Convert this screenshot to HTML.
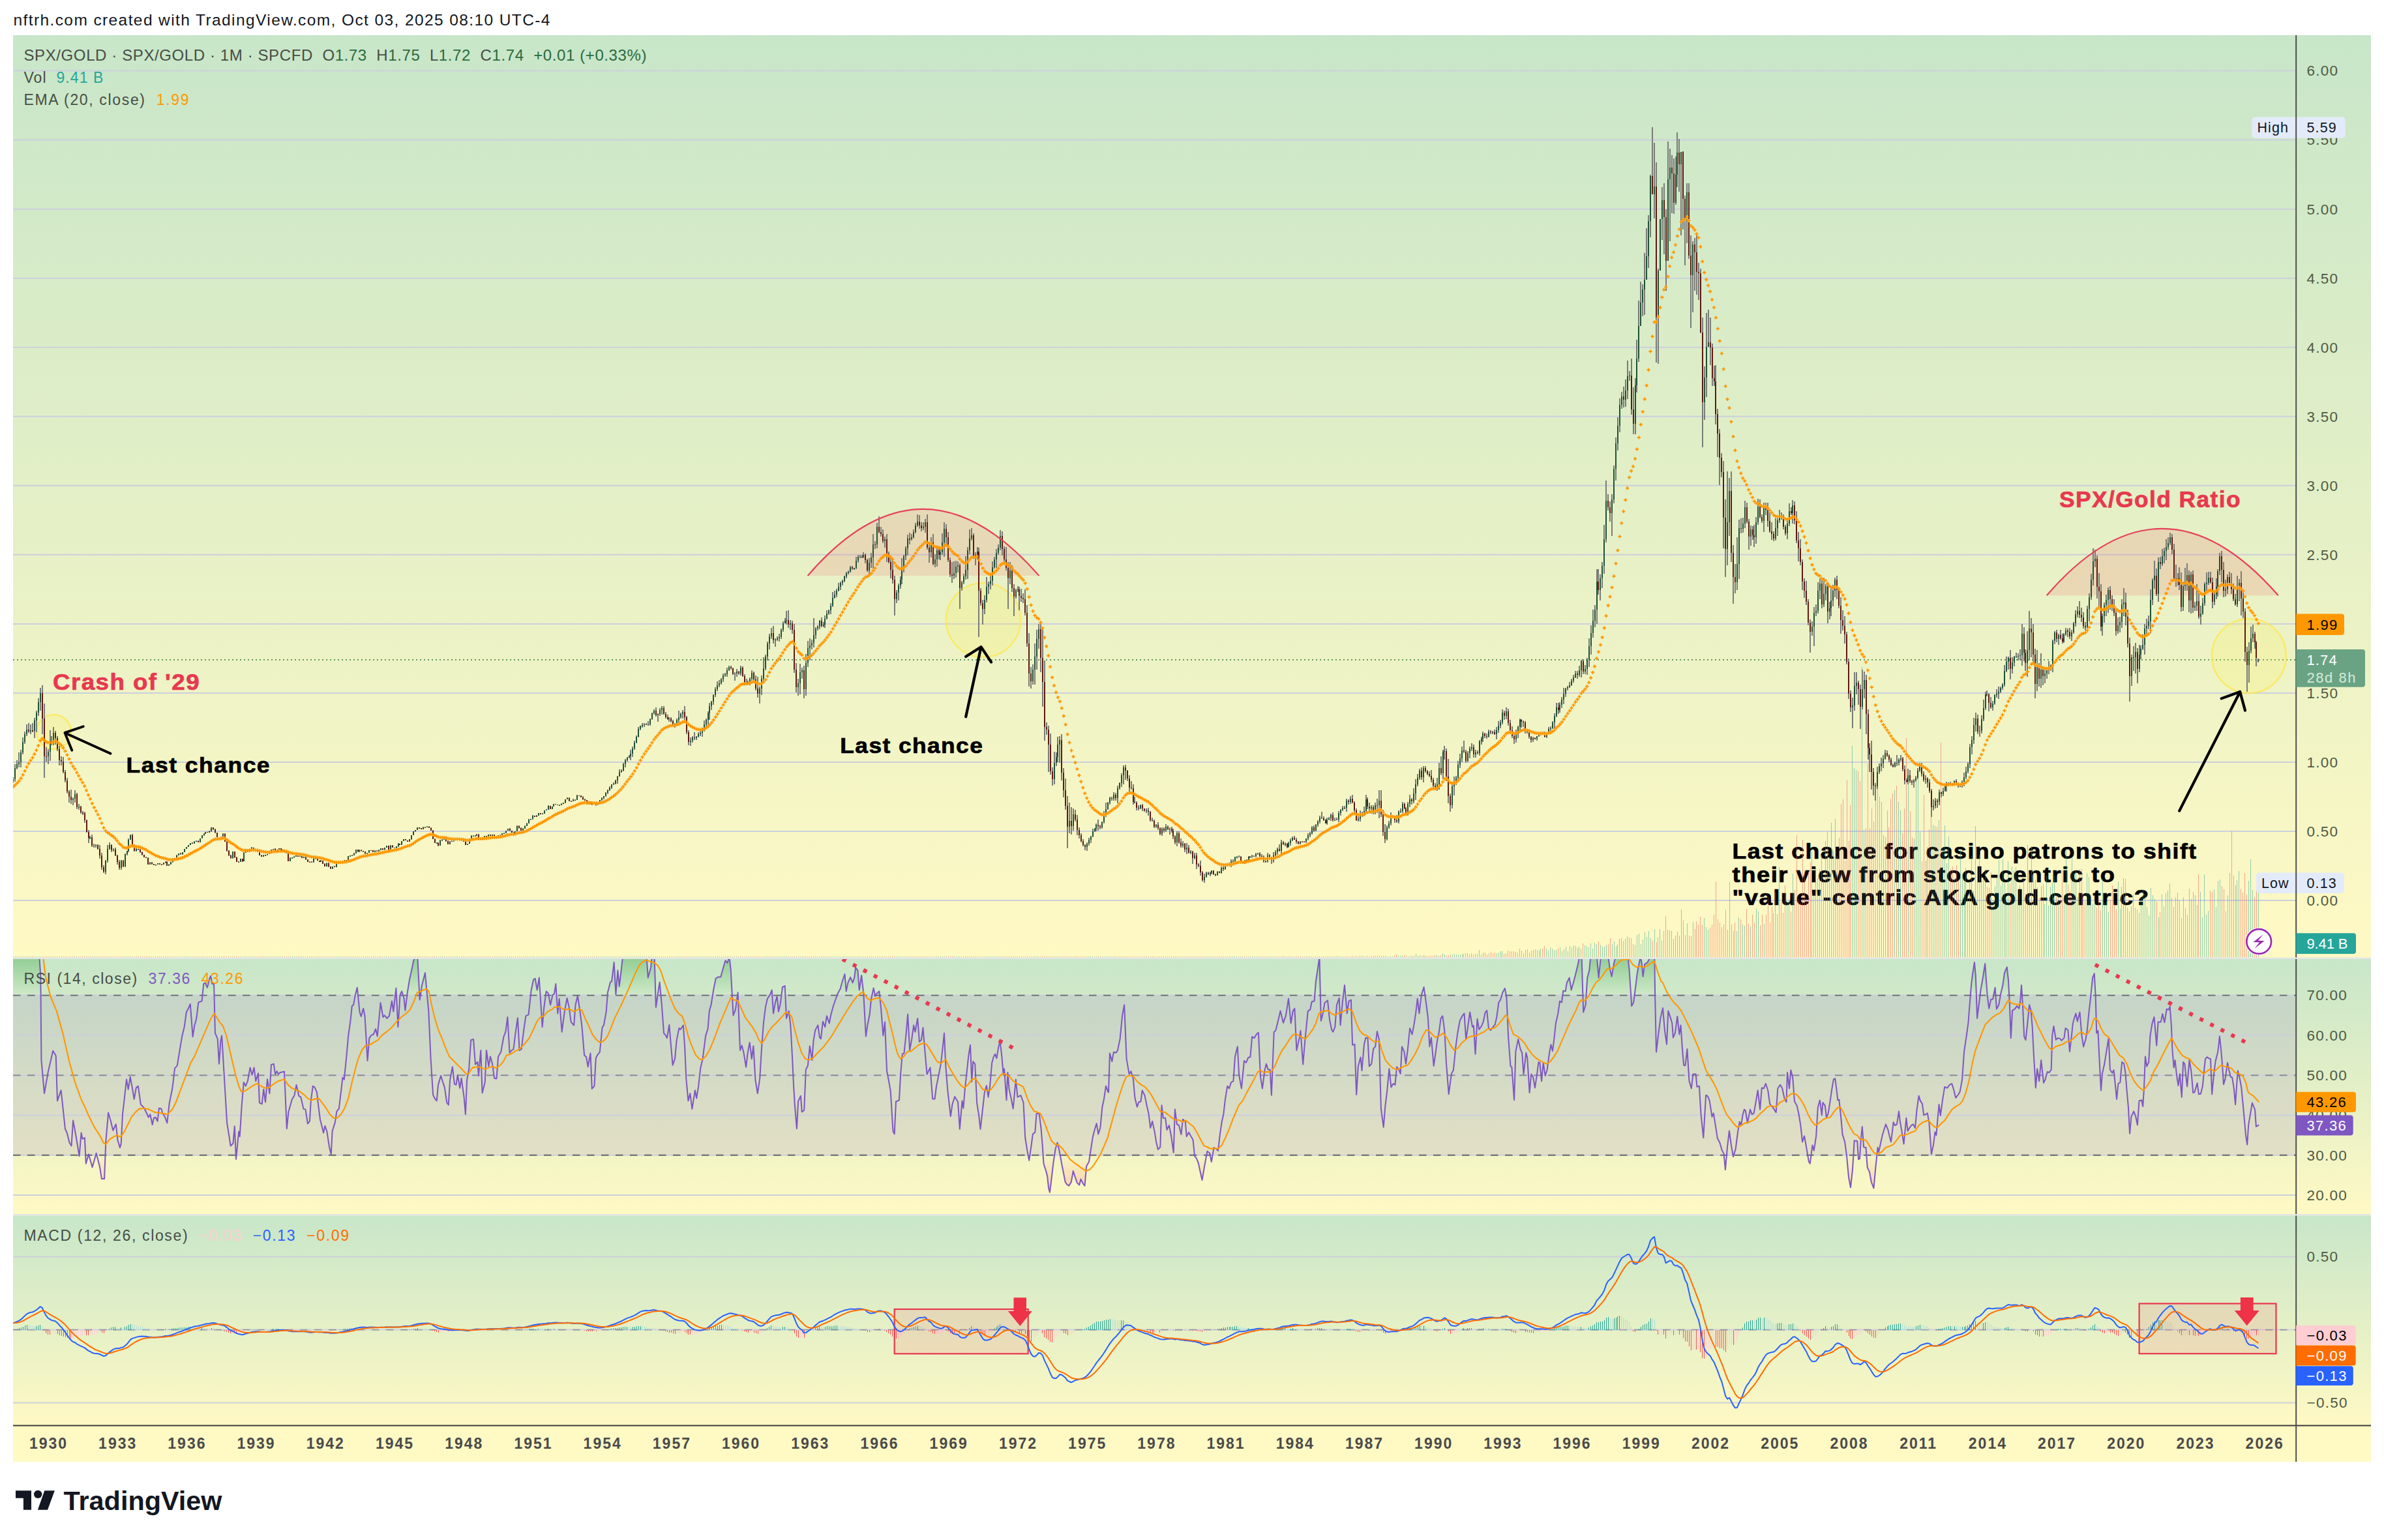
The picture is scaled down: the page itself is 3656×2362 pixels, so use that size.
<!DOCTYPE html>
<html><head><meta charset="utf-8"><title>SPX/GOLD</title>
<style>
html,body{margin:0;padding:0;background:#fff;}
body{width:3656px;height:2362px;overflow:hidden;font-family:'Liberation Sans', sans-serif;}
svg{display:block;position:absolute;left:0;top:0;}
text{font-family:'Liberation Sans', sans-serif;}
.ax{font-size:22.5px;fill:#4e5a46;letter-spacing:1.25px;}
.tm{font-size:23px;font-weight:bold;fill:#4a4a4a;letter-spacing:2px;text-anchor:middle;}
.lg{font-size:23px;fill:#474d45;letter-spacing:1.05px;}
.an{font-weight:bold;letter-spacing:1.4px;stroke-width:0.7px;}
</style></head><body>
<svg width="3656" height="2362" viewBox="0 0 3656 2362">
<defs>
<linearGradient id="g1" x1="0" y1="0" x2="0" y2="1"><stop offset="0" stop-color="#c8e6c9"/><stop offset="1" stop-color="#fff9c4"/></linearGradient>
<linearGradient id="gup" x1="0" y1="1471.0" x2="0" y2="1526.6" gradientUnits="userSpaceOnUse"><stop offset="0" stop-color="#4caf50" stop-opacity="0.42"/><stop offset="1" stop-color="#4caf50" stop-opacity="0"/></linearGradient>
<linearGradient id="gdn" x1="0" y1="1771.8" x2="0" y2="1869.9" gradientUnits="userSpaceOnUse"><stop offset="0" stop-color="#ff5252" stop-opacity="0"/><stop offset="1" stop-color="#ff5252" stop-opacity="0.42"/></linearGradient>
<clipPath id="cm"><rect x="20" y="54" width="3501.2" height="1414.5"/></clipPath>
<clipPath id="cr"><rect x="20" y="1471.0" width="3501.2" height="391.0"/></clipPath>
<clipPath id="cr70"><rect x="20" y="1471.0" width="3501.2" height="55.6"/></clipPath>
<clipPath id="cr30"><rect x="20" y="1771.8" width="3501.2" height="90.2"/></clipPath>
<clipPath id="cd"><rect x="20" y="1864.5" width="3501.2" height="322.0999999999999"/></clipPath>
</defs>

<text x="20.5" y="38.9" font-size="24.5" fill="#131722" textLength="823" lengthAdjust="spacing">nftrh.com created with TradingView.com, Oct 03, 2025 08:10 UTC-4</text>
<rect x="20" y="54" width="3616" height="2188" fill="#fff9c4"/>
<rect x="20" y="54" width="3616" height="1414.5" fill="url(#g1)"/>
<rect x="20" y="1471.0" width="3616" height="391.0" fill="url(#g1)"/>
<rect x="20" y="1864.5" width="3616" height="322.0999999999999" fill="url(#g1)"/>
<path d="M20 1381.0H3521.2M20 1275.0H3521.2M20 1168.9H3521.2M20 1062.9H3521.2M20 956.9H3521.2M20 850.8H3521.2M20 744.8H3521.2M20 638.8H3521.2M20 532.7H3521.2M20 426.7H3521.2M20 320.7H3521.2M20 214.6H3521.2M20 108.6H3521.2" stroke="#ccd0dd" stroke-width="2" fill="none"/>
<text class="an" x="2656.6" y="1316.6" font-size="33.5" fill="#000" stroke="#000" textLength="713" lengthAdjust="spacingAndGlyphs">Last chance for casino patrons to shift</text>
<text class="an" x="2656.6" y="1352.5" font-size="33.5" fill="#000" stroke="#000" textLength="588" lengthAdjust="spacingAndGlyphs">their view from stock-centric to</text>
<text class="an" x="2656.6" y="1388.4" font-size="33.5" fill="#000" stroke="#000" textLength="640" lengthAdjust="spacingAndGlyphs">"value"-centric AKA gold-centric?</text>
<g clip-path="url(#cm)">
<path shape-rendering="crispEdges" d="M44 1468.5v-1.7M49.9 1468.5v-1.7M64.6 1468.5v-1.7M67.6 1468.5v-1.7M70.5 1468.5v-1.7M79.4 1468.5v-1.7M85.3 1468.5v-1.7M88.3 1468.5v-1.7M91.2 1468.5v-1.7M94.2 1468.5v-1.7M97.1 1468.5v-1.7M100.1 1468.5v-1.7M103 1468.5v-1.7M106 1468.5v-1.7M108.9 1468.5v-1.7M117.8 1468.5v-1.7M123.7 1468.5v-1.7M126.6 1468.5v-1.7M129.6 1468.5v-1.7M132.5 1468.5v-1.7M135.5 1468.5v-1.7M141.4 1468.5v-1.7M150.2 1468.5v-1.7M153.2 1468.5v-1.7M156.1 1468.5v-1.7M159.1 1468.5v-1.7M170.9 1468.5v-1.7M176.8 1468.5v-1.7M179.7 1468.5v-1.7M182.7 1468.5v-1.7M188.6 1468.5v-1.7M203.3 1468.5v-1.7M206.3 1468.5v-1.7M212.2 1468.5v-1.7M215.1 1468.5v-1.7M218.1 1468.5v-1.7M221 1468.5v-1.7M224 1468.5v-1.7M226.9 1468.5v-1.7M232.8 1468.5v-1.7M235.8 1468.5v-1.7M244.6 1468.5v-1.7M247.6 1468.5v-1.7M256.4 1468.5v-1.7M277.1 1468.5v-1.7M294.8 1468.5v-1.7M303.6 1468.5v-1.7M318.4 1468.5v-1.7M327.2 1468.5v-1.7M330.2 1468.5v-1.7M333.1 1468.5v-1.7M336.1 1468.5v-1.7M339 1468.5v-1.7M344.9 1468.5v-1.7M347.9 1468.5v-1.7M350.8 1468.5v-1.7M353.8 1468.5v-1.7M359.7 1468.5v-1.7M362.6 1468.5v-1.7M365.6 1468.5v-1.7M371.5 1468.5v-1.7M380.3 1468.5v-1.7M389.2 1468.5v-1.7M392.1 1468.5v-1.7M395.1 1468.5v-1.7M398 1468.5v-1.7M401 1468.5v-1.7M421.6 1468.5v-1.7M430.5 1468.5v-1.7M436.4 1468.5v-1.7M439.3 1468.5v-1.7M442.3 1468.5v-1.7M457 1468.5v-1.7M462.9 1468.5v-1.7M468.8 1468.5v-1.7M471.8 1468.5v-1.7M474.7 1468.5v-1.7M483.6 1468.5v-1.7M486.5 1468.5v-1.7M489.5 1468.5v-1.7M495.4 1468.5v-1.7M498.3 1468.5v-1.7M504.2 1468.5v-1.7M507.2 1468.5v-1.7M513.1 1468.5v-1.7M524.9 1468.5v-1.7M530.8 1468.5v-1.7M548.5 1468.5v-1.7M554.4 1468.5v-1.7M557.3 1468.5v-1.7M560.3 1468.5v-1.7M569.2 1468.5v-1.7M572.1 1468.5v-1.7M578 1468.5v-1.7M586.9 1468.5v-1.7M595.7 1468.5v-1.7M601.6 1468.5v-1.7M613.4 1468.5v-1.7M622.3 1468.5v-1.7M625.2 1468.5v-1.7M642.9 1468.5v-1.7M645.9 1468.5v-1.7M651.8 1468.5v-1.7M657.7 1468.5v-1.7M660.6 1468.5v-1.7M663.6 1468.5v-1.7M666.5 1468.5v-1.7M672.4 1468.5v-1.7M684.2 1468.5v-1.7M687.2 1468.5v-1.7M704.9 1468.5v-1.7M710.8 1468.5v-1.7M713.7 1468.5v-1.7M728.5 1468.5v-1.7M734.4 1468.5v-1.7M740.3 1468.5v-1.7M746.2 1468.5v-1.7M752.1 1468.5v-1.7M758 1468.5v-1.7M781.6 1468.5v-1.7M784.5 1468.5v-1.7M787.5 1468.5v-1.7M796.3 1468.5v-1.7M799.3 1468.5v-1.7M819.9 1468.5v-1.7M828.8 1468.5v-1.7M843.5 1468.5v-1.7M852.4 1468.5v-1.7M855.3 1468.5v-1.7M873 1468.5v-1.7M881.9 1468.5v-1.7M887.8 1468.5v-1.7M890.7 1468.5v-1.7M893.7 1468.5v-1.7M896.6 1468.5v-1.7M899.6 1468.5v-1.7M905.5 1468.5v-1.7M908.4 1468.5v-1.7M914.3 1468.5v-1.7M991 1468.5v-1.7M1005.8 1468.5v-1.7M1017.6 1468.5v-1.7M1020.5 1468.5v-1.7M1023.5 1468.5v-1.7M1029.4 1468.5v-1.7M1032.3 1468.5v-1.7M1050 1468.5v-1.7M1053 1468.5v-1.7M1055.9 1468.5v-1.7M1064.8 1468.5v-1.7M1120.9 1468.5v-1.7M1123.8 1468.5v-1.7M1132.7 1468.5v-1.7M1138.6 1468.5v-1.7M1141.5 1468.5v-1.7M1147.4 1468.5v-1.7M1156.3 1468.5v-1.7M1159.2 1468.5v-1.7M1162.2 1468.5v-1.7M1185.8 1468.5v-1.7M1209.4 1468.5v-1.7M1215.3 1468.5v-1.7M1218.2 1468.5v-1.7M1221.2 1468.5v-1.7M1233 1468.5v-1.7M1259.5 1468.5v-1.7M1306.7 1468.5v-1.7M1321.5 1468.5v-1.7M1327.4 1468.5v-1.7M1330.3 1468.5v-1.7M1342.1 1468.5v-1.7M1348 1468.5v-1.7M1351 1468.5v-1.7M1353.9 1468.5v-1.7M1359.8 1468.5v-1.7M1362.8 1468.5v-1.7M1365.7 1468.5v-1.7M1368.7 1468.5v-1.7M1371.6 1468.5v-1.7M1395.2 1468.5v-1.7M1410 1468.5v-1.7M1412.9 1468.5v-1.7M1421.8 1468.5v-1.7M1424.7 1468.5v-1.7M1430.6 1468.5v-1.7M1439.5 1468.5v-1.7M1451.3 1468.5v-1.7M1454.2 1468.5v-1.7M1457.2 1468.5v-1.7M1460.1 1468.5v-1.7M1471.9 1468.5v-1.7M1492.6 1468.5v-1.7M1501.4 1468.5v-1.7M1504.4 1468.5v-1.7M1507.3 1468.5v-1.7M1536.8 1468.5v-1.7M1539.8 1468.5v-1.7M1542.7 1468.5v-1.7M1545.7 1468.5v-1.7M1551.6 1468.5v-1.7M1554.6 1468.5v-1.7M1563.4 1468.5v-1.7M1566.4 1468.5v-1.7M1569.3 1468.5v-1.7M1572.3 1468.5v-1.7M1575.2 1468.5v-1.7M1578.2 1468.5v-1.7M1581.1 1468.5v-1.7M1595.9 1468.5v-1.7M1598.8 1468.5v-1.7M1601.8 1468.5v-1.7M1604.7 1468.5v-1.7M1607.7 1468.5v-1.7M1610.6 1468.5v-1.7M1613.6 1468.5v-1.7M1628.3 1468.5v-1.7M1631.3 1468.5v-1.7M1634.2 1468.5v-1.7M1637.2 1468.5v-1.7M1643.1 1468.5v-1.7M1649 1468.5v-1.7M1651.9 1468.5v-1.7M1654.9 1468.5v-1.7M1657.8 1468.5v-1.7M1660.8 1468.5v-1.7M1663.7 1468.5v-1.7M1684.4 1468.5v-1.7M1687.3 1468.5v-1.7M1705 1468.5v-1.7M1710.9 1468.5v-1.7M1725.7 1468.5v-1.7M1728.6 1468.5v-1.7M1731.6 1468.5v-1.7M1734.5 1468.5v-1.7M1737.5 1468.5v-1.7M1740.4 1468.5v-1.7M1743.4 1468.5v-1.7M1746.3 1468.5v-1.7M1752.2 1468.5v-1.7M1755.2 1468.5v-1.7M1761.1 1468.5v-1.7M1764 1468.5v-1.7M1767 1468.5v-1.7M1769.9 1468.5v-1.7M1775.8 1468.5v-1.7M1778.8 1468.5v-1.7M1784.7 1468.5v-1.7M1790.6 1468.5v-1.7M1796.5 1468.5v-1.7M1799.4 1468.5v-1.7M1802.4 1468.5v-1.7M1808.3 1468.5v-1.7M1811.2 1468.5v-1.7M1817.1 1468.5v-1.7M1823 1468.5v-1.9M1828.9 1468.5v-1.7M1834.8 1468.5v-1.7M1837.8 1468.5v-1.7M1840.7 1468.5v-1.7M1843.7 1468.5v-1.7M1852.5 1468.5v-1.7M1861.4 1468.5v-1.7M1864.3 1468.5v-1.7M1870.2 1468.5v-1.7M1876.1 1468.5v-1.7M1885 1468.5v-1.7M1902.7 1468.5v-1.7M1905.6 1468.5v-1.7M1911.5 1468.5v-1.7M1917.4 1468.5v-1.7M1932.2 1468.5v-1.7M1935.1 1468.5v-1.7M1938.1 1468.5v-1.7M1941 1468.5v-1.7M1946.9 1468.5v-1.7M1949.9 1468.5v-1.7M1961.7 1468.5v-1.7M1967.6 1468.5v-2.6M1973.5 1468.5v-1.7M1985.3 1468.5v-1.7M1988.2 1468.5v-1.7M1991.2 1468.5v-1.7M1997.1 1468.5v-1.7M2000 1468.5v-1.7M2014.8 1468.5v-1.9M2026.6 1468.5v-1.9M2029.5 1468.5v-1.7M2032.5 1468.5v-1.7M2044.3 1468.5v-1.7M2062 1468.5v-1.7M2067.9 1468.5v-1.7M2073.8 1468.5v-2.4M2076.8 1468.5v-1.7M2079.7 1468.5v-2.4M2097.4 1468.5v-2.4M2100.4 1468.5v-1.7M2106.3 1468.5v-2.6M2118.1 1468.5v-2.4M2121 1468.5v-2.5M2124 1468.5v-2.8M2138.7 1468.5v-2.3M2141.7 1468.5v-4.8M2153.5 1468.5v-3.1M2156.4 1468.5v-2.6M2165.3 1468.5v-2.2M2180 1468.5v-2.6M2185.9 1468.5v-2.5M2188.9 1468.5v-2.7M2191.8 1468.5v-2.3M2194.8 1468.5v-2.5M2197.7 1468.5v-2.3M2200.7 1468.5v-3.6M2209.5 1468.5v-3.3M2218.4 1468.5v-2.5M2221.3 1468.5v-2.5M2224.3 1468.5v-4.9M2244.9 1468.5v-5.6M2247.9 1468.5v-6.4M2259.7 1468.5v-4.6M2265.6 1468.5v-5.5M2277.4 1468.5v-7.9M2280.3 1468.5v-4.4M2286.2 1468.5v-8.7M2289.2 1468.5v-6.4M2292.1 1468.5v-7.6M2306.9 1468.5v-5.3M2312.8 1468.5v-10.6M2315.7 1468.5v-9.4M2318.7 1468.5v-9.7M2321.6 1468.5v-9.4M2333.4 1468.5v-10.3M2336.4 1468.5v-7M2339.3 1468.5v-11.2M2342.3 1468.5v-12.3M2345.2 1468.5v-7.3M2348.2 1468.5v-10.8M2354.1 1468.5v-12.8M2365.9 1468.5v-13.6M2368.8 1468.5v-17.6M2389.5 1468.5v-13.8M2419 1468.5v-14.3M2427.8 1468.5v-21.6M2451.4 1468.5v-24.6M2466.2 1468.5v-20.1M2469.1 1468.5v-29.6M2489.8 1468.5v-25.3M2501.6 1468.5v-29.4M2504.5 1468.5v-21M2534.1 1468.5v-25.3M2540 1468.5v-23.6M2551.8 1468.5v-40.6M2554.7 1468.5v-63.1M2563.6 1468.5v-40.4M2566.5 1468.5v-29M2575.4 1468.5v-33.8M2581.3 1468.5v-57.6M2584.2 1468.5v-34.8M2590.1 1468.5v-33.5M2593.1 1468.5v-32.8M2599 1468.5v-43.9M2601.9 1468.5v-55.4M2604.9 1468.5v-50.4M2607.8 1468.5v-62.5M2610.8 1468.5v-49.6M2622.6 1468.5v-45.3M2625.5 1468.5v-51M2628.5 1468.5v-65.3M2631.4 1468.5v-116.6M2634.4 1468.5v-59M2637.3 1468.5v-53.2M2640.3 1468.5v-46.2M2643.2 1468.5v-50.5M2646.2 1468.5v-73.8M2655 1468.5v-50.4M2658 1468.5v-40.6M2660.9 1468.5v-53.3M2669.8 1468.5v-58.8M2678.6 1468.5v-74.3M2681.6 1468.5v-51.7M2687.5 1468.5v-65.2M2690.4 1468.5v-53.7M2699.3 1468.5v-49.2M2702.2 1468.5v-65.6M2708.1 1468.5v-65.7M2711.1 1468.5v-92.8M2714 1468.5v-53.3M2717 1468.5v-77.9M2719.9 1468.5v-68.9M2731.7 1468.5v-85.4M2734.7 1468.5v-68.5M2737.6 1468.5v-110.8M2746.5 1468.5v-70.5M2752.4 1468.5v-103.6M2755.3 1468.5v-188M2758.3 1468.5v-89.9M2761.2 1468.5v-83.9M2764.2 1468.5v-180.4M2767.1 1468.5v-133.9M2770.1 1468.5v-84.5M2773 1468.5v-131.3M2776 1468.5v-145.1M2793.7 1468.5v-156.4M2802.5 1468.5v-192.4M2817.3 1468.5v-155.3M2820.2 1468.5v-183.7M2823.2 1468.5v-235.1M2826.1 1468.5v-242.9M2829.1 1468.5v-148.5M2832 1468.5v-272.3M2835 1468.5v-178.9M2837.9 1468.5v-233.3M2849.7 1468.5v-286M2852.7 1468.5v-270.3M2861.5 1468.5v-198.7M2864.5 1468.5v-297.8M2867.4 1468.5v-198.9M2870.4 1468.5v-228.6M2873.3 1468.5v-208.2M2876.3 1468.5v-265.8M2894 1468.5v-225.1M2896.9 1468.5v-199.1M2899.9 1468.5v-243.6M2902.8 1468.5v-251.8M2908.7 1468.5v-263.8M2917.6 1468.5v-191M2920.5 1468.5v-228.7M2923.5 1468.5v-336.2M2929.4 1468.5v-224.6M2932.3 1468.5v-184.2M2947.1 1468.5v-147.7M2950 1468.5v-249.9M2955.9 1468.5v-169.1M2958.9 1468.5v-196.8M2961.8 1468.5v-216.7M2970.7 1468.5v-200.7M2976.6 1468.5v-329.3M2991.3 1468.5v-135.1M2994.3 1468.5v-139.2M3000.2 1468.5v-141.2M3003.1 1468.5v-120M3032.7 1468.5v-129.8M3047.4 1468.5v-108.4M3050.4 1468.5v-107M3053.3 1468.5v-130.9M3082.8 1468.5v-113.2M3103.5 1468.5v-118.1M3106.4 1468.5v-98.7M3115.3 1468.5v-170.6M3118.2 1468.5v-132M3121.2 1468.5v-119.8M3127.1 1468.5v-91.9M3133 1468.5v-112.8M3153.6 1468.5v-94.7M3159.5 1468.5v-90.7M3162.5 1468.5v-133.7M3171.3 1468.5v-111.5M3174.3 1468.5v-101.7M3189 1468.5v-136M3192 1468.5v-135.1M3194.9 1468.5v-97.5M3197.9 1468.5v-86.1M3215.6 1468.5v-76.8M3218.5 1468.5v-93.9M3221.5 1468.5v-72.8M3236.2 1468.5v-88.1M3239.2 1468.5v-110.3M3242.1 1468.5v-82.7M3245.1 1468.5v-73.6M3259.8 1468.5v-120.7M3262.8 1468.5v-77M3265.7 1468.5v-70.9M3271.6 1468.5v-96.7M3277.5 1468.5v-74M3307 1468.5v-85.6M3312.9 1468.5v-70M3330.6 1468.5v-91.2M3333.6 1468.5v-77.6M3336.5 1468.5v-92.2M3342.4 1468.5v-87.7M3345.4 1468.5v-60.9M3357.2 1468.5v-106M3363.1 1468.5v-100.9M3371.9 1468.5v-127.9M3389.6 1468.5v-102.8M3392.6 1468.5v-100.5M3407.3 1468.5v-109.6M3410.3 1468.5v-104.8M3419.1 1468.5v-129.7M3422.1 1468.5v-193.5M3425 1468.5v-125.7M3428 1468.5v-110.1M3436.8 1468.5v-105.6M3439.8 1468.5v-99.9M3442.7 1468.5v-129.9M3445.7 1468.5v-96.5M3457.5 1468.5v-92.7M3460.4 1468.5v-108.3" stroke="#ef5350" stroke-opacity="0.5" stroke-width="1" fill="none"/>
<path shape-rendering="crispEdges" d="M20.4 1468.5v-1.7M23.3 1468.5v-1.7M26.3 1468.5v-1.7M29.2 1468.5v-1.7M32.2 1468.5v-1.7M35.1 1468.5v-1.7M38.1 1468.5v-1.7M41 1468.5v-1.7M46.9 1468.5v-1.7M52.8 1468.5v-1.7M55.8 1468.5v-1.7M58.7 1468.5v-1.7M61.7 1468.5v-1.7M73.5 1468.5v-1.7M76.5 1468.5v-1.7M82.4 1468.5v-1.7M111.9 1468.5v-1.7M114.8 1468.5v-1.7M120.7 1468.5v-1.7M138.4 1468.5v-1.7M144.3 1468.5v-1.7M147.3 1468.5v-1.7M162 1468.5v-1.7M165 1468.5v-1.7M167.9 1468.5v-1.7M173.8 1468.5v-1.7M185.6 1468.5v-1.7M191.5 1468.5v-1.7M194.5 1468.5v-1.7M197.4 1468.5v-1.7M200.4 1468.5v-1.7M209.2 1468.5v-1.7M229.9 1468.5v-1.7M238.7 1468.5v-1.7M241.7 1468.5v-1.7M250.5 1468.5v-1.7M253.5 1468.5v-1.7M259.4 1468.5v-1.7M262.3 1468.5v-1.7M265.3 1468.5v-1.7M268.2 1468.5v-1.7M271.2 1468.5v-1.7M274.1 1468.5v-1.7M280 1468.5v-1.7M283 1468.5v-1.7M285.9 1468.5v-1.7M288.9 1468.5v-1.7M291.8 1468.5v-1.7M297.7 1468.5v-1.7M300.7 1468.5v-1.7M306.6 1468.5v-1.7M309.5 1468.5v-1.7M312.5 1468.5v-1.7M315.4 1468.5v-1.7M321.3 1468.5v-1.7M324.3 1468.5v-1.7M342 1468.5v-1.7M356.7 1468.5v-1.7M368.5 1468.5v-1.7M374.4 1468.5v-1.7M377.4 1468.5v-1.7M383.3 1468.5v-1.7M386.2 1468.5v-1.7M403.9 1468.5v-1.7M406.9 1468.5v-1.7M409.8 1468.5v-1.7M412.8 1468.5v-1.7M415.7 1468.5v-1.7M418.7 1468.5v-1.7M424.6 1468.5v-1.7M427.5 1468.5v-1.7M433.4 1468.5v-1.7M445.2 1468.5v-1.7M448.2 1468.5v-1.7M451.1 1468.5v-1.7M454.1 1468.5v-1.7M460 1468.5v-1.7M465.9 1468.5v-1.7M477.7 1468.5v-1.7M480.6 1468.5v-1.7M492.4 1468.5v-1.7M501.3 1468.5v-1.7M510.1 1468.5v-1.7M516 1468.5v-1.7M519 1468.5v-1.7M521.9 1468.5v-1.7M527.8 1468.5v-1.7M533.7 1468.5v-1.7M536.7 1468.5v-1.7M539.6 1468.5v-1.7M542.6 1468.5v-1.7M545.5 1468.5v-1.7M551.4 1468.5v-1.7M563.2 1468.5v-1.7M566.2 1468.5v-1.7M575.1 1468.5v-1.7M581 1468.5v-1.7M583.9 1468.5v-1.7M589.8 1468.5v-1.7M592.8 1468.5v-1.7M598.7 1468.5v-1.7M604.6 1468.5v-1.7M607.5 1468.5v-1.7M610.5 1468.5v-1.7M616.4 1468.5v-1.7M619.3 1468.5v-1.7M628.2 1468.5v-1.7M631.1 1468.5v-1.7M634.1 1468.5v-1.7M637 1468.5v-1.7M640 1468.5v-1.7M648.8 1468.5v-1.7M654.7 1468.5v-1.7M669.5 1468.5v-1.7M675.4 1468.5v-1.7M678.3 1468.5v-1.7M681.3 1468.5v-1.7M690.1 1468.5v-1.7M693.1 1468.5v-1.7M696 1468.5v-1.7M699 1468.5v-1.7M701.9 1468.5v-1.7M707.8 1468.5v-1.7M716.7 1468.5v-1.7M719.6 1468.5v-1.7M722.6 1468.5v-1.7M725.5 1468.5v-1.7M731.4 1468.5v-1.7M737.3 1468.5v-1.7M743.2 1468.5v-1.7M749.1 1468.5v-1.7M755 1468.5v-1.7M760.9 1468.5v-1.7M763.9 1468.5v-1.7M766.8 1468.5v-1.7M769.8 1468.5v-1.7M772.7 1468.5v-1.7M775.7 1468.5v-1.7M778.6 1468.5v-1.7M790.4 1468.5v-1.7M793.4 1468.5v-1.7M802.2 1468.5v-1.7M805.2 1468.5v-1.7M808.1 1468.5v-1.7M811.1 1468.5v-1.7M814 1468.5v-1.7M817 1468.5v-1.7M822.9 1468.5v-1.7M825.8 1468.5v-1.7M831.7 1468.5v-1.7M834.7 1468.5v-1.7M837.6 1468.5v-1.7M840.6 1468.5v-1.7M846.5 1468.5v-1.7M849.4 1468.5v-1.7M858.3 1468.5v-1.7M861.2 1468.5v-1.7M864.2 1468.5v-1.7M867.1 1468.5v-1.7M870.1 1468.5v-1.7M876 1468.5v-1.7M878.9 1468.5v-1.7M884.8 1468.5v-1.7M902.5 1468.5v-1.7M911.4 1468.5v-1.7M917.3 1468.5v-1.7M920.2 1468.5v-1.7M923.2 1468.5v-1.7M926.1 1468.5v-1.7M929.1 1468.5v-1.7M932 1468.5v-1.7M935 1468.5v-1.7M937.9 1468.5v-1.7M940.9 1468.5v-1.7M943.8 1468.5v-1.7M946.8 1468.5v-1.7M949.7 1468.5v-1.7M952.7 1468.5v-1.7M955.6 1468.5v-1.7M958.6 1468.5v-1.7M961.5 1468.5v-1.7M964.5 1468.5v-1.7M967.4 1468.5v-1.7M970.4 1468.5v-1.7M973.3 1468.5v-1.7M976.3 1468.5v-1.7M979.2 1468.5v-1.7M982.2 1468.5v-1.7M985.1 1468.5v-1.7M988.1 1468.5v-1.7M994 1468.5v-1.7M996.9 1468.5v-1.7M999.9 1468.5v-1.7M1002.8 1468.5v-1.7M1008.7 1468.5v-1.7M1011.7 1468.5v-1.7M1014.6 1468.5v-1.7M1026.4 1468.5v-1.7M1035.3 1468.5v-1.7M1038.2 1468.5v-1.7M1041.2 1468.5v-1.7M1044.1 1468.5v-1.7M1047.1 1468.5v-1.7M1058.9 1468.5v-1.7M1061.9 1468.5v-1.7M1067.8 1468.5v-1.7M1070.7 1468.5v-1.7M1073.7 1468.5v-1.7M1076.6 1468.5v-1.7M1079.6 1468.5v-1.7M1082.5 1468.5v-1.7M1085.5 1468.5v-1.7M1088.4 1468.5v-1.7M1091.4 1468.5v-1.7M1094.3 1468.5v-1.7M1097.3 1468.5v-1.7M1100.2 1468.5v-1.7M1103.2 1468.5v-1.7M1106.1 1468.5v-1.7M1109.1 1468.5v-1.7M1112 1468.5v-1.7M1115 1468.5v-1.7M1117.9 1468.5v-1.7M1126.8 1468.5v-1.7M1129.7 1468.5v-1.7M1135.6 1468.5v-1.7M1144.5 1468.5v-1.7M1150.4 1468.5v-1.7M1153.3 1468.5v-1.7M1165.1 1468.5v-1.7M1168.1 1468.5v-1.7M1171 1468.5v-1.7M1174 1468.5v-1.7M1176.9 1468.5v-1.7M1179.9 1468.5v-1.7M1182.8 1468.5v-1.7M1188.7 1468.5v-1.7M1191.7 1468.5v-1.7M1194.6 1468.5v-1.7M1197.6 1468.5v-1.7M1200.5 1468.5v-1.7M1203.5 1468.5v-1.7M1206.4 1468.5v-1.7M1212.3 1468.5v-1.7M1224.1 1468.5v-1.7M1227.1 1468.5v-1.7M1230 1468.5v-1.7M1235.9 1468.5v-1.7M1238.9 1468.5v-1.7M1241.8 1468.5v-1.7M1244.8 1468.5v-1.7M1247.7 1468.5v-1.7M1250.7 1468.5v-1.7M1253.6 1468.5v-1.7M1256.6 1468.5v-1.7M1262.5 1468.5v-1.7M1265.4 1468.5v-1.7M1268.4 1468.5v-1.7M1271.3 1468.5v-1.7M1274.3 1468.5v-1.7M1277.2 1468.5v-1.7M1280.2 1468.5v-1.7M1283.1 1468.5v-1.7M1286.1 1468.5v-1.7M1289 1468.5v-1.7M1292 1468.5v-1.7M1294.9 1468.5v-1.7M1297.9 1468.5v-1.7M1300.8 1468.5v-1.7M1303.8 1468.5v-1.7M1309.7 1468.5v-1.7M1312.6 1468.5v-1.7M1315.6 1468.5v-1.7M1318.5 1468.5v-1.7M1324.4 1468.5v-1.7M1333.3 1468.5v-1.7M1336.2 1468.5v-1.7M1339.2 1468.5v-1.7M1345.1 1468.5v-1.7M1356.9 1468.5v-1.7M1374.6 1468.5v-1.7M1377.5 1468.5v-1.7M1380.5 1468.5v-1.7M1383.4 1468.5v-1.7M1386.4 1468.5v-1.7M1389.3 1468.5v-1.7M1392.3 1468.5v-1.7M1398.2 1468.5v-1.7M1401.1 1468.5v-1.7M1404.1 1468.5v-1.7M1407 1468.5v-1.7M1415.9 1468.5v-1.7M1418.8 1468.5v-1.7M1427.7 1468.5v-1.7M1433.6 1468.5v-1.7M1436.5 1468.5v-1.7M1442.4 1468.5v-1.7M1445.4 1468.5v-1.7M1448.3 1468.5v-1.7M1463.1 1468.5v-1.7M1466 1468.5v-1.7M1469 1468.5v-1.7M1474.9 1468.5v-1.7M1477.8 1468.5v-1.7M1480.8 1468.5v-1.7M1483.7 1468.5v-1.7M1486.7 1468.5v-1.7M1489.6 1468.5v-1.7M1495.5 1468.5v-1.7M1498.5 1468.5v-1.7M1510.3 1468.5v-1.7M1513.2 1468.5v-1.7M1516.2 1468.5v-1.7M1519.1 1468.5v-1.7M1522.1 1468.5v-1.7M1525 1468.5v-1.7M1528 1468.5v-1.7M1530.9 1468.5v-1.7M1533.9 1468.5v-1.7M1548.6 1468.5v-1.7M1557.5 1468.5v-1.7M1560.5 1468.5v-1.7M1584.1 1468.5v-1.7M1587 1468.5v-1.7M1590 1468.5v-1.7M1592.9 1468.5v-1.7M1616.5 1468.5v-1.7M1619.5 1468.5v-1.7M1622.4 1468.5v-1.7M1625.4 1468.5v-1.7M1640.1 1468.5v-1.7M1646 1468.5v-1.7M1666.7 1468.5v-1.7M1669.6 1468.5v-1.7M1672.6 1468.5v-1.7M1675.5 1468.5v-1.7M1678.5 1468.5v-1.7M1681.4 1468.5v-1.7M1690.3 1468.5v-1.7M1693.2 1468.5v-1.7M1696.2 1468.5v-1.7M1699.1 1468.5v-1.7M1702.1 1468.5v-1.7M1708 1468.5v-1.7M1713.9 1468.5v-1.7M1716.8 1468.5v-1.7M1719.8 1468.5v-1.7M1722.7 1468.5v-1.7M1749.3 1468.5v-1.7M1758.1 1468.5v-1.7M1772.9 1468.5v-1.7M1781.7 1468.5v-1.7M1787.6 1468.5v-1.7M1793.5 1468.5v-1.7M1805.3 1468.5v-1.7M1814.2 1468.5v-1.7M1820.1 1468.5v-1.7M1826 1468.5v-1.7M1831.9 1468.5v-1.7M1846.6 1468.5v-1.7M1849.6 1468.5v-1.7M1855.5 1468.5v-1.7M1858.4 1468.5v-1.7M1867.3 1468.5v-1.7M1873.2 1468.5v-1.7M1879.1 1468.5v-1.7M1882 1468.5v-1.7M1887.9 1468.5v-1.7M1890.9 1468.5v-1.7M1893.8 1468.5v-1.7M1896.8 1468.5v-1.7M1899.7 1468.5v-1.7M1908.6 1468.5v-1.7M1914.5 1468.5v-1.7M1920.4 1468.5v-1.7M1923.3 1468.5v-1.7M1926.3 1468.5v-1.7M1929.2 1468.5v-1.7M1944 1468.5v-1.7M1952.8 1468.5v-1.7M1955.8 1468.5v-1.7M1958.7 1468.5v-1.7M1964.6 1468.5v-1.7M1970.5 1468.5v-1.7M1976.4 1468.5v-1.7M1979.4 1468.5v-1.7M1982.3 1468.5v-1.7M1994.1 1468.5v-1.7M2003 1468.5v-1.9M2005.9 1468.5v-1.7M2008.9 1468.5v-1.7M2011.8 1468.5v-1.7M2017.7 1468.5v-1.7M2020.7 1468.5v-1.7M2023.6 1468.5v-1.7M2035.4 1468.5v-1.7M2038.4 1468.5v-2M2041.4 1468.5v-1.7M2047.3 1468.5v-2M2050.2 1468.5v-2.1M2053.2 1468.5v-1.7M2056.1 1468.5v-1.7M2059.1 1468.5v-1.7M2065 1468.5v-1.7M2070.9 1468.5v-2M2082.7 1468.5v-1.7M2085.6 1468.5v-2.7M2088.6 1468.5v-2.5M2091.5 1468.5v-1.7M2094.5 1468.5v-1.7M2103.3 1468.5v-2.5M2109.2 1468.5v-2.5M2112.2 1468.5v-2.7M2115.1 1468.5v-2.6M2126.9 1468.5v-1.9M2129.9 1468.5v-1.7M2132.8 1468.5v-1.7M2135.8 1468.5v-1.8M2144.6 1468.5v-2.3M2147.6 1468.5v-2.6M2150.5 1468.5v-2.2M2159.4 1468.5v-1.7M2162.3 1468.5v-2.8M2168.2 1468.5v-2.5M2171.2 1468.5v-5.1M2174.1 1468.5v-2.8M2177.1 1468.5v-3.2M2183 1468.5v-3.1M2203.6 1468.5v-3.4M2206.6 1468.5v-2.7M2212.5 1468.5v-6.3M2215.4 1468.5v-4.3M2227.2 1468.5v-4.4M2230.2 1468.5v-5.2M2233.1 1468.5v-4.6M2236.1 1468.5v-4.9M2239 1468.5v-5M2242 1468.5v-5.1M2250.8 1468.5v-6.4M2253.8 1468.5v-4.7M2256.7 1468.5v-6.3M2262.6 1468.5v-5.3M2268.5 1468.5v-11.4M2271.5 1468.5v-4.2M2274.4 1468.5v-7.3M2283.3 1468.5v-6.9M2295.1 1468.5v-6.9M2298 1468.5v-8M2301 1468.5v-9.5M2303.9 1468.5v-9.3M2309.8 1468.5v-6.6M2324.6 1468.5v-8.6M2327.5 1468.5v-7.6M2330.5 1468.5v-13.2M2351.1 1468.5v-11.7M2357 1468.5v-11.9M2360 1468.5v-10.5M2362.9 1468.5v-13.3M2371.8 1468.5v-13.4M2374.7 1468.5v-10.8M2377.7 1468.5v-15.9M2380.6 1468.5v-13.2M2383.6 1468.5v-12M2386.5 1468.5v-11.8M2392.4 1468.5v-15.7M2395.4 1468.5v-9.1M2398.3 1468.5v-12.9M2401.3 1468.5v-16.6M2404.2 1468.5v-10M2407.2 1468.5v-17.4M2410.1 1468.5v-15.5M2413.1 1468.5v-18.6M2416 1468.5v-17.4M2421.9 1468.5v-16.8M2424.9 1468.5v-13.4M2430.8 1468.5v-18.5M2433.7 1468.5v-17.3M2436.7 1468.5v-15.2M2439.6 1468.5v-21.7M2442.6 1468.5v-13.8M2445.5 1468.5v-22.3M2448.5 1468.5v-20.4M2454.4 1468.5v-19.8M2457.3 1468.5v-16.4M2460.3 1468.5v-16.6M2463.2 1468.5v-19.3M2472.1 1468.5v-20.4M2475 1468.5v-24.4M2478 1468.5v-17.9M2480.9 1468.5v-20.9M2483.9 1468.5v-28.6M2486.8 1468.5v-29.5M2492.7 1468.5v-29M2495.7 1468.5v-32.1M2498.6 1468.5v-30.5M2507.5 1468.5v-19.3M2510.4 1468.5v-34.1M2513.4 1468.5v-36.2M2516.3 1468.5v-20.8M2519.3 1468.5v-27.4M2522.2 1468.5v-38.7M2525.2 1468.5v-31.8M2528.1 1468.5v-40.2M2531.1 1468.5v-29.5M2537 1468.5v-43.2M2542.9 1468.5v-30.9M2545.9 1468.5v-43.6M2548.8 1468.5v-25.1M2557.7 1468.5v-43M2560.6 1468.5v-41.9M2569.5 1468.5v-33.3M2572.4 1468.5v-39.5M2578.3 1468.5v-73.7M2587.2 1468.5v-53M2596 1468.5v-54.5M2613.7 1468.5v-60.1M2616.7 1468.5v-46.5M2619.6 1468.5v-42.7M2649.1 1468.5v-42.1M2652.1 1468.5v-115.9M2663.9 1468.5v-41M2666.8 1468.5v-61.7M2672.7 1468.5v-50.9M2675.7 1468.5v-48.2M2684.5 1468.5v-47.7M2693.4 1468.5v-75.6M2696.3 1468.5v-71M2705.2 1468.5v-51.3M2722.9 1468.5v-100.3M2725.8 1468.5v-66.5M2728.8 1468.5v-138.6M2740.6 1468.5v-83.4M2743.5 1468.5v-88.7M2749.4 1468.5v-128.6M2778.9 1468.5v-162.7M2781.9 1468.5v-95.8M2784.8 1468.5v-137.6M2787.8 1468.5v-121.5M2790.7 1468.5v-135.9M2796.6 1468.5v-117.1M2799.6 1468.5v-178.5M2805.5 1468.5v-153M2808.4 1468.5v-206.9M2811.4 1468.5v-163.7M2814.3 1468.5v-212.7M2840.9 1468.5v-324.8M2843.8 1468.5v-290.4M2846.8 1468.5v-287.8M2855.6 1468.5v-445.9M2858.6 1468.5v-195.8M2879.2 1468.5v-259.9M2882.2 1468.5v-246.9M2885.1 1468.5v-238.2M2888.1 1468.5v-187.8M2891 1468.5v-184.1M2905.8 1468.5v-256.4M2911.7 1468.5v-238.4M2914.6 1468.5v-225.4M2926.4 1468.5v-271M2935.3 1468.5v-182.7M2938.2 1468.5v-272.7M2941.2 1468.5v-282.5M2944.1 1468.5v-192.4M2953 1468.5v-148.1M2964.8 1468.5v-203.4M2967.7 1468.5v-201.9M2973.6 1468.5v-210.5M2979.5 1468.5v-168.5M2982.5 1468.5v-202.5M2985.4 1468.5v-145M2988.4 1468.5v-185.3M2997.2 1468.5v-121.2M3006.1 1468.5v-164.2M3009 1468.5v-128.5M3012 1468.5v-115.6M3014.9 1468.5v-137.4M3017.9 1468.5v-95.8M3020.8 1468.5v-114.4M3023.8 1468.5v-155.4M3026.8 1468.5v-102.9M3029.7 1468.5v-202M3035.6 1468.5v-156.6M3038.6 1468.5v-125.5M3041.5 1468.5v-122.7M3044.5 1468.5v-134.5M3056.3 1468.5v-87.2M3059.2 1468.5v-109.3M3062.2 1468.5v-121.6M3065.1 1468.5v-149.8M3068.1 1468.5v-110.6M3071 1468.5v-150.7M3074 1468.5v-116.1M3076.9 1468.5v-89.6M3079.9 1468.5v-147.3M3085.8 1468.5v-139.9M3088.7 1468.5v-134M3091.7 1468.5v-138.1M3094.6 1468.5v-86.1M3097.6 1468.5v-110.5M3100.5 1468.5v-87.5M3109.4 1468.5v-172.1M3112.3 1468.5v-128.6M3124.1 1468.5v-108M3130 1468.5v-110M3135.9 1468.5v-81.6M3138.9 1468.5v-125.2M3141.8 1468.5v-79.9M3144.8 1468.5v-108.7M3147.7 1468.5v-114.7M3150.7 1468.5v-126M3156.6 1468.5v-96.7M3165.4 1468.5v-96M3168.4 1468.5v-166.7M3177.2 1468.5v-152.3M3180.2 1468.5v-129.4M3183.1 1468.5v-132.2M3186.1 1468.5v-92.1M3200.8 1468.5v-129.5M3203.8 1468.5v-123.4M3206.7 1468.5v-81.9M3209.7 1468.5v-82.3M3212.6 1468.5v-88.7M3224.4 1468.5v-121M3227.4 1468.5v-83.5M3230.3 1468.5v-85.5M3233.3 1468.5v-69.4M3248 1468.5v-116.5M3251 1468.5v-74.7M3253.9 1468.5v-108.3M3256.9 1468.5v-121.9M3268.7 1468.5v-78.1M3274.6 1468.5v-76.3M3280.5 1468.5v-68.4M3283.4 1468.5v-91.9M3286.4 1468.5v-104.3M3289.3 1468.5v-97.3M3292.3 1468.5v-77.3M3295.2 1468.5v-64.3M3298.2 1468.5v-106.2M3301.1 1468.5v-95.3M3304.1 1468.5v-89.3M3310 1468.5v-61.6M3315.9 1468.5v-96.1M3318.8 1468.5v-78.9M3321.8 1468.5v-98.3M3324.7 1468.5v-102.5M3327.7 1468.5v-113.1M3339.5 1468.5v-99.4M3348.3 1468.5v-92.3M3351.3 1468.5v-75.6M3354.2 1468.5v-65.4M3360.1 1468.5v-89.5M3366 1468.5v-95.1M3369 1468.5v-80.7M3374.9 1468.5v-100.6M3377.8 1468.5v-61.1M3380.8 1468.5v-127.3M3383.7 1468.5v-65.8M3386.7 1468.5v-71.8M3395.5 1468.5v-104.2M3398.5 1468.5v-78M3401.4 1468.5v-117.9M3404.4 1468.5v-119.1M3413.2 1468.5v-70.5M3416.2 1468.5v-95.6M3430.9 1468.5v-118.1M3433.9 1468.5v-132.4M3448.6 1468.5v-118M3451.6 1468.5v-150.7M3454.5 1468.5v-103.8M3463.4 1468.5v-126" stroke="#26a69a" stroke-opacity="0.5" stroke-width="1" fill="none"/>
<path d="M20 1012.0H3521.2" stroke="#5f9662" stroke-width="2" stroke-dasharray="2 4" fill="none"/>
<path d="M1238.6 883.1Q1414.8 678.7 1593.5 883.1Z" fill="#f23645" fill-opacity="0.125"/>
<path d="M3138.8 913.2Q3315.5 708.4 3493.8 913.2Z" fill="#f23645" fill-opacity="0.14"/>
<circle cx="82.6" cy="1122.7" r="26.5" fill="#ffeb3b" fill-opacity="0.17" stroke="#ffe74a" stroke-opacity="0.7" stroke-width="2.6"/>
<circle cx="1508" cy="951" r="57" fill="#ffeb3b" fill-opacity="0.17" stroke="#ffe74a" stroke-opacity="0.7" stroke-width="2.6"/>
<circle cx="3449" cy="1006" r="57" fill="#ffeb3b" fill-opacity="0.17" stroke="#ffe74a" stroke-opacity="0.7" stroke-width="2.6"/>
<path shape-rendering="crispEdges" d="M20.4 1192.3V1201M23.3 1171.9V1198.5M26.3 1166.2V1179.9M29.2 1153.7V1177.2M32.2 1150.1V1177.2M35.1 1131.2V1156.8M38.1 1122.2V1141.4M41 1111V1128.8M44 1108.6V1123.6M46.9 1111.4V1125.7M49.9 1109.4V1123.1M52.8 1100.8V1132M55.8 1090.1V1122.5M58.7 1070.7V1097.8M61.7 1054.5V1089.5M64.6 1051.1V1125.5M67.6 1078.6V1192.9M70.5 1145.9V1169.4M73.5 1148.8V1172M76.5 1120V1166.9M79.4 1128.9V1143M82.4 1114.9V1143.2M85.3 1121.2V1141.6M88.3 1128.8V1152.3M91.2 1143.5V1174M94.2 1160.4V1173.5M97.1 1160.8V1186M100.1 1181.3V1199.8M103 1193.1V1216.8M106 1211.8V1231.1M108.9 1210.7V1233.4M111.9 1223.4V1235M114.8 1212.4V1230.9M117.8 1216.2V1240.9M120.7 1233.1V1241.9M123.7 1236V1247.6M126.6 1244.3V1249.8M129.6 1245.1V1261.8M132.5 1256.6V1277.2M135.5 1273.1V1293.2M138.4 1282V1287.1M141.4 1279.7V1298.9M144.3 1293.8V1300.1M147.3 1294.8V1300M150.2 1294.7V1302.9M153.2 1295.9V1317.2M156.1 1307.7V1333.6M159.1 1326.7V1339.2M162 1318.9V1341.2M165 1296.3V1322.8M167.9 1292.1V1302.9M170.9 1295.1V1306.5M173.8 1300.8V1305.8M176.8 1300.4V1313.3M179.7 1310.7V1325.8M182.7 1319.1V1333.9M185.6 1318.5V1334.4M188.6 1319V1330.4M191.5 1308.6V1330.4M194.5 1304.5V1311.7M197.4 1286.3V1306.9M200.4 1279.6V1288.2M203.3 1279.4V1297.2M206.3 1295.2V1305.9M209.2 1301.2V1305.8M212.2 1301.7V1303.8M215.1 1302.3V1308.2M218.1 1306.3V1311.6M221 1310.8V1314.8M224 1314.2V1316M226.9 1315.2V1326.2M229.9 1322.4V1326.2M232.8 1322.4V1325.5M235.8 1324.9V1327.4M238.7 1325.8V1327.5M241.7 1323.6V1326.2M244.6 1323.5V1325.9M247.6 1325.1V1325.9M250.5 1323.2V1325.9M253.5 1321.4V1323.5M256.4 1321.4V1328.4M259.4 1324.9V1328.3M262.3 1322V1325.7M265.3 1316.4V1322.9M268.2 1315.5V1317.3M271.2 1311.2V1316M274.1 1308.7V1312.1M277.1 1308.4V1310.7M280 1306.7V1310.8M283 1301.8V1307.3M285.9 1298.8V1302M288.9 1295.5V1299.3M291.8 1292.5V1295.8M294.8 1292.1V1294.4M297.7 1290.4V1294.2M300.7 1289.2V1290.8M303.6 1289.1V1291.8M306.6 1285.7V1291.9M309.5 1280.8V1286.3M312.5 1278.3V1281.8M315.4 1275.9V1279.4M318.4 1275.7V1277.4M321.3 1274.4V1277.2M324.3 1268.6V1275.7M327.2 1268.5V1272.9M330.2 1271.4V1277.5M333.1 1277V1284.2M336.1 1283.5V1284.6M339 1283.4V1285.1M342 1277.9V1285M344.9 1277.9V1291.3M347.9 1290.2V1305.8M350.8 1303.9V1313M353.8 1311.3V1317.1M356.7 1305.5V1316.9M359.7 1305.5V1315.8M362.6 1314.1V1322M365.6 1320.5V1322.4M368.5 1316.6V1322.3M371.5 1317.1V1321.8M374.4 1307V1321.2M377.4 1301.8V1307.9M380.3 1302.5V1307M383.3 1301.7V1306.5M386.2 1299.2V1303.1M389.2 1299.5V1303.9M392.1 1303.6V1304.9M395.1 1303.8V1307.2M398 1306.3V1311.7M401 1311.3V1314.2M403.9 1311V1314.1M406.9 1310.8V1311.7M409.8 1309.7V1311.6M412.8 1308V1310.2M415.7 1303.1V1308.7M418.7 1301.5V1303.8M421.6 1301.4V1306.1M424.6 1302.9V1305.9M427.5 1301V1303.4M430.5 1300.9V1305.6M433.4 1302.6V1306.1M436.4 1302.8V1307M439.3 1306.5V1308.6M442.3 1308.1V1320.9M445.2 1315.4V1321M448.2 1314.9V1316.3M451.1 1313.4V1315.8M454.1 1311.8V1313.9M457 1311.6V1314.3M460 1312.1V1314.1M462.9 1312.1V1315.7M465.9 1314V1315.7M468.8 1313.8V1318.6M471.8 1318.2V1321.8M474.7 1321.3V1322.6M477.7 1321.4V1322.7M480.6 1314V1322.9M483.6 1313.6V1317.7M486.5 1316.8V1320.3M489.5 1319.8V1321.9M492.4 1319.2V1321.9M495.4 1319.6V1325.2M498.3 1323.9V1329.1M501.3 1323.2V1329M504.2 1323.2V1329.5M507.2 1328.9V1332.7M510.1 1328.8V1332.6M513.1 1328.4V1329.6M516 1324.4V1329.7M519 1323.4V1324.9M521.9 1321.6V1323.9M524.9 1321.6V1322.1M527.8 1319V1322.2M530.8 1319.2V1319.8M533.7 1313.2V1320M536.7 1312.1V1313.7M539.6 1311.4V1312.7M542.6 1308.4V1312M545.5 1303.2V1309.3M548.5 1303.1V1306.6M551.4 1303.2V1306.6M554.4 1303.2V1305.6M557.3 1304.9V1306.6M560.3 1306V1309.5M563.2 1307.5V1309.8M566.2 1304V1307.8M569.2 1303.8V1304.6M572.1 1304V1307.2M575.1 1304.4V1307.4M578 1304.4V1306.1M581 1303.4V1306.2M583.9 1300.5V1304M586.9 1300.8V1303.6M589.8 1299.5V1303.9M592.8 1297.2V1300.4M595.7 1296.7V1303.8M598.7 1296.1V1303.5M601.6 1296.1V1300.4M604.6 1299.6V1300.4M607.5 1297.9V1300.5M610.5 1293.4V1298.6M613.4 1293.5V1296.3M616.4 1289.5V1296.3M619.3 1287.3V1290.2M622.3 1287V1288.9M625.2 1288.5V1291M628.2 1287.2V1291.2M631.1 1280.8V1287.5M634.1 1275V1281.3M637 1273.1V1275.5M640 1268.9V1273.4M642.9 1269.2V1270.3M645.9 1269.8V1271.6M648.8 1268.2V1271.5M651.8 1268.4V1269.2M654.7 1267.3V1269.3M657.7 1267.2V1270.1M660.6 1268.6V1274.2M663.6 1273.3V1287M666.5 1286.4V1293.3M669.5 1292.3V1293.3M672.4 1292.4V1297.7M675.4 1288.1V1297.4M678.3 1287.4V1289.7M681.3 1284V1287.7M684.2 1283.5V1290.7M687.2 1289.3V1295.1M690.1 1290.4V1295.2M693.1 1289.4V1291.1M696 1288.5V1290.6M699 1286.2V1289.3M701.9 1286V1286.7M704.9 1286V1289.4M707.8 1288.1V1289.6M710.8 1287.6V1291.2M713.7 1290.4V1295.8M716.7 1293.8V1295.8M719.6 1285.6V1294.3M722.6 1281.1V1286.3M725.5 1281.2V1282.1M728.5 1281.2V1282.5M731.4 1279.1V1282.4M734.4 1278.8V1287.6M737.3 1285.5V1287.7M740.3 1285.3V1287.8M743.2 1281.9V1288.1M746.2 1282.1V1284.4M749.1 1279.6V1284.2M752.1 1279.8V1282M755 1280.4V1281.8M758 1280.3V1283.7M760.9 1282.9V1283.6M763.9 1281.2V1283.5M766.8 1280.4V1281.5M769.8 1277.8V1280.9M772.7 1277.2V1277.9M775.7 1273.5V1278M778.6 1270.8V1273.8M781.6 1270.4V1274.7M784.5 1273.5V1277.3M787.5 1276.3V1278.7M790.4 1274.5V1278.7M793.4 1265.6V1274.9M796.3 1265.7V1270.5M799.3 1269.3V1273.8M802.2 1270.3V1274M805.2 1266.4V1271.2M808.1 1262V1266.8M811.1 1256.4V1263.2M814 1256V1257.6M817 1250.3V1256.6M819.9 1250.5V1253.1M822.9 1249.6V1253M825.8 1246.8V1250.8M828.8 1247.1V1249.1M831.7 1247.4V1249.1M834.7 1242.8V1247.9M837.6 1241.3V1243.4M840.6 1235.3V1241.7M843.5 1235.8V1240.8M846.5 1236.8V1240.8M849.4 1232.5V1237.1M852.4 1232.5V1234M855.3 1233.5V1235.1M858.3 1234.3V1234.8M861.2 1232.2V1234.8M864.2 1231V1232.7M867.1 1225.9V1231.6M870.1 1223.2V1226.3M873 1223.2V1228.8M876 1228V1228.8M878.9 1225.4V1229.4M881.9 1225.6V1227M884.8 1219.2V1227M887.8 1219.6V1220.5M890.7 1220V1223.3M893.7 1220.9V1226.6M896.6 1225.2V1228.9M899.6 1226.9V1234.2M902.5 1229V1233.6M905.5 1229.4V1233.8M908.4 1232.5V1234.5M911.4 1230.6V1233.8M914.3 1231.2V1235.8M917.3 1231.5V1235.1M920.2 1226.8V1233.9M923.2 1223V1227.9M926.1 1220.8V1225.5M929.1 1215.4V1222.2M932 1210.5V1217.5M935 1205.6V1212.5M937.9 1202.5V1209.7M940.9 1199.5V1204.3M943.8 1195.8V1203M946.8 1189.9V1201.6M949.7 1180.3V1191.4M952.7 1179.9V1185M955.6 1169.7V1182.8M958.6 1163.9V1176.8M961.5 1160.5V1167.8M964.5 1158.3V1162.5M967.4 1150.2V1165.6M970.4 1145.4V1160.7M973.3 1136.1V1149.9M976.3 1128.4V1139.6M979.2 1115.3V1131M982.2 1112.6V1120.2M985.1 1109.4V1115.6M988.1 1108.9V1115.4M991 1109.3V1112.4M994 1106.3V1112.9M996.9 1102V1112.6M999.9 1093V1104.2M1002.8 1088.1V1095.8M1005.8 1085.1V1099M1008.7 1093.8V1107.2M1011.7 1085.9V1097.5M1014.6 1082.6V1095.6M1017.6 1083.4V1096.1M1020.5 1091.8V1101.9M1023.5 1095.9V1104.1M1026.4 1099.6V1106.5M1029.4 1099.7V1107.8M1032.3 1103.8V1113.9M1035.3 1108.7V1116.1M1038.2 1101.8V1110.8M1041.2 1090.3V1109.2M1044.1 1093.1V1102.1M1047.1 1088.7V1101.6M1050 1082.5V1104.9M1053 1097.8V1126M1055.9 1120.1V1143M1058.9 1131.2V1144.4M1061.9 1128.8V1138.7M1064.8 1123V1135M1067.8 1128.7V1134.8M1070.7 1122.5V1131.4M1073.7 1119.7V1129.3M1076.6 1116.3V1129.7M1079.6 1105.2V1121.7M1082.5 1102.3V1114.6M1085.5 1091.1V1112.1M1088.4 1078.3V1103.9M1091.4 1074.5V1088.7M1094.3 1064.7V1081.1M1097.3 1053.6V1068.5M1100.2 1045.4V1060.3M1103.2 1043.4V1054.1M1106.1 1039.6V1050.2M1109.1 1033.1V1045.8M1112 1031.8V1037.5M1115 1024.1V1037.6M1117.9 1021.3V1029.4M1120.9 1020.7V1027M1123.8 1023.7V1034.8M1126.8 1030.5V1044.2M1129.7 1025.9V1038.3M1132.7 1028.6V1034.7M1135.6 1021.2V1035.9M1138.6 1021.6V1037.7M1141.5 1034.2V1051.3M1144.5 1041.1V1050.8M1147.4 1043.5V1050.4M1150.4 1039.3V1050.5M1153.3 1028.1V1044.9M1156.3 1029.9V1043.9M1159.2 1036.1V1058.7M1162.2 1037.7V1069.6M1165.1 1052.5V1078.7M1168.1 1035.7V1065.8M1171 1007.7V1047.8M1174 1003.6V1028.3M1176.9 984.2V1013.3M1179.9 971.9V995.5M1182.8 962.7V980M1185.8 959.9V987.2M1188.7 979.2V991.8M1191.7 976.4V982.7M1194.6 971.9V984.2M1197.6 963.6V979.5M1200.5 953V969.1M1203.5 947.5V956.4M1206.4 936.6V958.3M1209.4 936.2V963.3M1212.3 951.3V965.9M1215.3 951.6V971.7M1218.2 957V1031.6M1221.2 1017.4V1062M1224.1 1041.4V1066.8M1227.1 1017.8V1064.8M1230 1023.7V1041.1M1233 1020.9V1070.5M1235.9 1002.5V1067.2M1238.9 982.5V1023.4M1241.8 979.2V1012.6M1244.8 981.4V995.5M1247.7 948V992.8M1250.7 961.5V980.1M1253.6 959.3V966.5M1256.6 950.7V964.9M1259.5 947.2V961.9M1262.5 954.1V961.7M1265.4 943.9V963.2M1268.4 935.8V950.3M1271.3 935V943.1M1274.3 925.3V941.5M1277.2 908.4V930.8M1280.2 905.7V917.7M1283.1 902.9V916.3M1286.1 893.7V907.1M1289 892.2V905.2M1292 889.1V898.2M1294.9 882.5V893.4M1297.9 877.3V886.7M1300.8 875.3V881M1303.8 867.8V878M1306.7 868V874.2M1309.7 870.7V873.5M1312.6 854.3V873M1315.6 851V863.3M1318.5 851.2V855.6M1321.5 851.4V856.1M1324.4 847V856.3M1327.4 848.6V864.1M1330.3 857V877M1333.3 855.9V880.9M1336.2 848V870.9M1339.2 819.3V872.1M1342.1 829.5V841.9M1345.1 802.4V841.3M1348 791.7V818M1351 807.9V822.7M1353.9 811.7V833M1356.9 823.4V840.4M1359.8 818.5V862.2M1362.8 846V864.4M1365.7 853.7V887.4M1368.7 859.9V895.4M1371.6 883V944M1374.6 905.1V925M1377.5 894.6V920.6M1380.5 884.2V903M1383.4 856V895.9M1386.4 850.7V878M1389.3 837.7V859.3M1392.3 820.2V852.1M1395.2 816.5V835.3M1398.2 819.1V828.6M1401.1 812V826M1404.1 802.1V817.9M1407 789.2V808.4M1410 790.1V811M1412.9 800.5V814.5M1415.9 801.1V813.1M1418.8 796.1V816.5M1421.8 789.3V843M1424.7 831.2V862.9M1427.7 823.9V854.7M1430.6 819.1V866.8M1433.6 849.7V869.9M1436.5 836.8V869.1M1439.5 837.5V857.7M1442.4 838.9V858.9M1445.4 818.4V850.7M1448.3 800.5V853.6M1451.3 804V838.1M1454.2 815.9V862.3M1457.2 855.2V885M1460.1 861.9V893.8M1463.1 860.9V887.8M1466 860.4V885.5M1469 861.4V878.4M1471.9 863.7V933.9M1474.9 891.2V905.6M1477.8 879.9V895.9M1480.8 853.4V889.2M1483.7 839.1V887.6M1486.7 811.7V849.9M1489.6 810.1V828.9M1492.6 817.9V856.8M1495.5 847V866.7M1498.5 839.4V858.3M1501.4 840.1V976.7M1504.4 901.5V928.6M1507.3 920.3V957.8M1510.3 912.6V942.2M1513.2 885V924.1M1516.2 892.1V911.3M1519.1 881V903.9M1522.1 861.3V898.1M1525 854.1V871.8M1528 842.3V871.2M1530.9 835.1V850.5M1533.9 813.1V844.2M1536.8 815.4V851.7M1539.8 838.2V862.8M1542.7 839.4V875.3M1545.7 861.9V933.9M1548.6 861.7V896.2M1551.6 867.4V908M1554.6 896V945.3M1557.5 902.9V917.7M1560.5 898.9V907.8M1563.4 899.8V936.4M1566.4 903.1V923M1569.3 910.1V924.6M1572.3 903.6V944.1M1575.2 927.5V991.8M1578.2 971.2V1052.5M1581.1 1023.1V1056.4M1584.1 1019.3V1049.6M1587 987.2V1050.2M1590 966.1V1026.7M1592.9 956.8V995.3M1595.9 953.1V1031.3M1598.8 961.5V1083.5M1601.8 1012.8V1135.5M1604.7 1108.3V1126.6M1607.7 1112.9V1184.2M1610.6 1124.8V1188.2M1613.6 1177V1204.9M1616.5 1153.1V1203.3M1619.5 1153.8V1175.3M1622.4 1129.9V1169M1625.4 1129.2V1170.1M1628.3 1126.1V1196.7M1631.3 1178.2V1223.2M1634.2 1193.5V1242.3M1637.2 1220.9V1301.2M1640.1 1231.3V1278.1M1643.1 1237.9V1280.1M1646 1239.8V1273.9M1649 1241.9V1259.9M1651.9 1250.2V1280.5M1654.9 1269.1V1286M1657.8 1278V1291.5M1660.8 1286.5V1297.6M1663.7 1294.7V1303.5M1666.7 1292V1304.8M1669.6 1285.2V1297M1672.6 1281.9V1293.2M1675.5 1271.2V1284.4M1678.5 1269.9V1276.1M1681.4 1262.8V1275.1M1684.4 1257.3V1273.5M1687.3 1264.7V1271.5M1690.3 1259.5V1271.2M1693.2 1244.4V1262.7M1696.2 1230.9V1253M1699.1 1230.3V1242.1M1702.1 1221.7V1233.7M1705 1221.9V1227.7M1708 1214.6V1227.6M1710.9 1216.4V1228.2M1713.9 1204.9V1232.1M1716.8 1200V1210.6M1719.8 1186.2V1207M1722.7 1174.3V1203.1M1725.7 1172.9V1195.9M1728.6 1180.5V1198.3M1731.6 1189.2V1213.9M1734.5 1198.3V1211.3M1737.5 1203V1234.3M1740.4 1221.9V1232.2M1743.4 1229.4V1242.6M1746.3 1234.6V1242.7M1749.3 1233.6V1241M1752.2 1232.5V1244.2M1755.2 1239.5V1245.4M1758.1 1240V1247.3M1761.1 1238.8V1250.5M1764 1243.9V1260.2M1767 1253.9V1259.9M1769.9 1256.8V1269.8M1772.9 1264V1270.1M1775.8 1260.8V1273.1M1778.8 1268.8V1281.3M1781.7 1269.1V1282M1784.7 1268.7V1277.4M1787.6 1264.4V1276.1M1790.6 1266.4V1273.2M1793.5 1268.9V1279.6M1796.5 1267.9V1277.4M1799.4 1270.7V1287M1802.4 1281.4V1295M1805.3 1275.2V1297.7M1808.3 1275.3V1293.9M1811.2 1286.2V1300.4M1814.2 1290V1300.1M1817.1 1292.6V1307M1820.1 1293.4V1310.3M1823 1296.3V1309.3M1826 1304.4V1310.2M1828.9 1305V1325.1M1831.9 1308V1317.8M1834.8 1307.8V1332.7M1837.8 1324V1329.9M1840.7 1319.8V1342.8M1843.7 1335.8V1352.1M1846.6 1339.6V1354.4M1849.6 1336.8V1346.2M1852.5 1337.1V1342.3M1855.5 1337.3V1343.9M1858.4 1334.5V1341.4M1861.4 1334.6V1341.7M1864.3 1340.2V1343.5M1867.3 1335.5V1342.8M1870.2 1336.1V1339.4M1873.2 1329.1V1340M1876.1 1328.1V1335.8M1879.1 1323.8V1334.2M1882 1323.6V1328.5M1885 1322.7V1329.4M1887.9 1318.1V1330.1M1890.9 1317.6V1322.6M1893.8 1313.7V1322.4M1896.8 1312.7V1316.7M1899.7 1312.3V1314.2M1902.7 1312.9V1323.3M1905.6 1321.8V1324.6M1908.6 1318.7V1325M1911.5 1318.2V1320.9M1914.5 1312.9V1320.7M1917.4 1312.6V1315.6M1920.4 1310.9V1315.9M1923.3 1311.8V1314.2M1926.3 1308.1V1314.7M1929.2 1308V1311.2M1932.2 1306.8V1314.9M1935.1 1310.4V1315M1938.1 1311.9V1322.5M1941 1319.9V1322.9M1944 1307.7V1322.6M1946.9 1310V1316.3M1949.9 1314V1325.3M1952.8 1306.5V1323M1955.8 1304V1313.5M1958.7 1300V1311.1M1961.7 1295.1V1306.4M1964.6 1288.2V1309.5M1967.6 1289.5V1296.4M1970.5 1292.3V1297.5M1973.5 1292.9V1301.3M1976.4 1291.2V1299.7M1979.4 1285.5V1296.5M1982.3 1283.3V1289.6M1985.3 1282V1288.2M1988.2 1284.5V1293.5M1991.2 1290.3V1294.8M1994.1 1290V1295.3M1997.1 1289.8V1292.1M2000 1290.3V1292M2003 1285.8V1293.2M2005.9 1278.3V1288.7M2008.9 1275.6V1284.4M2011.8 1267.4V1279.7M2014.8 1266.1V1275.8M2017.7 1264.3V1274.6M2020.7 1258.1V1267.8M2023.6 1250.9V1263.4M2026.6 1245.3V1256.4M2029.5 1252.2V1259M2032.5 1256.2V1263.4M2035.4 1254.2V1265.3M2038.4 1252.6V1258.3M2041.4 1247.6V1258.9M2044.3 1245.5V1260.3M2047.3 1253.7V1259.1M2050.2 1254.2V1258.2M2053.2 1244.3V1261.4M2056.1 1241V1251.3M2059.1 1236.1V1244M2062 1235.6V1240.5M2065 1225.1V1245.2M2067.9 1225.5V1234.2M2070.9 1221V1232.5M2073.8 1219.2V1232.3M2076.8 1229.3V1246.5M2079.7 1240.1V1259.3M2082.7 1252.4V1260.3M2085.6 1243.4V1260.3M2088.6 1244.9V1252.7M2091.5 1236.6V1252.1M2094.5 1219.4V1246.4M2097.4 1223.3V1240.7M2100.4 1230.6V1245.5M2103.3 1234.8V1248M2106.3 1235V1249.4M2109.2 1231.4V1249.3M2112.2 1224.5V1246.5M2115.1 1212.1V1254.8M2118.1 1212V1252.5M2121 1242V1282.1M2124 1263.7V1293M2126.9 1265.9V1288.9M2129.9 1259.1V1270.8M2132.8 1245.8V1266.1M2135.8 1249.6V1255.4M2138.7 1251V1262.2M2141.7 1250.4V1262.1M2144.6 1242.9V1262.9M2147.6 1240.2V1247.1M2150.5 1230.3V1246.7M2153.5 1231V1240.8M2156.4 1237.9V1248.6M2159.4 1230V1251.1M2162.3 1219.4V1237.6M2165.3 1223.7V1234.1M2168.2 1208.9V1232M2171.2 1194.8V1227.1M2174.1 1186.8V1205.9M2177.1 1178.6V1196M2180 1176.9V1196.4M2183 1174.8V1200.4M2185.9 1175.1V1185.3M2188.9 1180.6V1188.5M2191.8 1182.9V1192.4M2194.8 1180.8V1200M2197.7 1193.2V1210.1M2200.7 1201.4V1211.8M2203.6 1192.7V1213.4M2206.6 1170.2V1211M2209.5 1160.3V1188.9M2212.5 1150.3V1195M2215.4 1143.8V1165.3M2218.4 1147.8V1197.6M2221.3 1164.4V1231.9M2224.3 1216.8V1244.7M2227.2 1200.3V1240.2M2230.2 1190.6V1219.6M2233.1 1189.5V1203.9M2236.1 1167.3V1198.1M2239 1156.3V1177.9M2242 1145.1V1168.6M2244.9 1136V1154.7M2247.9 1150.3V1170.1M2250.8 1152.4V1168.7M2253.8 1144.5V1163.2M2256.7 1139.9V1152.4M2259.7 1141.9V1161.8M2262.6 1149.6V1162.1M2265.6 1150.6V1157.4M2268.5 1135.1V1159.3M2271.5 1129.7V1141.9M2274.4 1122.2V1138.2M2277.4 1123.8V1131.6M2280.3 1124.7V1132.6M2283.3 1119.3V1130.9M2286.2 1119.8V1125.6M2289.2 1121.3V1125.5M2292.1 1119.3V1127.4M2295.1 1115.2V1133.6M2298 1105.8V1124.1M2301 1103.8V1117M2303.9 1087.8V1110.5M2306.9 1089.7V1104.4M2309.8 1085.4V1102.7M2312.8 1087.1V1113.4M2315.7 1103.8V1126M2318.7 1113.9V1131.7M2321.6 1126.3V1141.2M2324.6 1119.1V1139M2327.5 1113V1132.3M2330.5 1102.2V1120M2333.4 1103.1V1115.8M2336.4 1104.8V1114.8M2339.3 1105.9V1125.2M2342.3 1120.2V1125.4M2345.2 1120.6V1132.8M2348.2 1129.1V1138.8M2351.1 1130.3V1137.9M2354.1 1130.8V1134.1M2357 1128.5V1135.7M2360 1123.6V1130.2M2362.9 1123.5V1127.9M2365.9 1122V1126.5M2368.8 1122V1130.5M2371.8 1122.9V1131.5M2374.7 1114.9V1125.3M2377.7 1113.7V1120.6M2380.6 1106.1V1118.3M2383.6 1093.9V1117.8M2386.5 1078V1099.9M2389.5 1078.3V1095M2392.4 1076.6V1092.5M2395.4 1068.5V1085.8M2398.3 1054.7V1079.5M2401.3 1054.7V1068.6M2404.2 1052.4V1058.5M2407.2 1045.8V1055.2M2410.1 1041.3V1052.3M2413.1 1035V1047.1M2416 1028.6V1040.4M2419 1028.8V1040.9M2421.9 1020.5V1038.2M2424.9 1012V1038.9M2427.8 1010.8V1034M2430.8 1019.8V1034M2433.7 1008.9V1035M2436.7 979.4V1023.4M2439.6 958.5V1003.6M2442.6 934.5V978.4M2445.5 928.4V961.6M2448.5 873V957.2M2451.4 873.2V912M2454.4 881.2V920.7M2457.3 861.9V901.6M2460.3 805.3V880.1M2463.2 737.3V832.1M2466.2 758V782.9M2469.1 769.3V799.8M2472.1 758.1V821.5M2475 713.7V771.9M2478 671.1V736.8M2480.9 640.4V690.5M2483.9 611V662.7M2486.8 600.8V626.9M2489.8 592.7V624.6M2492.7 582.1V623.9M2495.7 552.6V611.5M2498.6 568.8V583.9M2501.6 550V636.3M2504.5 594V666.2M2507.5 580.3V666.1M2510.4 520.5V602.3M2513.4 461.3V555M2516.3 432.1V499.8M2519.3 435.9V485.3M2522.2 387.8V482.8M2525.2 349.8V429.2M2528.1 329.6V410.6M2531.1 267.5V363.8M2534.1 195.3V297.6M2537 219.4V334.6M2540 248.5V556.2M2542.9 411.9V557.5M2545.9 336.4V414.5M2548.8 286.5V367.6M2551.8 281.4V390.3M2554.7 320.7V446.1M2557.7 216.9V400.2M2560.6 228.3V370.1M2563.6 238.4V327M2566.5 243.4V328.3M2569.5 239.6V314.4M2572.4 202.9V286.5M2575.4 213.1V294.1M2578.3 233.1V361.2M2581.3 232.1V352.4M2584.2 300.4V406.8M2587.2 281.4V372.6M2590.1 281.4V396.7M2593.1 361.2V503.1M2596 370.1V479M2599 365V446.1M2601.9 358.7V452.4M2604.9 403V460M2607.8 411.9V510.7M2610.8 486.6V685.9M2613.7 562.4V644M2616.7 480.3V609.4M2619.6 475.2V531.9M2622.6 486.6V560M2625.5 527V592.2M2628.5 561V592.3M2631.4 559.7V650.6M2634.4 627V700.6M2637.3 658V743.8M2640.3 694.5V732.1M2643.2 707.4V841.4M2646.2 766.4V885.2M2649.1 723.4V867.2M2652.1 733.3V821.9M2655 723.3V861.6M2658 835.7V925.7M2660.9 864.7V910M2663.9 823.5V905.1M2666.8 797.4V888M2669.8 795V818.4M2672.7 794.3V817.1M2675.7 768.3V810.1M2678.6 770.8V802.7M2681.6 795.7V842.8M2684.5 806.4V837.2M2687.5 806.5V827.7M2690.4 805.2V838.8M2693.4 793.3V834M2696.3 764.7V805.4M2699.3 766V795M2702.2 788.7V801.7M2705.2 770.9V816.2M2708.1 770.6V789.9M2711.1 771.3V808.3M2714 785.7V817.2M2717 800.5V828.4M2719.9 815.2V829.9M2722.9 795.2V828.7M2725.8 795.2V822.2M2728.8 782.1V802.3M2731.7 786.1V796.7M2734.7 788.7V811.8M2737.6 805.4V821.4M2740.6 798.2V826.6M2743.5 772.4V806.7M2746.5 777.5V790.2M2749.4 766.5V803.3M2752.4 769.2V804.1M2755.3 784V833.1M2758.3 816.3V861.4M2761.2 826.6V866.6M2764.2 858.2V904.6M2767.1 887V916.5M2770.1 891.1V928.1M2773 919.3V959.2M2776 950V1001.4M2778.9 952.7V974.7M2781.9 931.4V991.3M2784.8 926.9V944.8M2787.8 893.3V940.6M2790.7 887.2V919.3M2793.7 888.5V932.9M2796.6 886.4V931.2M2799.6 896.3V920.8M2802.5 893V956.1M2805.5 923.3V949.9M2808.4 900.2V944.6M2811.4 896.6V930.3M2814.3 885.7V915.7M2817.3 882.9V919.1M2820.2 901.7V933.4M2823.2 915.9V971.5M2826.1 935.5V966.7M2829.1 945.3V986.8M2832 968.6V1019.4M2835 1010.2V1071.8M2837.9 1059.2V1091.7M2840.9 1069.7V1116.5M2843.8 1031.3V1089.6M2846.8 1031.4V1065.1M2849.7 1043.5V1081.3M2852.7 1050.1V1117.8M2855.6 1027.2V1087.7M2858.6 1029.5V1070.5M2861.5 1034.9V1125.9M2864.5 1087.7V1165.3M2867.4 1139.5V1183.8M2870.4 1135.8V1211.3M2873.3 1178.2V1219.9M2876.3 1200.8V1227.9M2879.2 1175.7V1209.6M2882.2 1170.7V1186.7M2885.1 1161.9V1182.5M2888.1 1157.8V1177.6M2891 1150.2V1164.8M2894 1151.3V1160.7M2896.9 1156.8V1169.4M2899.9 1162.4V1175M2902.8 1171.2V1176.7M2905.8 1167.8V1177.4M2908.7 1158V1175.1M2911.7 1163.3V1174.3M2914.6 1158.1V1167.5M2917.6 1160.5V1183.4M2920.5 1174V1203.1M2923.5 1193.5V1199.7M2926.4 1179V1203M2929.4 1181.2V1201.3M2932.3 1195.7V1204.1M2935.3 1194.8V1207.6M2938.2 1189.5V1199M2941.2 1177.6V1195M2944.1 1170.2V1183.6M2947.1 1169.8V1190.6M2950 1182.9V1198.5M2953 1189.2V1202M2955.9 1191.8V1208.3M2958.9 1194.6V1216.4M2961.8 1210.4V1253.3M2964.8 1226V1242.5M2967.7 1223.8V1240.1M2970.7 1225V1238.6M2973.6 1210.5V1234.8M2976.6 1213.9V1223M2979.5 1208.3V1221.4M2982.5 1204.6V1214.1M2985.4 1198.8V1214.2M2988.4 1199.7V1205.7M2991.3 1199.1V1203.9M2994.3 1201.4V1203.8M2997.2 1197V1205.2M3000.2 1194.8V1202.8M3003.1 1199.8V1207.8M3006.1 1202.1V1207.4M3009 1196.6V1207.8M3012 1184.6V1206.3M3014.9 1176.2V1194.6M3017.9 1169.1V1185.8M3020.8 1141.3V1177.5M3023.8 1128.5V1156.5M3026.8 1100.5V1141.3M3029.7 1092.9V1122.2M3032.7 1096.1V1126.3M3035.6 1113.4V1129.6M3038.6 1096.8V1124.8M3041.5 1073V1106.1M3044.5 1061.4V1089M3047.4 1059.2V1067.5M3050.4 1063.4V1090.5M3053.3 1069.2V1086.6M3056.3 1074.7V1089.6M3059.2 1065.2V1081.4M3062.2 1057.2V1070.2M3065.1 1052.7V1072.2M3068.1 1052.8V1062.5M3071 1047.9V1058.1M3074 1020.3V1052.9M3076.9 1006.5V1031M3079.9 1007.3V1026.6M3082.8 997.3V1041.8M3085.8 1007.6V1033.4M3088.7 1005.6V1021.5M3091.7 1001.2V1009.1M3094.6 1001.8V1013M3097.6 996.3V1012.9M3100.5 956.6V1020.6M3103.5 962.2V1014.4M3106.4 995.9V1029M3109.4 967.5V1038.1M3112.3 936.8V1013.4M3115.3 947.8V1007.6M3118.2 956.8V1018.9M3121.2 995V1070.9M3124.1 996.8V1059.8M3127.1 1016.5V1052.6M3130 1002.2V1055.4M3133 1022V1051.3M3135.9 1023.6V1048.4M3138.9 1025.7V1041.1M3141.8 1013.5V1034.1M3144.8 1019.3V1029.1M3147.7 981V1031.1M3150.7 967.6V987.6M3153.6 965.7V984.5M3156.6 972.2V988.5M3159.5 965.5V981.1M3162.5 971.9V986.7M3165.4 971V986.2M3168.4 962.5V975.4M3171.3 963.7V976.6M3174.3 962.7V980.4M3177.2 966.2V982.7M3180.2 953.6V972.2M3183.1 936.4V961.4M3186.1 930.2V946.7M3189 922.3V947.8M3192 932V953.6M3194.9 939.2V963.8M3197.9 953.9V967M3200.8 928.6V964.2M3203.8 910.4V952.6M3206.7 880.3V919.6M3209.7 841.2V897.9M3212.6 842.7V870.1M3215.6 851.5V918.2M3218.5 879.4V929.5M3221.5 895.8V968.1M3224.4 940.6V975M3227.4 923.7V954.5M3230.3 911.5V944.7M3233.3 900.5V940.2M3236.2 898.9V934.9M3239.2 912.6V937M3242.1 918.7V944.8M3245.1 934.8V974.6M3248 947.2V971.6M3251 945.5V970M3253.9 919V963.1M3256.9 901.7V944.9M3259.8 908.8V958.6M3262.8 934.6V992.5M3265.7 978.3V1076M3268.7 1004.2V1051.8M3271.6 991.1V1028.6M3274.6 985.8V1033.2M3277.5 994.2V1048.1M3280.5 989.3V1030.8M3283.4 989.7V1011.2M3286.4 973.4V997.1M3289.3 956.7V1004.3M3292.3 949.3V977M3295.2 944.2V965.3M3298.2 904.2V970.8M3301.1 887.3V928.2M3304.1 859.7V903.3M3307 871.9V914.4M3310 855V922.7M3312.9 853.6V873.1M3315.9 842.4V867.7M3318.8 839.9V864.1M3321.8 826.8V858.9M3324.7 823.5V843.4M3327.7 816.5V835.6M3330.6 819.1V850.1M3333.6 834.1V890.4M3336.5 866.3V900.4M3339.5 878.7V898.3M3342.4 870.1V905.2M3345.4 877.7V937.5M3348.3 892.2V936.8M3351.3 871V905.8M3354.2 864.2V906.1M3357.2 875.2V939.3M3360.1 876.9V940.9M3363.1 874.9V940M3366 922.8V937.3M3369 895.5V937M3371.9 910V949.2M3374.9 929.2V957.5M3377.8 917.4V943.4M3380.8 892.5V929.2M3383.7 877.9V907.3M3386.7 877.2V896.8M3389.6 877.4V895.4M3392.6 886.1V933M3395.5 906.7V927.5M3398.5 887.3V919M3401.4 872.8V914.9M3404.4 848.3V882M3407.3 845.1V893.4M3410.3 862.3V916.2M3413.2 889.1V915.4M3416.2 881.2V910.5M3419.1 877.4V898.8M3422.1 878.5V910.5M3425 895.4V921.5M3428 910.5V929.4M3430.9 882.8V931.3M3433.9 888.4V921.6M3436.8 876V944M3439.8 908.8V948.2M3442.7 932.9V1014.9M3445.7 991.9V1061M3448.6 985.4V1046.6M3451.6 960.5V1001.5M3454.5 957.7V984.9M3457.5 968.7V995.4M3460.4 982.8V1022.4M3463.4 1009.9V1016.2" stroke="#7b7d78" stroke-width="2" fill="none"/>
<path shape-rendering="crispEdges" d="M20.4 1194.6V1197.6M23.3 1177.8V1194.6M26.3 1172.3V1177.8M29.2 1168.5V1172.3M32.2 1154.2V1168.5M35.1 1138V1154.2M38.1 1126.2V1138M41 1118.6V1126.2M46.9 1120.3V1122.2M52.8 1105.4V1121.3M55.8 1093.1V1105.4M58.7 1077.2V1093.1M61.7 1062.9V1077.2M73.5 1153.4V1159.8M76.5 1137.1V1153.4M82.4 1123.9V1138.4M111.9 1225.3V1227.1M114.8 1217.7V1225.3M120.7 1237.4V1238.6M138.4 1284.3V1285.5M144.3 1297.1V1298.3M147.3 1295.8V1297.1M162 1320.1V1337.2M165 1302V1320.1M167.9 1295.8V1302M173.8 1303.1V1304.3M185.6 1319.8V1331.1M191.5 1309.9V1329.4M194.5 1305.2V1309.9M197.4 1287.6V1305.2M200.4 1280.5V1287.6M209.2 1302.2V1305.3M229.9 1322.8V1325.5M238.7 1326V1327.2M241.7 1323.7V1326M250.5 1323.3V1325.8M253.5 1321.6V1323.3M259.4 1325.5V1328.1M262.3 1322.4V1325.5M265.3 1316.6V1322.4M268.2 1315.6V1316.8M271.2 1311.5V1315.6M274.1 1309V1311.5M280 1307.1V1310.3M283 1301.9V1307.1M285.9 1299.1V1301.9M288.9 1295.7V1299.1M291.8 1292.8V1295.7M297.7 1290.5V1293.8M300.7 1289.5V1290.7M306.6 1285.9V1291.6M309.5 1281.2V1285.9M312.5 1278.9V1281.2M315.4 1276.1V1278.9M321.3 1275.1V1277M324.3 1268.8V1275.1M342 1278.9V1284.5M356.7 1306V1316.1M368.5 1317.4V1322.1M374.4 1307.6V1321M377.4 1302.8V1307.6M383.3 1302.4V1306M386.2 1300.1V1302.4M403.9 1311.5V1313.9M406.9 1311.4V1312.6M409.8 1309.8V1311.4M412.8 1308.4V1309.8M415.7 1303.3V1308.4M418.7 1301.6V1303.3M424.6 1303.1V1305.6M427.5 1301.1V1303.1M433.4 1303.1V1305.2M445.2 1315.6V1320.6M448.2 1315.3V1316.5M451.1 1313.5V1315.3M454.1 1311.9V1313.5M460 1312.5V1314M465.9 1314.1V1315.5M477.7 1322V1323.2M480.6 1314.2V1322M492.4 1320V1321.8M501.3 1323.8V1328.7M510.1 1328.9V1332.4M516 1324.7V1329.5M519 1323.5V1324.7M521.9 1321.9V1323.5M527.8 1319.3V1321.9M533.7 1313.4V1319.7M536.7 1312.4V1313.6M539.6 1311.8V1313M542.6 1308.8V1311.8M545.5 1303.3V1308.8M551.4 1303.6V1306.3M563.2 1307.6V1309.3M566.2 1304V1307.6M575.1 1304.7V1307.1M581 1303.5V1305.9M583.9 1301V1303.5M589.8 1299.8V1303.2M592.8 1297.4V1299.8M598.7 1296.6V1303.3M604.6 1300.1V1301.3M607.5 1298.3V1300.1M610.5 1293.7V1298.3M616.4 1289.9V1295.9M619.3 1287.4V1289.9M628.2 1287.3V1290.9M631.1 1281.2V1287.3M634.1 1275.1V1281.2M637 1273.3V1275.1M640 1269.4V1273.3M648.8 1268.6V1271.5M654.7 1267.5V1268.8M669.5 1292.7V1293.9M675.4 1288.9V1296.7M678.3 1287.6V1288.9M681.3 1284.5V1287.6M690.1 1290.7V1295M693.1 1289.9V1291.1M696 1288.9V1290.1M699 1286.4V1288.9M701.9 1286.2V1287.4M707.8 1288.3V1289.5M716.7 1294.1V1295.5M719.6 1286.1V1294.1M722.6 1281.9V1286.1M725.5 1281.6V1282.8M731.4 1279.7V1282.1M737.3 1285.7V1287.5M743.2 1282.3V1287.6M749.1 1280V1284M755 1280.4V1281.7M760.9 1283.2V1284.4M763.9 1281.3V1283.2M766.8 1280.5V1281.7M769.8 1277.8V1280.5M772.7 1277.7V1278.9M775.7 1273.6V1277.7M778.6 1271.1V1273.6M790.4 1274.6V1278.4M793.4 1266.8V1274.6M802.2 1270.9V1273.6M805.2 1266.5V1270.9M808.1 1262.7V1266.5M811.1 1256.9V1262.7M814 1256.2V1257.4M817 1250.8V1256.2M822.9 1250.5V1252.8M825.8 1247.3V1250.5M831.7 1247.7V1248.9M834.7 1243.3V1247.7M837.6 1241.5V1243.3M840.6 1235.9V1241.5M846.5 1237V1240.6M849.4 1232.7V1237M858.3 1234.5V1235.7M861.2 1232.5V1234.5M864.2 1231.2V1232.5M867.1 1226.1V1231.2M870.1 1223.7V1226.1M876 1228.6V1229.8M878.9 1226.5V1228.6M884.8 1219.9V1226.5M902.5 1229.7V1233M911.4 1231.6V1233.4M917.3 1233.2V1234.4M920.2 1227.4V1233.2M923.2 1224.3V1227.4M926.1 1221.1V1224.3M929.1 1215.9V1221.1M932 1211.6V1215.9M935 1207.9V1211.6M937.9 1203V1207.9M940.9 1202.1V1203.3M943.8 1197.3V1202.1M946.8 1190.7V1197.3M949.7 1184.3V1190.7M952.7 1181.8V1184.3M955.6 1171.8V1181.8M958.6 1165.7V1171.8M961.5 1161.7V1165.7M964.5 1159.8V1161.7M967.4 1155.9V1159.8M970.4 1147.7V1155.9M973.3 1138.6V1147.7M976.3 1129.9V1138.6M979.2 1118.1V1129.9M982.2 1113.2V1118.1M985.1 1112.4V1113.6M988.1 1111.2V1112.4M994 1110.8V1112M996.9 1102.9V1110.8M999.9 1094.1V1102.9M1002.8 1090V1094.1M1008.7 1094.9V1096.9M1011.7 1089V1094.9M1014.6 1085.6V1089M1026.4 1101.8V1103.2M1035.3 1109.5V1112.8M1038.2 1104V1109.5M1041.2 1099.5V1104M1044.1 1094.7V1099.5M1047.1 1091.9V1094.7M1058.9 1136.1V1138.3M1061.9 1130.8V1136.1M1067.8 1130.1V1132M1070.7 1125.6V1130.1M1073.7 1123.6V1125.6M1076.6 1117.3V1123.6M1079.6 1110.6V1117.3M1082.5 1103.8V1110.6M1085.5 1094.2V1103.8M1088.4 1083.2V1094.2M1091.4 1076.3V1083.2M1094.3 1066.4V1076.3M1097.3 1057.1V1066.4M1100.2 1051.4V1057.1M1103.2 1047.6V1051.4M1106.1 1041.7V1047.6M1109.1 1035.5V1041.7M1112 1034.3V1035.5M1115 1027.5V1034.3M1117.9 1023.2V1027.5M1126.8 1033.2V1034.4M1129.7 1030V1033.2M1135.6 1023.5V1033.3M1144.5 1046V1047.2M1150.4 1041V1046.2M1153.3 1031.8V1041M1165.1 1056.2V1064.3M1168.1 1041.4V1056.2M1171 1024.6V1041.4M1174 1007.4V1024.6M1176.9 986.5V1007.4M1179.9 975.6V986.5M1182.8 970.7V975.6M1188.7 980.8V982M1191.7 978.5V980.8M1194.6 976.6V978.5M1197.6 966.2V976.6M1200.5 955.5V966.2M1203.5 951.5V955.5M1206.4 950.8V952M1212.3 956V958.1M1224.1 1048.1V1053.8M1227.1 1030.6V1048.1M1230 1027.7V1030.6M1235.9 1017.3V1057.4M1238.9 994.4V1017.3M1241.8 989.6V994.4M1244.8 986.4V989.6M1247.7 973.5V986.4M1250.7 963.9V973.5M1253.6 960.8V963.9M1256.6 952V960.8M1262.5 957.5V960.2M1265.4 949V957.5M1268.4 940.6V949M1271.3 936.1V940.6M1274.3 929V936.1M1277.2 916.5V929M1280.2 911.7V916.5M1283.1 905.8V911.7M1286.1 900.4V905.8M1289 894.2V900.4M1292 890.8V894.2M1294.9 883.6V890.8M1297.9 878.7V883.6M1300.8 876.7V878.7M1303.8 869.6V876.7M1309.7 871.3V872.5M1312.6 860V871.3M1315.6 854V860M1318.5 853.6V854.8M1324.4 850.7V853.7M1333.3 862.5V875.3M1336.2 855V862.5M1339.2 834.7V855M1345.1 807.7V835.1M1356.9 826.7V830.2M1374.6 908.9V919.4M1377.5 898.2V908.9M1380.5 889.2V898.2M1383.4 872.1V889.2M1386.4 853V872.1M1389.3 841.2V853M1392.3 826.3V841.2M1398.2 823.8V827.2M1401.1 815.9V823.8M1404.1 805.6V815.9M1407 799.7V805.6M1415.9 807.9V810.2M1418.8 800.6V807.9M1427.7 832.1V847.3M1433.6 858.2V864.6M1436.5 843.9V858.2M1442.4 847.4V851.1M1445.4 832.2V847.4M1448.3 810.9V832.2M1463.1 878.8V882.6M1466 868.8V878.8M1469 866.7V868.8M1474.9 893.4V901.6M1477.8 883.6V893.4M1480.8 874V883.6M1483.7 844.3V874M1486.7 825.5V844.3M1489.6 821V825.5M1495.5 850.9V852.7M1498.5 845.8V850.9M1510.3 920.4V934.2M1513.2 900V920.4M1516.2 896.1V900M1519.1 891V896.1M1522.1 869.5V891M1525 857.5V869.5M1528 848.1V857.5M1530.9 840.2V848.1M1533.9 821.7V840.2M1548.6 874.6V887.3M1557.5 904.7V914.6M1560.5 903.6V904.8M1584.1 1026.6V1045.3M1587 1006.6V1026.6M1590 979.5V1006.6M1592.9 965.2V979.5M1616.5 1169.7V1195.2M1619.5 1161.3V1169.7M1622.4 1142.4V1161.3M1625.4 1135.2V1142.4M1640.1 1258.5V1268.3M1646 1249.4V1267.4M1666.7 1293.9V1299.1M1669.6 1287.8V1293.9M1672.6 1282.9V1287.8M1675.5 1274.8V1282.9M1678.5 1270.7V1274.8M1681.4 1264.5V1270.7M1690.3 1261.4V1269M1693.2 1249.5V1261.4M1696.2 1240.8V1249.5M1699.1 1231.4V1240.8M1702.1 1223.5V1231.4M1708 1218.5V1225M1713.9 1209V1224.1M1716.8 1201.4V1209M1719.8 1189.2V1201.4M1722.7 1176.8V1189.2M1749.3 1235.2V1239.9M1758.1 1242.5V1243.7M1772.9 1265.1V1267.7M1781.7 1271V1279M1787.6 1267.5V1273.6M1793.5 1270.9V1272.2M1805.3 1277.7V1291.5M1814.2 1294V1297.2M1820.1 1300.4V1303.2M1826 1306.1V1307.6M1831.9 1311.8V1315.9M1846.6 1345.3V1350.2M1849.6 1339.4V1345.3M1855.5 1339.3V1340.6M1858.4 1335.4V1339.3M1867.3 1337.4V1342M1873.2 1331V1338.5M1879.1 1325.8V1332.6M1882 1324.7V1325.9M1887.9 1320.9V1326.5M1890.9 1320.6V1321.8M1893.8 1314.2V1320.6M1896.8 1313.7V1314.9M1899.7 1313.5V1314.7M1908.6 1319.4V1323.6M1914.5 1313.8V1319.5M1920.4 1312.9V1314.1M1923.3 1312.6V1313.8M1926.3 1310V1312.6M1929.2 1308.6V1310M1944 1311.8V1321M1952.8 1311.8V1320.4M1955.8 1307.2V1311.8M1958.7 1301.6V1307.2M1964.6 1292.4V1305.4M1970.5 1294.4V1295.6M1976.4 1293.2V1298.7M1979.4 1288.8V1293.2M1982.3 1284.6V1288.8M1994.1 1290.6V1293.9M2003 1286.4V1291.3M2005.9 1280.7V1286.4M2008.9 1277.9V1280.7M2011.8 1268.7V1277.9M2017.7 1265.4V1273.7M2020.7 1260.4V1265.4M2023.6 1254V1260.4M2035.4 1256.6V1262.7M2038.4 1255V1256.6M2041.4 1250.1V1255M2047.3 1257.5V1258.7M2050.2 1256.8V1258M2053.2 1247.1V1256.8M2056.1 1242.2V1247.1M2059.1 1238.7V1242.2M2065 1228.1V1238.8M2070.9 1224.5V1229.6M2082.7 1256.3V1258.2M2085.6 1250.9V1256.3M2088.6 1248.6V1250.9M2091.5 1244.4V1248.6M2094.5 1225.7V1244.4M2103.3 1238.4V1240.4M2109.2 1235.3V1246.9M2112.2 1235V1236.2M2115.1 1227.9V1235M2126.9 1269V1287M2129.9 1262.7V1269M2132.8 1253.9V1262.7M2135.8 1253.1V1254.3M2144.6 1245.2V1259.5M2147.6 1243.8V1245.2M2150.5 1232.8V1243.8M2159.4 1232.5V1246M2162.3 1226.4V1232.5M2168.2 1217.4V1228.9M2171.2 1203.3V1217.4M2174.1 1192.8V1203.3M2177.1 1182V1192.8M2183 1177.5V1192M2203.6 1202.7V1209.5M2206.6 1178.1V1202.7M2212.5 1153.3V1186M2215.4 1151.6V1153.3M2227.2 1205.5V1234.9M2230.2 1198.5V1205.5M2233.1 1193.2V1198.5M2236.1 1173.4V1193.2M2239 1163V1173.4M2242 1151.2V1163M2250.8 1155.3V1166.5M2253.8 1147.8V1155.3M2256.7 1145.6V1147.8M2262.6 1153.7V1157.3M2268.5 1137.4V1154.7M2271.5 1132.7V1137.4M2274.4 1125.2V1132.7M2283.3 1121.7V1129.7M2295.1 1119.5V1125.5M2298 1113.2V1119.5M2301 1107.5V1113.2M2303.9 1093.1V1107.5M2309.8 1090.6V1098M2324.6 1125.7V1133.6M2327.5 1115V1125.7M2330.5 1104.3V1115M2351.1 1132.3V1135.1M2357 1129.3V1133.4M2360 1125.6V1129.3M2362.9 1124.3V1125.6M2371.8 1123.8V1129.7M2374.7 1117.7V1123.8M2377.7 1117.2V1118.4M2380.6 1107.8V1117.2M2383.6 1097.9V1107.8M2386.5 1084.9V1097.9M2392.4 1081.2V1089.2M2395.4 1073.2V1081.2M2398.3 1063.9V1073.2M2401.3 1056V1063.9M2404.2 1053.7V1056M2407.2 1051V1053.7M2410.1 1044.4V1051M2413.1 1039.4V1044.4M2416 1033.2V1039.4M2421.9 1028.3V1034.9M2424.9 1014.3V1028.3M2430.8 1026.2V1030.3M2433.7 1012.3V1026.2M2436.7 991.4V1012.3M2439.6 970.6V991.4M2442.6 952.3V970.6M2445.5 935V952.3M2448.5 892V935M2454.4 886.7V905.4M2457.3 868.2V886.7M2460.3 827.4V868.2M2463.2 767.5V827.4M2472.1 766.2V786.9M2475 719.1V766.2M2478 680.3V719.1M2480.9 653.1V680.3M2483.9 621.1V653.1M2486.8 607.6V621.1M2492.7 599.1V613.3M2495.7 577.1V599.1M2498.6 575.5V577.1M2507.5 591.4V650.4M2510.4 549.8V591.4M2513.4 499.8V549.8M2516.3 464V499.8M2519.3 443.5V464M2522.2 429.2V443.5M2525.2 392.9V429.2M2528.1 339.1V392.9M2531.1 270.4V339.1M2537 286V297.6M2542.9 414.5V486.8M2545.9 336.4V414.5M2548.8 307V336.4M2557.7 274.7V400.2M2560.6 257.3V274.7M2569.5 268.2V310.7M2572.4 234.1V268.2M2578.3 233.1V252M2587.2 295.3V335.3M2596 375V421.8M2613.7 578.7V616.7M2616.7 531.9V578.7M2619.6 524.5V531.9M2649.1 800.7V842.3M2652.1 753.1V800.7M2663.9 865.4V892.7M2666.8 809.8V865.4M2672.7 803.3V810.6M2675.7 778.3V803.3M2684.5 811.7V822.9M2693.4 801.4V824.1M2696.3 777.4V801.4M2705.2 776V799.1M2722.9 809.7V826.2M2725.8 797.8V809.7M2728.8 789.8V797.8M2740.6 802.8V817.8M2743.5 784V802.8M2749.4 774.7V786.5M2778.9 960.6V969.1M2781.9 940.4V960.6M2784.8 937.4V940.4M2787.8 906.4V937.4M2790.7 895.3V906.4M2796.6 911V926.7M2799.6 899.2V911M2805.5 932.5V938.2M2808.4 921.3V932.5M2811.4 906V921.3M2814.3 889.2V906M2840.9 1082.3V1084.8M2843.8 1052.2V1082.3M2846.8 1047V1052.2M2855.6 1057.4V1083.8M2858.6 1043V1057.4M2879.2 1183.8V1205.8M2882.2 1175.4V1183.8M2885.1 1170.8V1175.4M2888.1 1163.5V1170.8M2891 1154.7V1163.5M2905.8 1169.6V1175.5M2911.7 1164.9V1170.4M2914.6 1162.8V1164.9M2926.4 1188.7V1198.5M2935.3 1197.3V1199.6M2938.2 1193.4V1197.3M2941.2 1181.5V1193.4M2944.1 1174.7V1181.5M2953 1193.5V1195.8M2964.8 1235.7V1238.3M2967.7 1228.2V1235.7M2973.6 1215.1V1229.5M2979.5 1212.6V1217.5M2982.5 1205.8V1212.6M2985.4 1204V1205.8M2988.4 1200.6V1204M2997.2 1198.1V1202.7M3006.1 1205.7V1206.9M3009 1198.6V1205.7M3012 1192.1V1198.6M3014.9 1182.8V1192.1M3017.9 1172.4V1182.8M3020.8 1145.7V1172.4M3023.8 1135.4V1145.7M3026.8 1112.3V1135.4M3029.7 1102.4V1112.3M3035.6 1121V1122.2M3038.6 1102.5V1121M3041.5 1085.9V1102.5M3044.5 1064.9V1085.9M3056.3 1078.6V1085.2M3059.2 1066.3V1078.6M3062.2 1064V1066.3M3065.1 1061.2V1064M3068.1 1055.4V1061.2M3071 1049.7V1055.4M3074 1029.1V1049.7M3076.9 1014.5V1029.1M3079.9 1008.8V1014.5M3085.8 1016.2V1025.5M3088.7 1007.2V1016.2M3091.7 1006.5V1007.7M3094.6 1006V1007.2M3097.6 1005.1V1006.3M3100.5 971.8V1005.1M3109.4 997.3V1017.1M3112.3 964.1V997.3M3124.1 1021.9V1048.7M3130 1026.9V1041.2M3135.9 1033V1036.7M3138.9 1027.9V1033M3141.8 1024.4V1027.9M3144.8 1021.1V1024.4M3147.7 983.2V1021.1M3150.7 970.4V983.2M3156.6 973.9V980.3M3165.4 973.3V984.3M3168.4 967.2V973.3M3177.2 970.1V975.7M3180.2 955.9V970.1M3183.1 941.5V955.9M3186.1 936.7V941.5M3200.8 934.4V961.5M3203.8 915.8V934.4M3206.7 889.4V915.8M3209.7 861.4V889.4M3212.6 856.6V861.4M3224.4 944.7V961.1M3227.4 927.9V944.7M3230.3 919.9V927.9M3233.3 905.4V919.9M3248 959.1V968.1M3251 954.4V959.1M3253.9 926.8V954.4M3256.9 924V926.8M3268.7 1008.2V1037M3274.6 999.6V1008.3M3280.5 1003.8V1026.1M3283.4 994.5V1003.8M3286.4 988.5V994.5M3289.3 964V988.5M3292.3 959.5V964M3295.2 952.9V959.5M3298.2 919.5V952.9M3301.1 890.4V919.5M3304.1 883.3V890.4M3310 861.7V910.6M3315.9 853.1V864.6M3318.8 845.1V853.1M3321.8 838.9V845.1M3324.7 832.9V838.9M3327.7 823.5V832.9M3339.5 887.4V890.9M3348.3 899.1V930.6M3351.3 892.1V899.1M3354.2 882.3V892.1M3360.1 881.2V921.4M3366 929.4V931.8M3369 921.5V929.4M3374.9 940.7V945.7M3377.8 924.5V940.7M3380.8 895.6V924.5M3383.7 893.5V895.6M3386.7 885.5V893.5M3395.5 912V922.7M3398.5 900V912M3401.4 876.3V900M3404.4 853.3V876.3M3413.2 903.7V905.5M3416.2 884.9V903.7M3430.9 902V926.6M3433.9 893.9V902M3448.6 997.5V1020M3451.6 979.4V997.5M3454.5 971.7V979.4M3463.4 1012V1014.1" stroke="#1f5235" stroke-width="2" fill="none"/>
<path shape-rendering="crispEdges" d="M44 1118.6V1122.2M49.9 1120.3V1121.5M64.6 1062.9V1101.6M67.6 1101.6V1159.6M70.5 1159.6V1160.8M79.4 1137.1V1138.4M85.3 1123.9V1132M88.3 1132V1149.1M91.2 1149.1V1166.3M94.2 1166.3V1168.3M97.1 1168.3V1183.9M100.1 1183.9V1197.2M103 1197.2V1214.2M106 1214.2V1221.6M108.9 1221.6V1227.1M117.8 1217.7V1237.8M123.7 1237.4V1246.3M126.6 1246.3V1247.5M129.6 1246.8V1257.9M132.5 1257.9V1275.9M135.5 1275.9V1284.8M141.4 1284.3V1297.4M150.2 1295.8V1301.7M153.2 1301.7V1312.2M156.1 1312.2V1330.2M159.1 1330.2V1337.2M170.9 1295.8V1304.1M176.8 1303.1V1311.9M179.7 1311.9V1322.1M182.7 1322.1V1331.1M188.6 1319.8V1329.4M203.3 1280.5V1295.8M206.3 1295.8V1305.3M212.2 1302.2V1303.4M215.1 1302.5V1307.3M218.1 1307.3V1311M221 1311V1314.7M224 1314.7V1315.9M226.9 1315.8V1325.5M232.8 1322.8V1325M235.8 1325V1327.1M244.6 1323.7V1325.6M247.6 1325.6V1326.8M256.4 1321.6V1328.1M277.1 1309V1310.3M294.8 1292.8V1294M303.6 1289.5V1291.6M318.4 1276.1V1277.3M327.2 1268.8V1272.1M330.2 1272.1V1277.3M333.1 1277.3V1283.7M336.1 1283.7V1284.9M339 1284.1V1285.3M344.9 1278.9V1290.7M347.9 1290.7V1305.1M350.8 1305.1V1312.4M353.8 1312.4V1316.1M359.7 1306V1315.4M362.6 1315.4V1321.5M365.6 1321.5V1322.7M371.5 1317.4V1321M380.3 1302.8V1306M389.2 1300.1V1303.7M392.1 1303.7V1304.9M395.1 1304.3V1306.7M398 1306.7V1311.6M401 1311.6V1313.9M421.6 1301.6V1305.6M430.5 1301.1V1305.2M436.4 1303.1V1306.8M439.3 1306.8V1308.4M442.3 1308.4V1320.6M457 1311.9V1314M462.9 1312.5V1315.5M468.8 1314.1V1318.4M471.8 1318.4V1321.6M474.7 1321.6V1322.8M483.6 1314.2V1317.3M486.5 1317.3V1320.1M489.5 1320.1V1321.8M495.4 1320V1324.5M498.3 1324.5V1328.7M504.2 1323.8V1329.3M507.2 1329.3V1332.4M513.1 1328.9V1330.1M524.9 1321.9V1323.1M530.8 1319.3V1320.5M548.5 1303.3V1306.3M554.4 1303.6V1305.1M557.3 1305.1V1306.4M560.3 1306.4V1309.3M569.2 1304V1305.2M572.1 1304.3V1307.1M578 1304.7V1305.9M586.9 1301V1303.2M595.7 1297.4V1303.3M601.6 1296.6V1300.1M613.4 1293.7V1295.9M622.3 1287.4V1288.6M625.2 1288.6V1290.9M642.9 1269.4V1270.6M645.9 1270V1271.5M651.8 1268.6V1269.8M657.7 1267.5V1269.5M660.6 1269.5V1273.7M663.6 1273.7V1286.8M666.5 1286.8V1293M672.4 1292.7V1296.7M684.2 1284.5V1289.6M687.2 1289.6V1295M704.9 1286.2V1289.4M710.8 1288.3V1290.8M713.7 1290.8V1295.5M728.5 1281.6V1282.8M734.4 1279.7V1287.5M740.3 1285.7V1287.6M746.2 1282.3V1284M752.1 1280V1281.7M758 1280.4V1283.5M781.6 1271.1V1273.9M784.5 1273.9V1276.6M787.5 1276.6V1278.4M796.3 1266.8V1270.1M799.3 1270.1V1273.6M819.9 1250.8V1252.8M828.8 1247.3V1248.9M843.5 1235.9V1240.6M852.4 1232.7V1233.9M855.3 1233.6V1234.8M873 1223.7V1228.6M881.9 1226.5V1227.7M887.8 1219.9V1221.1M890.7 1220.3V1222.5M893.7 1222.5V1225.9M896.6 1225.9V1227.4M899.6 1227.4V1233M905.5 1229.7V1233M908.4 1233V1234.2M914.3 1231.6V1234.3M991 1111.2V1112.4M1005.8 1090V1096.9M1017.6 1085.6V1095.2M1020.5 1095.2V1099.8M1023.5 1099.8V1103.2M1029.4 1101.8V1106.3M1032.3 1106.3V1112.8M1050 1091.9V1099.6M1053 1099.6V1122.7M1055.9 1122.7V1138.3M1064.8 1130.8V1132M1120.9 1023.2V1025.1M1123.8 1025.1V1033.5M1132.7 1030V1033.3M1138.6 1023.5V1036.9M1141.5 1036.9V1046.2M1147.4 1046V1047.2M1156.3 1031.8V1042.2M1159.2 1042.2V1056.2M1162.2 1056.2V1064.3M1185.8 970.7V981.5M1209.4 950.8V958.1M1215.3 956V966.1M1218.2 966.1V1026.5M1221.2 1026.5V1053.8M1233 1027.7V1057.4M1259.5 952V960.2M1306.7 869.6V871.7M1321.5 853.6V854.8M1327.4 850.7V859.1M1330.3 859.1V875.3M1342.1 834.7V835.9M1348 807.7V816M1351 816V818.8M1353.9 818.8V830.2M1359.8 826.7V849.3M1362.8 849.3V862.3M1365.7 862.3V873.6M1368.7 873.6V888.8M1371.6 888.8V919.4M1395.2 826.3V827.5M1410 799.7V805.7M1412.9 805.7V810.2M1421.8 800.6V839.9M1424.7 839.9V847.3M1430.6 832.1V864.6M1439.5 843.9V851.1M1451.3 810.9V823.8M1454.2 823.8V858.8M1457.2 858.8V880.5M1460.1 880.5V882.6M1471.9 866.7V901.6M1492.6 821V852.7M1501.4 845.8V906.3M1504.4 906.3V925.3M1507.3 925.3V934.2M1536.8 821.7V841.7M1539.8 841.7V857.9M1542.7 857.9V870.7M1545.7 870.7V887.3M1551.6 874.6V901.8M1554.6 901.8V914.6M1563.4 903.6V914.3M1566.4 914.3V917.3M1569.3 917.3V918.5M1572.3 918.5V940.2M1575.2 940.2V986.7M1578.2 986.7V1033.3M1581.1 1033.3V1045.3M1595.9 965.2V1008.9M1598.8 1008.9V1045.7M1601.8 1045.7V1114.7M1604.7 1114.7V1119.2M1607.7 1119.2V1142.3M1610.6 1142.3V1183.1M1613.6 1183.1V1195.2M1628.3 1135.2V1184.9M1631.3 1184.9V1212.3M1634.2 1212.3V1235.5M1637.2 1235.5V1268.3M1643.1 1258.5V1267.4M1649 1249.4V1257.2M1651.9 1257.2V1273.4M1654.9 1273.4V1281.2M1657.8 1281.2V1289.9M1660.8 1289.9V1296.4M1663.7 1296.4V1299.1M1684.4 1264.5V1267.4M1687.3 1267.4V1269M1705 1223.5V1225M1710.9 1218.5V1224.1M1725.7 1176.8V1182M1728.6 1182V1194.2M1731.6 1194.2V1208M1734.5 1208V1209.2M1737.5 1209.2V1229.7M1740.4 1229.7V1230.9M1743.4 1230.8V1238.7M1746.3 1238.7V1239.9M1752.2 1235.2V1240.2M1755.2 1240.2V1243M1761.1 1242.5V1245.2M1764 1245.2V1257.9M1767 1257.9V1259.1M1769.9 1258.5V1267.7M1775.8 1265.1V1269.9M1778.8 1269.9V1279M1784.7 1271V1273.6M1790.6 1267.5V1272.2M1796.5 1270.9V1273.7M1799.4 1273.7V1283.1M1802.4 1283.1V1291.5M1808.3 1277.7V1291.8M1811.2 1291.8V1297.2M1817.1 1294V1303.2M1823 1300.4V1307.6M1828.9 1306.1V1315.9M1834.8 1311.8V1326.2M1837.8 1326.2V1327.5M1840.7 1327.5V1337.8M1843.7 1337.8V1350.2M1852.5 1339.4V1340.6M1861.4 1335.4V1341M1864.3 1341V1342.2M1870.2 1337.4V1338.6M1876.1 1331V1332.6M1885 1324.7V1326.5M1902.7 1313.5V1322.8M1905.6 1322.8V1324M1911.5 1319.4V1320.6M1917.4 1313.8V1315M1932.2 1308.6V1312.5M1935.1 1312.5V1314.1M1938.1 1314.1V1320.6M1941 1320.6V1321.8M1946.9 1311.8V1315.1M1949.9 1315.1V1320.4M1961.7 1301.6V1305.4M1967.6 1292.4V1294.5M1973.5 1294.4V1298.7M1985.3 1284.6V1287.6M1988.2 1287.6V1291.1M1991.2 1291.1V1293.9M1997.1 1290.6V1291.8M2000 1291V1292.2M2014.8 1268.7V1273.7M2026.6 1254V1255.2M2029.5 1254.7V1258.1M2032.5 1258.1V1262.7M2044.3 1250.1V1257.9M2062 1238.7V1239.9M2067.9 1228.1V1229.6M2073.8 1224.5V1231M2076.8 1231V1243.4M2079.7 1243.4V1258.2M2097.4 1225.7V1237.3M2100.4 1237.3V1240.4M2106.3 1238.4V1246.9M2118.1 1227.9V1248.8M2121 1248.8V1276.2M2124 1276.2V1287M2138.7 1253.1V1257.7M2141.7 1257.7V1259.5M2153.5 1232.8V1239.7M2156.4 1239.7V1246M2165.3 1226.4V1228.9M2180 1182V1192M2185.9 1177.5V1183.4M2188.9 1183.4V1187M2191.8 1187V1189.5M2194.8 1189.5V1195.8M2197.7 1195.8V1205.3M2200.7 1205.3V1209.5M2209.5 1178.1V1186M2218.4 1151.6V1190.7M2221.3 1190.7V1220.6M2224.3 1220.6V1234.9M2244.9 1151.2V1152.9M2247.9 1152.9V1166.5M2259.7 1145.6V1157.3M2265.6 1153.7V1154.9M2277.4 1125.2V1128.5M2280.3 1128.5V1129.7M2286.2 1121.7V1122.9M2289.2 1122.8V1124M2292.1 1123.1V1125.5M2306.9 1093.1V1098M2312.8 1090.6V1109.2M2315.7 1109.2V1119.6M2318.7 1119.6V1129M2321.6 1129V1133.6M2333.4 1104.3V1107.1M2336.4 1107.1V1108.3M2339.3 1108.2V1121.5M2342.3 1121.5V1123.1M2345.2 1123.1V1130M2348.2 1130V1135.1M2354.1 1132.3V1133.5M2365.9 1124.3V1125.7M2368.8 1125.7V1129.7M2389.5 1084.9V1089.2M2419 1033.2V1034.9M2427.8 1014.3V1030.3M2451.4 892V905.4M2466.2 767.5V777.8M2469.1 777.8V786.9M2489.8 607.6V613.3M2501.6 575.5V627.9M2504.5 627.9V650.4M2534.1 270.4V297.6M2540 286V486.8M2551.8 307V333.1M2554.7 333.1V400.2M2563.6 257.3V266.2M2566.5 266.2V310.7M2575.4 234.1V252M2581.3 233.1V305.2M2584.2 305.2V335.3M2590.1 295.3V391.5M2593.1 391.5V421.8M2599 375V386.7M2601.9 386.7V416.7M2604.9 416.7V418.7M2607.8 418.7V510.2M2610.8 510.2V616.7M2622.6 524.5V532.7M2625.5 532.7V580.2M2628.5 580.2V585.3M2631.4 585.3V635.1M2634.4 635.1V664.9M2637.3 664.9V702.4M2640.3 702.4V724M2643.2 724V794M2646.2 794V842.3M2655 753.1V847.5M2658 847.5V884.7M2660.9 884.7V892.7M2669.8 809.8V811M2678.6 778.3V799.7M2681.6 799.7V822.9M2687.5 811.7V821M2690.4 821V824.1M2699.3 777.4V792.8M2702.2 792.8V799.1M2708.1 776V781.8M2711.1 781.8V798.6M2714 798.6V815.4M2717 815.4V818.7M2719.9 818.7V826.2M2731.7 789.8V792.2M2734.7 792.2V807.9M2737.6 807.9V817.8M2746.5 784V786.5M2752.4 774.7V797.9M2755.3 797.9V828.7M2758.3 828.7V841M2761.2 841V862.2M2764.2 862.2V891.9M2767.1 891.9V905.7M2770.1 905.7V923.1M2773 923.1V955.3M2776 955.3V969.1M2793.7 895.3V926.7M2802.5 899.2V938.2M2817.3 889.2V905.1M2820.2 905.1V928.9M2823.2 928.9V951.1M2826.1 951.1V959.8M2829.1 959.8V972.6M2832 972.6V1014.7M2835 1014.7V1064.1M2837.9 1064.1V1084.8M2849.7 1047V1057M2852.7 1057V1083.8M2861.5 1043V1094.9M2864.5 1094.9V1146.9M2867.4 1146.9V1156.5M2870.4 1156.5V1184.1M2873.3 1184.1V1204.6M2876.3 1204.6V1205.8M2894 1154.7V1159.1M2896.9 1159.1V1165M2899.9 1165V1173.4M2902.8 1173.4V1175.5M2908.7 1169.6V1170.8M2917.6 1162.8V1180.4M2920.5 1180.4V1196.5M2923.5 1196.5V1198.5M2929.4 1188.7V1198.1M2932.3 1198.1V1199.6M2947.1 1174.7V1186.8M2950 1186.8V1195.8M2955.9 1193.5V1199.8M2958.9 1199.8V1212.5M2961.8 1212.5V1238.3M2970.7 1228.2V1229.5M2976.6 1215.1V1217.5M2991.3 1200.6V1202.4M2994.3 1202.4V1203.6M3000.2 1198.1V1200.7M3003.1 1200.7V1206.2M3032.7 1102.4V1121.6M3047.4 1064.9V1066.1M3050.4 1065.2V1078M3053.3 1078V1085.2M3082.8 1008.8V1025.5M3103.5 971.8V1001M3106.4 1001V1017.1M3115.3 964.1V969.6M3118.2 969.6V1003.5M3121.2 1003.5V1048.7M3127.1 1021.9V1041.2M3133 1026.9V1036.7M3153.6 970.4V980.3M3159.5 973.9V979M3162.5 979V984.3M3171.3 967.2V969.3M3174.3 969.3V975.7M3189 936.7V942.8M3192 942.8V946.5M3194.9 946.5V959.9M3197.9 959.9V961.5M3215.6 856.6V900.2M3218.5 900.2V906.9M3221.5 906.9V961.1M3236.2 905.4V918.7M3239.2 918.7V929.2M3242.1 929.2V940.3M3245.1 940.3V968.1M3259.8 924V945.9M3262.8 945.9V987.2M3265.7 987.2V1037M3271.6 1008.2V1009.4M3277.5 999.6V1026.1M3307 883.3V910.6M3312.9 861.7V864.6M3330.6 823.5V842.6M3333.6 842.6V887.1M3336.5 887.1V890.9M3342.4 887.4V896.6M3345.4 896.6V930.6M3357.2 882.3V921.4M3363.1 881.2V931.8M3371.9 921.5V945.7M3389.6 885.5V892.9M3392.6 892.9V922.7M3407.3 853.3V874M3410.3 874V905.5M3419.1 884.9V895.8M3422.1 895.8V904M3425 904V919.1M3428 919.1V926.6M3436.8 893.9V917.7M3439.8 917.7V938.3M3442.7 938.3V999.6M3445.7 999.6V1020M3457.5 971.7V984.9M3460.4 984.9V1008.8" stroke="#5f1912" stroke-width="2" fill="none"/>
<path d="M17.8 1206.7h5.2M20.4 1204.1v5.2M20.7 1204h5.2M23.3 1201.4v5.2M23.7 1201h5.2M26.3 1198.4v5.2M26.6 1197.9h5.2M29.2 1195.3v5.2M29.6 1193.7h5.2M32.2 1191.1v5.2M32.5 1188.4h5.2M35.1 1185.8v5.2M35.5 1182.5h5.2M38.1 1179.9v5.2M38.4 1176.4h5.2M41 1173.8v5.2M41.4 1171.2h5.2M44 1168.6v5.2M44.3 1166.4h5.2M46.9 1163.8v5.2M47.3 1162.1h5.2M49.9 1159.5v5.2M50.2 1156.7h5.2M52.8 1154.1v5.2M53.2 1150.6h5.2M55.8 1148v5.2M56.1 1143.6h5.2M58.7 1141v5.2M59.1 1136h5.2M61.7 1133.4v5.2M62 1132.7h5.2M64.6 1130.1v5.2M65 1135.2h5.2M67.6 1132.6v5.2M67.9 1137.6h5.2M70.5 1135v5.2M70.9 1139.1h5.2M73.5 1136.5v5.2M73.9 1138.9h5.2M76.5 1136.3v5.2M76.8 1138.9h5.2M79.4 1136.3v5.2M79.8 1137.4h5.2M82.4 1134.8v5.2M82.7 1136.9h5.2M85.3 1134.3v5.2M85.7 1138.1h5.2M88.3 1135.5v5.2M88.6 1140.8h5.2M91.2 1138.2v5.2M91.6 1143.4h5.2M94.2 1140.8v5.2M94.5 1147.2h5.2M97.1 1144.6v5.2M97.5 1152h5.2M100.1 1149.4v5.2M100.4 1157.9h5.2M103 1155.3v5.2M103.4 1164h5.2M106 1161.4v5.2M106.3 1170h5.2M108.9 1167.4v5.2M109.3 1175.3h5.2M111.9 1172.7v5.2M112.2 1179.3h5.2M114.8 1176.7v5.2M115.2 1184.9h5.2M117.8 1182.3v5.2M118.1 1189.9h5.2M120.7 1187.3v5.2M121.1 1195.3h5.2M123.7 1192.7v5.2M124 1200.2h5.2M126.6 1197.6v5.2M127 1205.7h5.2M129.6 1203.1v5.2M129.9 1212.4h5.2M132.5 1209.8v5.2M132.9 1219.3h5.2M135.5 1216.7v5.2M135.8 1225.4h5.2M138.4 1222.8v5.2M138.8 1232.3h5.2M141.4 1229.7v5.2M141.7 1238.5h5.2M144.3 1235.9v5.2M144.7 1243.9h5.2M147.3 1241.3v5.2M147.6 1249.4h5.2M150.2 1246.8v5.2M150.6 1255.4h5.2M153.2 1252.8v5.2M153.5 1262.5h5.2M156.1 1259.9v5.2M156.5 1269.6h5.2M159.1 1267v5.2M159.4 1274.4h5.2M162 1271.8v5.2M162.4 1277.1h5.2M165 1274.5v5.2M165.3 1278.9h5.2M167.9 1276.3v5.2M168.3 1281.3h5.2M170.9 1278.7v5.2M171.2 1283.3h5.2M173.8 1280.7v5.2M174.2 1286.1h5.2M176.8 1283.5v5.2M177.1 1289.5h5.2M179.7 1286.9v5.2M180.1 1293.5h5.2M182.7 1290.9v5.2M183 1296h5.2M185.6 1293.4v5.2M186 1299.1h5.2M188.6 1296.5v5.2M188.9 1300.2h5.2M191.5 1297.6v5.2M191.9 1300.7h5.2M194.5 1298.1v5.2M194.8 1299.4h5.2M197.4 1296.8v5.2M197.8 1297.6h5.2M200.4 1295v5.2M200.7 1297.4h5.2M203.3 1294.8v5.2M203.7 1298.2h5.2M206.3 1295.6v5.2M206.6 1298.6h5.2M209.2 1296v5.2M209.6 1298.9h5.2M212.2 1296.3v5.2M212.5 1299.7h5.2M215.1 1297.1v5.2M215.5 1300.8h5.2M218.1 1298.2v5.2M218.4 1302.1h5.2M221 1299.5v5.2M221.4 1303.4h5.2M224 1300.8v5.2M224.3 1305.5h5.2M226.9 1302.9v5.2M227.3 1307.2h5.2M229.9 1304.6v5.2M230.2 1308.9h5.2M232.8 1306.3v5.2M233.2 1310.6h5.2M235.8 1308v5.2M236.1 1312.1h5.2M238.7 1309.5v5.2M239.1 1313.2h5.2M241.7 1310.6v5.2M242 1314.4h5.2M244.6 1311.8v5.2M245 1315.5h5.2M247.6 1312.9v5.2M247.9 1316.2h5.2M250.5 1313.6v5.2M250.9 1316.7h5.2M253.5 1314.1v5.2M253.8 1317.8h5.2M256.4 1315.2v5.2M256.8 1318.5h5.2M259.4 1315.9v5.2M259.7 1318.9h5.2M262.3 1316.3v5.2M262.7 1318.7h5.2M265.3 1316.1v5.2M265.6 1318.4h5.2M268.2 1315.8v5.2M268.6 1317.7h5.2M271.2 1315.1v5.2M271.5 1316.9h5.2M274.1 1314.3v5.2M274.5 1316.3h5.2M277.1 1313.7v5.2M277.4 1315.4h5.2M280 1312.8v5.2M280.4 1314.1h5.2M283 1311.5v5.2M283.3 1312.7h5.2M285.9 1310.1v5.2M286.3 1311.1h5.2M288.9 1308.5v5.2M289.2 1309.3h5.2M291.8 1306.7v5.2M292.2 1307.8h5.2M294.8 1305.2v5.2M295.1 1306.2h5.2M297.7 1303.6v5.2M298.1 1304.6h5.2M300.7 1302v5.2M301 1303.4h5.2M303.6 1300.8v5.2M304 1301.7h5.2M306.6 1299.1v5.2M306.9 1299.7h5.2M309.5 1297.1v5.2M309.9 1297.8h5.2M312.5 1295.2v5.2M312.8 1295.7h5.2M315.4 1293.1v5.2M315.8 1293.9h5.2M318.4 1291.3v5.2M318.7 1292.1h5.2M321.3 1289.5v5.2M321.7 1289.9h5.2M324.3 1287.3v5.2M324.6 1288.2h5.2M327.2 1285.6v5.2M327.6 1287.2h5.2M330.2 1284.6v5.2M330.5 1286.8h5.2M333.1 1284.2v5.2M333.5 1286.6h5.2M336.1 1284v5.2M336.4 1286.4h5.2M339 1283.8v5.2M339.4 1285.7h5.2M342 1283.1v5.2M342.3 1286.1h5.2M344.9 1283.5v5.2M345.3 1287.9h5.2M347.9 1285.3v5.2M348.2 1290.3h5.2M350.8 1287.7v5.2M351.2 1292.7h5.2M353.8 1290.1v5.2M354.1 1294h5.2M356.7 1291.4v5.2M357.1 1296h5.2M359.7 1293.4v5.2M360 1298.5h5.2M362.6 1295.9v5.2M363 1300.7h5.2M365.6 1298.1v5.2M365.9 1302.3h5.2M368.5 1299.7v5.2M368.9 1304.1h5.2M371.5 1301.5v5.2M371.8 1304.4h5.2M374.4 1301.8v5.2M374.8 1304.3h5.2M377.4 1301.7v5.2M377.7 1304.4h5.2M380.3 1301.8v5.2M380.7 1304.2h5.2M383.3 1301.6v5.2M383.6 1303.8h5.2M386.2 1301.2v5.2M386.6 1303.8h5.2M389.2 1301.2v5.2M389.5 1303.9h5.2M392.1 1301.3v5.2M392.5 1304.1h5.2M395.1 1301.5v5.2M395.4 1304.8h5.2M398 1302.2v5.2M398.4 1305.7h5.2M401 1303.1v5.2M401.3 1306.3h5.2M403.9 1303.7v5.2M404.3 1306.8h5.2M406.9 1304.2v5.2M407.2 1307h5.2M409.8 1304.4v5.2M410.2 1307.2h5.2M412.8 1304.6v5.2M413.1 1306.8h5.2M415.7 1304.2v5.2M416.1 1306.3h5.2M418.7 1303.7v5.2M419 1306.2h5.2M421.6 1303.6v5.2M422 1306h5.2M424.6 1303.4v5.2M424.9 1305.5h5.2M427.5 1302.9v5.2M427.9 1305.5h5.2M430.5 1302.9v5.2M430.8 1305.2h5.2M433.4 1302.6v5.2M433.8 1305.4h5.2M436.4 1302.8v5.2M436.7 1305.7h5.2M439.3 1303.1v5.2M439.7 1307.1h5.2M442.3 1304.5v5.2M442.6 1307.9h5.2M445.2 1305.3v5.2M445.6 1308.6h5.2M448.2 1306v5.2M448.5 1309.1h5.2M451.1 1306.5v5.2M451.5 1309.3h5.2M454.1 1306.7v5.2M454.4 1309.8h5.2M457 1307.2v5.2M457.4 1310h5.2M460 1307.4v5.2M460.3 1310.6h5.2M462.9 1308v5.2M463.3 1310.9h5.2M465.9 1308.3v5.2M466.2 1311.6h5.2M468.8 1309v5.2M469.2 1312.6h5.2M471.8 1310v5.2M472.1 1313.5h5.2M474.7 1310.9v5.2M475.1 1314.3h5.2M477.7 1311.7v5.2M478 1314.3h5.2M480.6 1311.7v5.2M481 1314.6h5.2M483.6 1312v5.2M483.9 1315.1h5.2M486.5 1312.5v5.2M486.9 1315.7h5.2M489.5 1313.1v5.2M489.8 1316.1h5.2M492.4 1313.5v5.2M492.8 1316.9h5.2M495.4 1314.3v5.2M495.7 1318.1h5.2M498.3 1315.5v5.2M498.7 1318.6h5.2M501.3 1316v5.2M501.6 1319.6h5.2M504.2 1317v5.2M504.6 1320.8h5.2M507.2 1318.2v5.2M507.5 1321.6h5.2M510.1 1319v5.2M510.5 1322.4h5.2M513.1 1319.8v5.2M513.4 1322.6h5.2M516 1320v5.2M516.4 1322.7h5.2M519 1320.1v5.2M519.3 1322.6h5.2M521.9 1320v5.2M522.3 1322.5h5.2M524.9 1319.9v5.2M525.2 1322.2h5.2M527.8 1319.6v5.2M528.2 1322h5.2M530.8 1319.4v5.2M531.1 1321.2h5.2M533.7 1318.6v5.2M534.1 1320.3h5.2M536.7 1317.7v5.2M537 1319.5h5.2M539.6 1316.9v5.2M540 1318.5h5.2M542.6 1315.9v5.2M542.9 1317.1h5.2M545.5 1314.5v5.2M545.9 1316h5.2M548.5 1313.4v5.2M548.8 1314.8h5.2M551.4 1312.2v5.2M551.8 1313.9h5.2M554.4 1311.3v5.2M554.7 1313.2h5.2M557.3 1310.6v5.2M557.7 1312.8h5.2M560.3 1310.2v5.2M560.6 1312.3h5.2M563.2 1309.7v5.2M563.6 1311.5h5.2M566.2 1308.9v5.2M566.6 1310.9h5.2M569.2 1308.3v5.2M569.5 1310.5h5.2M572.1 1307.9v5.2M572.5 1309.9h5.2M575.1 1307.3v5.2M575.4 1309.6h5.2M578 1307v5.2M578.4 1309h5.2M581 1306.4v5.2M581.3 1308.2h5.2M583.9 1305.6v5.2M584.3 1307.7h5.2M586.9 1305.1v5.2M587.2 1307h5.2M589.8 1304.4v5.2M590.2 1306.1h5.2M592.8 1303.5v5.2M593.1 1305.8h5.2M595.7 1303.2v5.2M596.1 1304.9h5.2M598.7 1302.3v5.2M599 1304.5h5.2M601.6 1301.9v5.2M602 1304h5.2M604.6 1301.4v5.2M604.9 1303.5h5.2M607.5 1300.9v5.2M607.9 1302.6h5.2M610.5 1300v5.2M610.8 1301.9h5.2M613.4 1299.3v5.2M613.8 1300.8h5.2M616.4 1298.2v5.2M616.7 1299.5h5.2M619.3 1296.9v5.2M619.7 1298.5h5.2M622.3 1295.9v5.2M622.6 1297.7h5.2M625.2 1295.1v5.2M625.6 1296.8h5.2M628.2 1294.2v5.2M628.5 1295.3h5.2M631.1 1292.7v5.2M631.5 1293.4h5.2M634.1 1290.8v5.2M634.4 1291.4h5.2M637 1288.8v5.2M637.4 1289.3h5.2M640 1286.7v5.2M640.3 1287.5h5.2M642.9 1284.9v5.2M643.3 1286h5.2M645.9 1283.4v5.2M646.2 1284.3h5.2M648.8 1281.7v5.2M649.2 1282.8h5.2M651.8 1280.2v5.2M652.1 1281.4h5.2M654.7 1278.8v5.2M655.1 1280.3h5.2M657.7 1277.7v5.2M658 1279.6h5.2M660.6 1277v5.2M661 1280.3h5.2M663.6 1277.7v5.2M663.9 1281.5h5.2M666.5 1278.9v5.2M666.9 1282.6h5.2M669.5 1280v5.2M669.8 1283.9h5.2M672.4 1281.3v5.2M672.8 1284.4h5.2M675.4 1281.8v5.2M675.7 1284.7h5.2M678.3 1282.1v5.2M678.7 1284.7h5.2M681.3 1282.1v5.2M681.6 1285.2h5.2M684.2 1282.6v5.2M684.6 1286.1h5.2M687.2 1283.5v5.2M687.5 1286.5h5.2M690.1 1283.9v5.2M690.5 1286.8h5.2M693.1 1284.2v5.2M693.4 1287h5.2M696 1284.4v5.2M696.4 1287h5.2M699 1284.4v5.2M699.3 1286.9h5.2M701.9 1284.3v5.2M702.3 1287.1h5.2M704.9 1284.5v5.2M705.2 1287.3h5.2M707.8 1284.7v5.2M708.2 1287.6h5.2M710.8 1285v5.2M711.1 1288.3h5.2M713.7 1285.7v5.2M714.1 1288.9h5.2M716.7 1286.3v5.2M717 1288.6h5.2M719.6 1286v5.2M720 1288h5.2M722.6 1285.4v5.2M722.9 1287.4h5.2M725.5 1284.8v5.2M725.9 1286.9h5.2M728.5 1284.3v5.2M728.8 1286.2h5.2M731.4 1283.6v5.2M731.8 1286.3h5.2M734.4 1283.7v5.2M734.7 1286.3h5.2M737.3 1283.7v5.2M737.7 1286.4h5.2M740.3 1283.8v5.2M740.6 1286h5.2M743.2 1283.4v5.2M743.6 1285.8h5.2M746.2 1283.2v5.2M746.5 1285.2h5.2M749.1 1282.6v5.2M749.5 1284.9h5.2M752.1 1282.3v5.2M752.4 1284.5h5.2M755 1281.9v5.2M755.4 1284.4h5.2M758 1281.8v5.2M758.3 1284.3h5.2M760.9 1281.7v5.2M761.3 1284h5.2M763.9 1281.4v5.2M764.2 1283.7h5.2M766.8 1281.1v5.2M767.2 1283.1h5.2M769.8 1280.5v5.2M770.1 1282.6h5.2M772.7 1280v5.2M773.1 1281.7h5.2M775.7 1279.1v5.2M776 1280.7h5.2M778.6 1278.1v5.2M779 1280.1h5.2M781.6 1277.5v5.2M781.9 1279.7h5.2M784.5 1277.1v5.2M784.9 1279.6h5.2M787.5 1277v5.2M787.8 1279.1h5.2M790.4 1276.5v5.2M790.8 1278h5.2M793.4 1275.4v5.2M793.7 1277.2h5.2M796.3 1274.6v5.2M796.7 1276.9h5.2M799.3 1274.3v5.2M799.6 1276.3h5.2M802.2 1273.7v5.2M802.6 1275.4h5.2M805.2 1272.8v5.2M805.5 1274.2h5.2M808.1 1271.6v5.2M808.5 1272.5h5.2M811.1 1269.9v5.2M811.4 1271h5.2M814 1268.4v5.2M814.4 1269.1h5.2M817 1266.5v5.2M817.3 1267.5h5.2M819.9 1264.9v5.2M820.3 1265.9h5.2M822.9 1263.3v5.2M823.2 1264.1h5.2M825.8 1261.5v5.2M826.2 1262.7h5.2M828.8 1260.1v5.2M829.1 1261.2h5.2M831.7 1258.6v5.2M832.1 1259.5h5.2M834.7 1256.9v5.2M835 1257.8h5.2M837.6 1255.2v5.2M838 1255.7h5.2M840.6 1253.1v5.2M840.9 1254.3h5.2M843.5 1251.7v5.2M843.9 1252.6h5.2M846.5 1250v5.2M846.8 1250.7h5.2M849.4 1248.1v5.2M849.8 1249.1h5.2M852.4 1246.5v5.2M852.7 1247.7h5.2M855.3 1245.1v5.2M855.7 1246.5h5.2M858.3 1243.9v5.2M858.6 1245.1h5.2M861.2 1242.5v5.2M861.6 1243.8h5.2M864.2 1241.2v5.2M864.5 1242.1h5.2M867.1 1239.5v5.2M867.5 1240.4h5.2M870.1 1237.8v5.2M870.4 1239.2h5.2M873 1236.6v5.2M873.4 1238.2h5.2M876 1235.6v5.2M876.3 1237.1h5.2M878.9 1234.5v5.2M879.3 1236.1h5.2M881.9 1233.5v5.2M882.2 1234.6h5.2M884.8 1232v5.2M885.2 1233.2h5.2M887.8 1230.6v5.2M888.1 1232.2h5.2M890.7 1229.6v5.2M891.1 1231.6h5.2M893.7 1229v5.2M894 1231.2h5.2M896.6 1228.6v5.2M897 1231.4h5.2M899.6 1228.8v5.2M899.9 1231.2h5.2M902.5 1228.6v5.2M902.9 1231.4h5.2M905.5 1228.8v5.2M905.8 1231.6h5.2M908.4 1229v5.2M908.8 1231.6h5.2M911.4 1229v5.2M911.7 1231.8h5.2M914.3 1229.2v5.2M914.7 1232h5.2M917.3 1229.4v5.2M917.6 1231.5h5.2M920.2 1228.9v5.2M920.6 1230.8h5.2M923.2 1228.2v5.2M923.5 1229.9h5.2M926.1 1227.3v5.2M926.5 1228.6h5.2M929.1 1226v5.2M929.4 1227h5.2M932 1224.4v5.2M932.4 1225.2h5.2M935 1222.6v5.2M935.3 1223h5.2M937.9 1220.4v5.2M938.3 1221.1h5.2M940.9 1218.5v5.2M941.2 1218.8h5.2M943.8 1216.2v5.2M944.2 1216.1h5.2M946.8 1213.5v5.2M947.1 1213.1h5.2M949.7 1210.5v5.2M950.1 1210.1h5.2M952.7 1207.5v5.2M953 1206.5h5.2M955.6 1203.9v5.2M956 1202.6h5.2M958.6 1200v5.2M958.9 1198.7h5.2M961.5 1196.1v5.2M961.9 1195h5.2M964.5 1192.4v5.2M964.8 1191.2h5.2M967.4 1188.6v5.2M967.8 1187.1h5.2M970.4 1184.5v5.2M970.7 1182.5h5.2M973.3 1179.9v5.2M973.7 1177.5h5.2M976.3 1174.9v5.2M976.6 1171.8h5.2M979.2 1169.2v5.2M979.6 1166.2h5.2M982.2 1163.6v5.2M982.5 1161.1h5.2M985.1 1158.5v5.2M985.5 1156.4h5.2M988.1 1153.8v5.2M988.4 1152.1h5.2M991 1149.5v5.2M991.4 1148.1h5.2M994 1145.5v5.2M994.3 1143.8h5.2M996.9 1141.2v5.2M997.3 1139.1h5.2M999.9 1136.5v5.2M1000.2 1134.4h5.2M1002.8 1131.8v5.2M1003.2 1130.8h5.2M1005.8 1128.2v5.2M1006.1 1127.4h5.2M1008.7 1124.8v5.2M1009.1 1123.8h5.2M1011.7 1121.2v5.2M1012 1120.1h5.2M1014.6 1117.5v5.2M1015 1117.8h5.2M1017.6 1115.2v5.2M1017.9 1116h5.2M1020.5 1113.4v5.2M1020.9 1114.8h5.2M1023.5 1112.2v5.2M1023.8 1113.6h5.2M1026.4 1111v5.2M1026.8 1112.9h5.2M1029.4 1110.3v5.2M1029.7 1112.9h5.2M1032.3 1110.3v5.2M1032.7 1112.6h5.2M1035.3 1110v5.2M1035.6 1111.7h5.2M1038.2 1109.1v5.2M1038.6 1110.6h5.2M1041.2 1108v5.2M1041.5 1109.1h5.2M1044.1 1106.5v5.2M1044.5 1107.4h5.2M1047.1 1104.8v5.2M1047.4 1106.7h5.2M1050 1104.1v5.2M1050.4 1108.2h5.2M1053 1105.6v5.2M1053.3 1111.1h5.2M1055.9 1108.5v5.2M1056.3 1113.5h5.2M1058.9 1110.9v5.2M1059.3 1115.1h5.2M1061.9 1112.5v5.2M1062.2 1116.7h5.2M1064.8 1114.1v5.2M1065.2 1118h5.2M1067.8 1115.4v5.2M1068.1 1118.7h5.2M1070.7 1116.1v5.2M1071.1 1119.2h5.2M1073.7 1116.6v5.2M1074 1119h5.2M1076.6 1116.4v5.2M1077 1118.2h5.2M1079.6 1115.6v5.2M1079.9 1116.8h5.2M1082.5 1114.2v5.2M1082.9 1114.7h5.2M1085.5 1112.1v5.2M1085.8 1111.7h5.2M1088.4 1109.1v5.2M1088.8 1108.3h5.2M1091.4 1105.7v5.2M1091.7 1104.3h5.2M1094.3 1101.7v5.2M1094.7 1099.8h5.2M1097.3 1097.2v5.2M1097.6 1095.2h5.2M1100.2 1092.6v5.2M1100.6 1090.7h5.2M1103.2 1088.1v5.2M1103.5 1086h5.2M1106.1 1083.4v5.2M1106.5 1081.2h5.2M1109.1 1078.6v5.2M1109.4 1076.7h5.2M1112 1074.1v5.2M1112.4 1072h5.2M1115 1069.4v5.2M1115.3 1067.4h5.2M1117.9 1064.8v5.2M1118.3 1063.4h5.2M1120.9 1060.8v5.2M1121.2 1060.5h5.2M1123.8 1057.9v5.2M1124.2 1057.9h5.2M1126.8 1055.3v5.2M1127.1 1055.3h5.2M1129.7 1052.7v5.2M1130.1 1053.2h5.2M1132.7 1050.6v5.2M1133 1050.3h5.2M1135.6 1047.7v5.2M1136 1049.1h5.2M1138.6 1046.5v5.2M1138.9 1048.8h5.2M1141.5 1046.2v5.2M1141.9 1048.5h5.2M1144.5 1045.9v5.2M1144.8 1048.3h5.2M1147.4 1045.7v5.2M1147.8 1047.6h5.2M1150.4 1045v5.2M1150.7 1046.1h5.2M1153.3 1043.5v5.2M1153.7 1045.7h5.2M1156.3 1043.1v5.2M1156.6 1046.7h5.2M1159.2 1044.1v5.2M1159.6 1048.4h5.2M1162.2 1045.8v5.2M1162.5 1049.1h5.2M1165.1 1046.5v5.2M1165.5 1048.4h5.2M1168.1 1045.8v5.2M1168.4 1046.1h5.2M1171 1043.5v5.2M1171.4 1042.5h5.2M1174 1039.9v5.2M1174.3 1037.1h5.2M1176.9 1034.5v5.2M1177.3 1031.3h5.2M1179.9 1028.7v5.2M1180.2 1025.5h5.2M1182.8 1022.9v5.2M1183.2 1021.3h5.2M1185.8 1018.7v5.2M1186.1 1017.5h5.2M1188.7 1014.9v5.2M1189.1 1013.7h5.2M1191.7 1011.1v5.2M1192 1010.2h5.2M1194.6 1007.6v5.2M1195 1006h5.2M1197.6 1003.4v5.2M1197.9 1001.2h5.2M1200.5 998.6v5.2M1200.9 996.5h5.2M1203.5 993.9v5.2M1203.8 992.1h5.2M1206.4 989.5v5.2M1206.8 988.9h5.2M1209.4 986.3v5.2M1209.7 985.7h5.2M1212.3 983.1v5.2M1212.7 983.9h5.2M1215.3 981.3v5.2M1215.6 987.9h5.2M1218.2 985.3v5.2M1218.6 994.2h5.2M1221.2 991.6v5.2M1221.5 999.3h5.2M1224.1 996.7v5.2M1224.5 1002.3h5.2M1227.1 999.7v5.2M1227.4 1004.7h5.2M1230 1002.1v5.2M1230.4 1009.8h5.2M1233 1007.2v5.2M1233.3 1010.5h5.2M1235.9 1007.9v5.2M1236.3 1008.9h5.2M1238.9 1006.3v5.2M1239.2 1007.1h5.2M1241.8 1004.5v5.2M1242.2 1005.1h5.2M1244.8 1002.5v5.2M1245.1 1002.1h5.2M1247.7 999.5v5.2M1248.1 998.5h5.2M1250.7 995.9v5.2M1251 994.9h5.2M1253.6 992.3v5.2M1254 990.8h5.2M1256.6 988.2v5.2M1256.9 987.9h5.2M1259.5 985.3v5.2M1259.9 985h5.2M1262.5 982.4v5.2M1262.8 981.6h5.2M1265.4 979v5.2M1265.8 977.7h5.2M1268.4 975.1v5.2M1268.7 973.7h5.2M1271.3 971.1v5.2M1271.7 969.5h5.2M1274.3 966.9v5.2M1274.6 964.4h5.2M1277.2 961.8v5.2M1277.6 959.4h5.2M1280.2 956.8v5.2M1280.5 954.3h5.2M1283.1 951.7v5.2M1283.5 949.2h5.2M1286.1 946.6v5.2M1286.4 943.9h5.2M1289 941.3v5.2M1289.4 938.9h5.2M1292 936.3v5.2M1292.3 933.6h5.2M1294.9 931v5.2M1295.3 928.4h5.2M1297.9 925.8v5.2M1298.2 923.4h5.2M1300.8 920.8v5.2M1301.2 918.3h5.2M1303.8 915.7v5.2M1304.1 913.9h5.2M1306.7 911.3v5.2M1307.1 909.8h5.2M1309.7 907.2v5.2M1310 905.1h5.2M1312.6 902.5v5.2M1313 900.2h5.2M1315.6 897.6v5.2M1315.9 895.8h5.2M1318.5 893.2v5.2M1318.9 891.8h5.2M1321.5 889.2v5.2M1321.8 887.9h5.2M1324.4 885.3v5.2M1324.8 885.1h5.2M1327.4 882.5v5.2M1327.7 884.2h5.2M1330.3 881.6v5.2M1330.7 882.1h5.2M1333.3 879.5v5.2M1333.6 879.5h5.2M1336.2 876.9v5.2M1336.6 875.3h5.2M1339.2 872.7v5.2M1339.5 871.4h5.2M1342.1 868.8v5.2M1342.5 865.4h5.2M1345.1 862.8v5.2M1345.4 860.7h5.2M1348 858.1v5.2M1348.4 856.7h5.2M1351 854.1v5.2M1351.3 854.2h5.2M1353.9 851.6v5.2M1354.3 851.5h5.2M1356.9 848.9v5.2M1357.2 851.3h5.2M1359.8 848.7v5.2M1360.2 852.4h5.2M1362.8 849.8v5.2M1363.1 854.4h5.2M1365.7 851.8v5.2M1366.1 857.7h5.2M1368.7 855.1v5.2M1369 863.5h5.2M1371.6 860.9v5.2M1372 867.9h5.2M1374.6 865.3v5.2M1374.9 870.8h5.2M1377.5 868.2v5.2M1377.9 872.5h5.2M1380.5 869.9v5.2M1380.8 872.5h5.2M1383.4 869.9v5.2M1383.8 870.6h5.2M1386.4 868v5.2M1386.7 867.8h5.2M1389.3 865.2v5.2M1389.7 863.9h5.2M1392.3 861.3v5.2M1392.6 860.4h5.2M1395.2 857.8v5.2M1395.6 856.9h5.2M1398.2 854.3v5.2M1398.5 853h5.2M1401.1 850.4v5.2M1401.5 848.5h5.2M1404.1 845.9v5.2M1404.4 843.8h5.2M1407 841.2v5.2M1407.4 840.2h5.2M1410 837.6v5.2M1410.3 837.3h5.2M1412.9 834.7v5.2M1413.3 834.5h5.2M1415.9 831.9v5.2M1416.2 831.3h5.2M1418.8 828.7v5.2M1419.2 832.1h5.2M1421.8 829.5v5.2M1422.1 833.6h5.2M1424.7 831v5.2M1425.1 833.4h5.2M1427.7 830.8v5.2M1428 836.4h5.2M1430.6 833.8v5.2M1431 838.5h5.2M1433.6 835.9v5.2M1433.9 839h5.2M1436.5 836.4v5.2M1436.9 840.1h5.2M1439.5 837.5v5.2M1439.8 840.8h5.2M1442.4 838.2v5.2M1442.8 840h5.2M1445.4 837.4v5.2M1445.7 837.2h5.2M1448.3 834.6v5.2M1448.7 836h5.2M1451.3 833.4v5.2M1451.6 838.1h5.2M1454.2 835.5v5.2M1454.6 842.2h5.2M1457.2 839.6v5.2M1457.5 846h5.2M1460.1 843.4v5.2M1460.5 849.1h5.2M1463.1 846.5v5.2M1463.4 851h5.2M1466 848.4v5.2M1466.4 852.5h5.2M1469 849.9v5.2M1469.3 857.2h5.2M1471.9 854.6v5.2M1472.3 860.6h5.2M1474.9 858v5.2M1475.2 862.8h5.2M1477.8 860.2v5.2M1478.2 863.9h5.2M1480.8 861.3v5.2M1481.1 862h5.2M1483.7 859.4v5.2M1484.1 858.5h5.2M1486.7 855.9v5.2M1487 855h5.2M1489.6 852.4v5.2M1490 854.7h5.2M1492.6 852.1v5.2M1492.9 854.4h5.2M1495.5 851.8v5.2M1495.9 853.6h5.2M1498.5 851v5.2M1498.8 858.6h5.2M1501.4 856v5.2M1501.8 864.9h5.2M1504.4 862.3v5.2M1504.7 871.5h5.2M1507.3 868.9v5.2M1507.7 876.2h5.2M1510.3 873.6v5.2M1510.6 878.5h5.2M1513.2 875.9v5.2M1513.6 880.1h5.2M1516.2 877.5v5.2M1516.5 881.2h5.2M1519.1 878.6v5.2M1519.5 880.1h5.2M1522.1 877.5v5.2M1522.4 877.9h5.2M1525 875.3v5.2M1525.4 875.1h5.2M1528 872.5v5.2M1528.3 871.7h5.2M1530.9 869.1v5.2M1531.3 867h5.2M1533.9 864.4v5.2M1534.2 864.6h5.2M1536.8 862v5.2M1537.2 863.9h5.2M1539.8 861.3v5.2M1540.1 864.6h5.2M1542.7 862v5.2M1543.1 866.7h5.2M1545.7 864.1v5.2M1546 867.5h5.2M1548.6 864.9v5.2M1549 870.8h5.2M1551.6 868.2v5.2M1552 874.9h5.2M1554.6 872.3v5.2M1554.9 877.8h5.2M1557.5 875.2v5.2M1557.9 880.2h5.2M1560.5 877.6v5.2M1560.8 883.5h5.2M1563.4 880.9v5.2M1563.8 886.7h5.2M1566.4 884.1v5.2M1566.7 889.7h5.2M1569.3 887.1v5.2M1569.7 894.5h5.2M1572.3 891.9v5.2M1572.6 903.3h5.2M1575.2 900.7v5.2M1575.6 915.7h5.2M1578.2 913.1v5.2M1578.5 928h5.2M1581.1 925.4v5.2M1581.5 937.4h5.2M1584.1 934.8v5.2M1584.4 944h5.2M1587 941.4v5.2M1587.4 947.4h5.2M1590 944.8v5.2M1590.3 949.1h5.2M1592.9 946.5v5.2M1593.3 954.8h5.2M1595.9 952.2v5.2M1596.2 963.4h5.2M1598.8 960.8v5.2M1599.2 977.8h5.2M1601.8 975.2v5.2M1602.1 991.3h5.2M1604.7 988.7v5.2M1605.1 1005.7h5.2M1607.7 1003.1v5.2M1608 1022.6h5.2M1610.6 1020v5.2M1611 1039h5.2M1613.6 1036.4v5.2M1613.9 1051.5h5.2M1616.5 1048.9v5.2M1616.9 1061.9h5.2M1619.5 1059.3v5.2M1619.8 1069.6h5.2M1622.4 1067v5.2M1622.8 1075.8h5.2M1625.4 1073.2v5.2M1625.7 1086.2h5.2M1628.3 1083.6v5.2M1628.7 1098.2h5.2M1631.3 1095.6v5.2M1631.6 1111.3h5.2M1634.2 1108.7v5.2M1634.6 1126.3h5.2M1637.2 1123.7v5.2M1637.5 1138.9h5.2M1640.1 1136.3v5.2M1640.5 1151.1h5.2M1643.1 1148.5v5.2M1643.4 1160.5h5.2M1646 1157.9v5.2M1646.4 1169.7h5.2M1649 1167.1v5.2M1649.3 1179.5h5.2M1651.9 1176.9v5.2M1652.3 1189.2h5.2M1654.9 1186.6v5.2M1655.2 1198.8h5.2M1657.8 1196.2v5.2M1658.2 1208.1h5.2M1660.8 1205.5v5.2M1661.1 1216.8h5.2M1663.7 1214.2v5.2M1664.1 1224.1h5.2M1666.7 1221.5v5.2M1667 1230.2h5.2M1669.6 1227.6v5.2M1670 1235.2h5.2M1672.6 1232.6v5.2M1672.9 1239h5.2M1675.5 1236.4v5.2M1675.9 1242h5.2M1678.5 1239.4v5.2M1678.8 1244.1h5.2M1681.4 1241.5v5.2M1681.8 1246.4h5.2M1684.4 1243.8v5.2M1684.7 1248.5h5.2M1687.3 1245.9v5.2M1687.7 1249.7h5.2M1690.3 1247.1v5.2M1690.6 1249.7h5.2M1693.2 1247.1v5.2M1693.6 1248.9h5.2M1696.2 1246.3v5.2M1696.5 1247.2h5.2M1699.1 1244.6v5.2M1699.5 1244.9h5.2M1702.1 1242.3v5.2M1702.4 1243.1h5.2M1705 1240.5v5.2M1705.4 1240.7h5.2M1708 1238.1v5.2M1708.3 1239.1h5.2M1710.9 1236.5v5.2M1711.3 1236.3h5.2M1713.9 1233.7v5.2M1714.2 1232.9h5.2M1716.8 1230.3v5.2M1717.2 1228.8h5.2M1719.8 1226.2v5.2M1720.1 1223.8h5.2M1722.7 1221.2v5.2M1723.1 1219.9h5.2M1725.7 1217.3v5.2M1726 1217.4h5.2M1728.6 1214.8v5.2M1729 1216.5h5.2M1731.6 1213.9v5.2M1731.9 1215.8h5.2M1734.5 1213.2v5.2M1734.9 1217.1h5.2M1737.5 1214.5v5.2M1737.8 1218.4h5.2M1740.4 1215.8v5.2M1740.8 1220.4h5.2M1743.4 1217.8v5.2M1743.7 1222.2h5.2M1746.3 1219.6v5.2M1746.7 1223.5h5.2M1749.3 1220.9v5.2M1749.6 1225.1h5.2M1752.2 1222.5v5.2M1752.6 1226.8h5.2M1755.2 1224.2v5.2M1755.5 1228.3h5.2M1758.1 1225.7v5.2M1758.5 1229.9h5.2M1761.1 1227.3v5.2M1761.4 1232.5h5.2M1764 1229.9v5.2M1764.4 1235h5.2M1767 1232.4v5.2M1767.3 1238.1h5.2M1769.9 1235.5v5.2M1770.3 1240.7h5.2M1772.9 1238.1v5.2M1773.2 1243.5h5.2M1775.8 1240.9v5.2M1776.2 1246.9h5.2M1778.8 1244.3v5.2M1779.1 1249.2h5.2M1781.7 1246.6v5.2M1782.1 1251.5h5.2M1784.7 1248.9v5.2M1785 1253h5.2M1787.6 1250.4v5.2M1788 1254.8h5.2M1790.6 1252.2v5.2M1790.9 1256.4h5.2M1793.5 1253.8v5.2M1793.9 1258h5.2M1796.5 1255.4v5.2M1796.8 1260.4h5.2M1799.4 1257.8v5.2M1799.8 1263.4h5.2M1802.4 1260.8v5.2M1802.7 1264.7h5.2M1805.3 1262.1v5.2M1805.7 1267.3h5.2M1808.3 1264.7v5.2M1808.6 1270.1h5.2M1811.2 1267.5v5.2M1811.6 1272.4h5.2M1814.2 1269.8v5.2M1814.5 1275.3h5.2M1817.1 1272.7v5.2M1817.5 1277.7h5.2M1820.1 1275.1v5.2M1820.4 1280.6h5.2M1823 1278v5.2M1823.4 1283h5.2M1826 1280.4v5.2M1826.3 1286.1h5.2M1828.9 1283.5v5.2M1829.3 1288.6h5.2M1831.9 1286v5.2M1832.2 1292.2h5.2M1834.8 1289.6v5.2M1835.2 1295.5h5.2M1837.8 1292.9v5.2M1838.1 1299.6h5.2M1840.7 1297v5.2M1841.1 1304.4h5.2M1843.7 1301.8v5.2M1844 1308.3h5.2M1846.6 1305.7v5.2M1847 1311.2h5.2M1849.6 1308.6v5.2M1849.9 1314h5.2M1852.5 1311.4v5.2M1852.9 1316.4h5.2M1855.5 1313.8v5.2M1855.8 1318.3h5.2M1858.4 1315.7v5.2M1858.8 1320.4h5.2M1861.4 1317.8v5.2M1861.7 1322.5h5.2M1864.3 1319.9v5.2M1864.7 1323.9h5.2M1867.3 1321.3v5.2M1867.6 1325.3h5.2M1870.2 1322.7v5.2M1870.6 1325.8h5.2M1873.2 1323.2v5.2M1873.5 1326.5h5.2M1876.1 1323.9v5.2M1876.5 1326.4h5.2M1879.1 1323.8v5.2M1879.4 1326.2h5.2M1882 1323.6v5.2M1882.4 1326.3h5.2M1885 1323.7v5.2M1885.3 1325.8h5.2M1887.9 1323.2v5.2M1888.3 1325.3h5.2M1890.9 1322.7v5.2M1891.2 1324.2h5.2M1893.8 1321.6v5.2M1894.2 1323.2h5.2M1896.8 1320.6v5.2M1897.1 1322.3h5.2M1899.7 1319.7v5.2M1900.1 1322.3h5.2M1902.7 1319.7v5.2M1903 1322.5h5.2M1905.6 1319.9v5.2M1906 1322.2h5.2M1908.6 1319.6v5.2M1908.9 1321.9h5.2M1911.5 1319.3v5.2M1911.9 1321.1h5.2M1914.5 1318.5v5.2M1914.8 1320.5h5.2M1917.4 1317.9v5.2M1917.8 1319.7h5.2M1920.4 1317.1v5.2M1920.7 1319.1h5.2M1923.3 1316.5v5.2M1923.7 1318.2h5.2M1926.3 1315.6v5.2M1926.6 1317.3h5.2M1929.2 1314.7v5.2M1929.6 1316.8h5.2M1932.2 1314.2v5.2M1932.5 1316.6h5.2M1935.1 1314v5.2M1935.5 1317h5.2M1938.1 1314.4v5.2M1938.4 1317.3h5.2M1941 1314.7v5.2M1941.4 1316.8h5.2M1944 1314.2v5.2M1944.3 1316.7h5.2M1946.9 1314.1v5.2M1947.3 1317h5.2M1949.9 1314.4v5.2M1950.2 1316.5h5.2M1952.8 1313.9v5.2M1953.2 1315.6h5.2M1955.8 1313v5.2M1956.1 1314.3h5.2M1958.7 1311.7v5.2M1959.1 1313.4h5.2M1961.7 1310.8v5.2M1962 1311.4h5.2M1964.6 1308.8v5.2M1965 1309.8h5.2M1967.6 1307.2v5.2M1967.9 1308.3h5.2M1970.5 1305.7v5.2M1970.9 1307.4h5.2M1973.5 1304.8v5.2M1973.8 1306.1h5.2M1976.4 1303.5v5.2M1976.8 1304.4h5.2M1979.4 1301.8v5.2M1979.7 1302.5h5.2M1982.3 1299.9v5.2M1982.7 1301.1h5.2M1985.3 1298.5v5.2M1985.6 1300.2h5.2M1988.2 1297.6v5.2M1988.6 1299.6h5.2M1991.2 1297v5.2M1991.5 1298.7h5.2M1994.1 1296.1v5.2M1994.5 1298h5.2M1997.1 1295.4v5.2M1997.4 1297.4h5.2M2000 1294.8v5.2M2000.4 1296.3h5.2M2003 1293.7v5.2M2003.3 1294.8h5.2M2005.9 1292.2v5.2M2006.3 1293.2h5.2M2008.9 1290.6v5.2M2009.2 1290.9h5.2M2011.8 1288.3v5.2M2012.2 1289.2h5.2M2014.8 1286.6v5.2M2015.1 1287h5.2M2017.7 1284.4v5.2M2018.1 1284.4h5.2M2020.7 1281.8v5.2M2021 1281.5h5.2M2023.6 1278.9v5.2M2024 1279h5.2M2026.6 1276.4v5.2M2026.9 1277h5.2M2029.5 1274.4v5.2M2029.9 1275.6h5.2M2032.5 1273v5.2M2032.8 1273.8h5.2M2035.4 1271.2v5.2M2035.8 1272h5.2M2038.4 1269.4v5.2M2038.8 1269.9h5.2M2041.4 1267.3v5.2M2041.7 1268.8h5.2M2044.3 1266.2v5.2M2044.7 1267.7h5.2M2047.3 1265.1v5.2M2047.6 1266.7h5.2M2050.2 1264.1v5.2M2050.6 1264.8h5.2M2053.2 1262.2v5.2M2053.5 1262.6h5.2M2056.1 1260v5.2M2056.5 1260.4h5.2M2059.1 1257.8v5.2M2059.4 1258.3h5.2M2062 1255.7v5.2M2062.4 1255.4h5.2M2065 1252.8v5.2M2065.3 1253h5.2M2067.9 1250.4v5.2M2068.3 1250.3h5.2M2070.9 1247.7v5.2M2071.2 1248.4h5.2M2073.8 1245.8v5.2M2074.2 1248h5.2M2076.8 1245.4v5.2M2077.1 1248.9h5.2M2079.7 1246.3v5.2M2080.1 1249.6h5.2M2082.7 1247v5.2M2083 1249.8h5.2M2085.6 1247.2v5.2M2086 1249.6h5.2M2088.6 1247v5.2M2088.9 1249.1h5.2M2091.5 1246.5v5.2M2091.9 1246.9h5.2M2094.5 1244.3v5.2M2094.8 1246h5.2M2097.4 1243.4v5.2M2097.8 1245.5h5.2M2100.4 1242.9v5.2M2100.7 1244.8h5.2M2103.3 1242.2v5.2M2103.7 1245h5.2M2106.3 1242.4v5.2M2106.6 1244.1h5.2M2109.2 1241.5v5.2M2109.6 1243.2h5.2M2112.2 1240.6v5.2M2112.5 1241.7h5.2M2115.1 1239.1v5.2M2115.5 1242.4h5.2M2118.1 1239.8v5.2M2118.4 1245.6h5.2M2121 1243v5.2M2121.4 1249.6h5.2M2124 1247v5.2M2124.3 1251.4h5.2M2126.9 1248.8v5.2M2127.3 1252.5h5.2M2129.9 1249.9v5.2M2130.2 1252.6h5.2M2132.8 1250v5.2M2133.2 1252.7h5.2M2135.8 1250.1v5.2M2136.1 1253.2h5.2M2138.7 1250.6v5.2M2139.1 1253.8h5.2M2141.7 1251.2v5.2M2142 1252.9h5.2M2144.6 1250.3v5.2M2145 1252.1h5.2M2147.6 1249.5v5.2M2147.9 1250.2h5.2M2150.5 1247.6v5.2M2150.9 1249.2h5.2M2153.5 1246.6v5.2M2153.8 1248.9h5.2M2156.4 1246.3v5.2M2156.8 1247.4h5.2M2159.4 1244.8v5.2M2159.7 1245.4h5.2M2162.3 1242.8v5.2M2162.7 1243.8h5.2M2165.3 1241.2v5.2M2165.6 1241.3h5.2M2168.2 1238.7v5.2M2168.6 1237.7h5.2M2171.2 1235.1v5.2M2171.5 1233.4h5.2M2174.1 1230.8v5.2M2174.5 1228.5h5.2M2177.1 1225.9v5.2M2177.4 1225h5.2M2180 1222.4v5.2M2180.4 1220.5h5.2M2183 1217.9v5.2M2183.3 1217h5.2M2185.9 1214.4v5.2M2186.3 1214.1h5.2M2188.9 1211.5v5.2M2189.2 1211.8h5.2M2191.8 1209.2v5.2M2192.2 1210.2h5.2M2194.8 1207.6v5.2M2195.1 1209.8h5.2M2197.7 1207.2v5.2M2198.1 1209.7h5.2M2200.7 1207.1v5.2M2201 1209.1h5.2M2203.6 1206.5v5.2M2204 1206.1h5.2M2206.6 1203.5v5.2M2206.9 1204.2h5.2M2209.5 1201.6v5.2M2209.9 1199.4h5.2M2212.5 1196.8v5.2M2212.8 1194.8h5.2M2215.4 1192.2v5.2M2215.8 1194.4h5.2M2218.4 1191.8v5.2M2218.7 1196.9h5.2M2221.3 1194.3v5.2M2221.7 1200.5h5.2M2224.3 1197.9v5.2M2224.6 1201h5.2M2227.2 1198.4v5.2M2227.6 1200.8h5.2M2230.2 1198.2v5.2M2230.5 1200.1h5.2M2233.1 1197.5v5.2M2233.5 1197.5h5.2M2236.1 1194.9v5.2M2236.4 1194.2h5.2M2239 1191.6v5.2M2239.4 1190.1h5.2M2242 1187.5v5.2M2242.3 1186.6h5.2M2244.9 1184v5.2M2245.3 1184.7h5.2M2247.9 1182.1v5.2M2248.2 1181.9h5.2M2250.8 1179.3v5.2M2251.2 1178.6h5.2M2253.8 1176v5.2M2254.1 1175.5h5.2M2256.7 1172.9v5.2M2257.1 1173.8h5.2M2259.7 1171.2v5.2M2260 1171.8h5.2M2262.6 1169.2v5.2M2263 1170.2h5.2M2265.6 1167.6v5.2M2265.9 1167.1h5.2M2268.5 1164.5v5.2M2268.9 1163.8h5.2M2271.5 1161.2v5.2M2271.8 1160.1h5.2M2274.4 1157.5v5.2M2274.8 1157.1h5.2M2277.4 1154.5v5.2M2277.7 1154.5h5.2M2280.3 1151.9v5.2M2280.7 1151.4h5.2M2283.3 1148.8v5.2M2283.6 1148.7h5.2M2286.2 1146.1v5.2M2286.6 1146.2h5.2M2289.2 1143.6v5.2M2289.5 1144.3h5.2M2292.1 1141.7v5.2M2292.5 1141.9h5.2M2295.1 1139.3v5.2M2295.4 1139.2h5.2M2298 1136.6v5.2M2298.4 1136.2h5.2M2301 1133.6v5.2M2301.3 1132.1h5.2M2303.9 1129.5v5.2M2304.3 1128.8h5.2M2306.9 1126.2v5.2M2307.2 1125.2h5.2M2309.8 1122.6v5.2M2310.2 1123.7h5.2M2312.8 1121.1v5.2M2313.1 1123.3h5.2M2315.7 1120.7v5.2M2316.1 1123.8h5.2M2318.7 1121.2v5.2M2319 1124.7h5.2M2321.6 1122.1v5.2M2322 1124.8h5.2M2324.6 1122.2v5.2M2324.9 1123.9h5.2M2327.5 1121.3v5.2M2327.9 1122h5.2M2330.5 1119.4v5.2M2330.8 1120.6h5.2M2333.4 1118v5.2M2333.8 1119.4h5.2M2336.4 1116.8v5.2M2336.7 1119.6h5.2M2339.3 1117v5.2M2339.7 1120h5.2M2342.3 1117.4v5.2M2342.6 1120.9h5.2M2345.2 1118.3v5.2M2345.6 1122.3h5.2M2348.2 1119.7v5.2M2348.5 1123.2h5.2M2351.1 1120.6v5.2M2351.5 1124.2h5.2M2354.1 1121.6v5.2M2354.4 1124.7h5.2M2357 1122.1v5.2M2357.4 1124.8h5.2M2360 1122.2v5.2M2360.3 1124.7h5.2M2362.9 1122.1v5.2M2363.3 1124.8h5.2M2365.9 1122.2v5.2M2366.2 1125.3h5.2M2368.8 1122.7v5.2M2369.2 1125.1h5.2M2371.8 1122.5v5.2M2372.1 1124.4h5.2M2374.7 1121.8v5.2M2375.1 1123.8h5.2M2377.7 1121.2v5.2M2378 1122.2h5.2M2380.6 1119.6v5.2M2381 1119.9h5.2M2383.6 1117.3v5.2M2383.9 1116.6h5.2M2386.5 1114v5.2M2386.9 1114h5.2M2389.5 1111.4v5.2M2389.8 1110.8h5.2M2392.4 1108.2v5.2M2392.8 1107.3h5.2M2395.4 1104.7v5.2M2395.7 1103.1h5.2M2398.3 1100.5v5.2M2398.7 1098.6h5.2M2401.3 1096v5.2M2401.6 1094.4h5.2M2404.2 1091.8v5.2M2404.6 1090.2h5.2M2407.2 1087.6v5.2M2407.5 1085.9h5.2M2410.1 1083.3v5.2M2410.5 1081.4h5.2M2413.1 1078.8v5.2M2413.4 1076.8h5.2M2416 1074.2v5.2M2416.4 1072.8h5.2M2419 1070.2v5.2M2419.3 1068.6h5.2M2421.9 1066v5.2M2422.3 1063.4h5.2M2424.9 1060.8v5.2M2425.2 1060.3h5.2M2427.8 1057.7v5.2M2428.2 1057h5.2M2430.8 1054.4v5.2M2431.1 1052.8h5.2M2433.7 1050.2v5.2M2434.1 1046.9h5.2M2436.7 1044.3v5.2M2437 1039.7h5.2M2439.6 1037.1v5.2M2440 1031.3h5.2M2442.6 1028.7v5.2M2442.9 1022.2h5.2M2445.5 1019.6v5.2M2445.9 1009.8h5.2M2448.5 1007.2v5.2M2448.8 999.8h5.2M2451.4 997.2v5.2M2451.8 989.1h5.2M2454.4 986.5v5.2M2454.7 977.5h5.2M2457.3 974.9v5.2M2457.7 963.2h5.2M2460.3 960.6v5.2M2460.6 944.6h5.2M2463.2 942v5.2M2463.6 928.7h5.2M2466.2 926.1v5.2M2466.5 915.2h5.2M2469.1 912.6v5.2M2469.5 901h5.2M2472.1 898.4v5.2M2472.4 883.7h5.2M2475 881.1v5.2M2475.4 864.3h5.2M2478 861.7v5.2M2478.3 844.2h5.2M2480.9 841.6v5.2M2481.3 822.9h5.2M2483.9 820.3v5.2M2484.2 802.4h5.2M2486.8 799.8v5.2M2487.2 784.4h5.2M2489.8 781.8v5.2M2490.1 766.8h5.2M2492.7 764.2v5.2M2493.1 748.7h5.2M2495.7 746.1v5.2M2496 732.2h5.2M2498.6 729.6v5.2M2499 722.3h5.2M2501.6 719.7v5.2M2501.9 715.4h5.2M2504.5 712.8v5.2M2504.9 703.6h5.2M2507.5 701v5.2M2507.8 689h5.2M2510.4 686.4v5.2M2510.8 671h5.2M2513.4 668.4v5.2M2513.7 651.2h5.2M2516.3 648.6v5.2M2516.7 631.5h5.2M2519.3 628.9v5.2M2519.6 612.2h5.2M2522.2 609.6v5.2M2522.6 591.3h5.2M2525.2 588.7v5.2M2525.5 567.3h5.2M2528.1 564.7v5.2M2528.5 539h5.2M2531.1 536.4v5.2M2531.5 516h5.2M2534.1 513.4v5.2M2534.4 494.1h5.2M2537 491.5v5.2M2537.4 493.4h5.2M2540 490.8v5.2M2540.3 485.9h5.2M2542.9 483.3v5.2M2543.3 471.7h5.2M2545.9 469.1v5.2M2546.2 456h5.2M2548.8 453.4v5.2M2549.2 444.3h5.2M2551.8 441.7v5.2M2552.1 440.1h5.2M2554.7 437.5v5.2M2555.1 424.3h5.2M2557.7 421.7v5.2M2558 408.4h5.2M2560.6 405.8v5.2M2561 394.9h5.2M2563.6 392.3v5.2M2563.9 386.9h5.2M2566.5 384.3v5.2M2566.9 375.6h5.2M2569.5 373v5.2M2569.8 362.1h5.2M2572.4 359.5v5.2M2572.8 351.6h5.2M2575.4 349v5.2M2575.7 340.3h5.2M2578.3 337.7v5.2M2578.7 337h5.2M2581.3 334.4v5.2M2581.6 336.8h5.2M2584.2 334.2v5.2M2584.6 332.9h5.2M2587.2 330.3v5.2M2587.5 338.4h5.2M2590.1 335.8v5.2M2590.5 346.4h5.2M2593.1 343.8v5.2M2593.4 349.1h5.2M2596 346.5v5.2M2596.4 352.7h5.2M2599 350.1v5.2M2599.3 358.8h5.2M2601.9 356.2v5.2M2602.3 364.5h5.2M2604.9 361.9v5.2M2605.2 378.4h5.2M2607.8 375.8v5.2M2608.2 401.1h5.2M2610.8 398.5v5.2M2611.1 418h5.2M2613.7 415.4v5.2M2614.1 428.8h5.2M2616.7 426.2v5.2M2617 437.9h5.2M2619.6 435.3v5.2M2620 447h5.2M2622.6 444.4v5.2M2622.9 459.6h5.2M2625.5 457v5.2M2625.9 471.6h5.2M2628.5 469v5.2M2628.8 487.2h5.2M2631.4 484.6v5.2M2631.8 504.1h5.2M2634.4 501.5v5.2M2634.7 523h5.2M2637.3 520.4v5.2M2637.7 542.1h5.2M2640.3 539.5v5.2M2640.6 566.1h5.2M2643.2 563.5v5.2M2643.6 592.4h5.2M2646.2 589.8v5.2M2646.5 612.3h5.2M2649.1 609.7v5.2M2649.5 625.7h5.2M2652.1 623.1v5.2M2652.4 646.8h5.2M2655 644.2v5.2M2655.4 669.5h5.2M2658 666.9v5.2M2658.3 690.7h5.2M2660.9 688.1v5.2M2661.3 707.4h5.2M2663.9 704.8v5.2M2664.2 717.1h5.2M2666.8 714.5v5.2M2667.2 726h5.2M2669.8 723.4v5.2M2670.1 733.4h5.2M2672.7 730.8v5.2M2673.1 737.7h5.2M2675.7 735.1v5.2M2676 743.6h5.2M2678.6 741v5.2M2679 751.1h5.2M2681.6 748.5v5.2M2681.9 756.9h5.2M2684.5 754.3v5.2M2684.9 763h5.2M2687.5 760.4v5.2M2687.8 768.8h5.2M2690.4 766.2v5.2M2690.8 771.9h5.2M2693.4 769.3v5.2M2693.7 772.4h5.2M2696.3 769.8v5.2M2696.7 774.4h5.2M2699.3 771.8v5.2M2699.6 776.7h5.2M2702.2 774.1v5.2M2702.6 776.6h5.2M2705.2 774v5.2M2705.5 777.1h5.2M2708.1 774.5v5.2M2708.5 779.2h5.2M2711.1 776.6v5.2M2711.4 782.6h5.2M2714 780v5.2M2714.4 786.1h5.2M2717 783.5v5.2M2717.3 789.9h5.2M2719.9 787.3v5.2M2720.3 791.8h5.2M2722.9 789.2v5.2M2723.2 792.3h5.2M2725.8 789.7v5.2M2726.2 792.1h5.2M2728.8 789.5v5.2M2729.1 792.1h5.2M2731.7 789.5v5.2M2732.1 793.6h5.2M2734.7 791v5.2M2735 795.9h5.2M2737.6 793.3v5.2M2738 796.6h5.2M2740.6 794v5.2M2740.9 795.4h5.2M2743.5 792.8v5.2M2743.9 794.5h5.2M2746.5 791.9v5.2M2746.8 792.6h5.2M2749.4 790v5.2M2749.8 793.1h5.2M2752.4 790.5v5.2M2752.7 796.5h5.2M2755.3 793.9v5.2M2755.7 800.8h5.2M2758.3 798.2v5.2M2758.6 806.6h5.2M2761.2 804v5.2M2761.6 814.7h5.2M2764.2 812.1v5.2M2764.5 823.4h5.2M2767.1 820.8v5.2M2767.5 832.9h5.2M2770.1 830.3v5.2M2770.4 844.5h5.2M2773 841.9v5.2M2773.4 856.4h5.2M2776 853.8v5.2M2776.3 866.3h5.2M2778.9 863.7v5.2M2779.3 873.4h5.2M2781.9 870.8v5.2M2782.2 879.5h5.2M2784.8 876.9v5.2M2785.2 882h5.2M2787.8 879.4v5.2M2788.1 883.3h5.2M2790.7 880.7v5.2M2791.1 887.4h5.2M2793.7 884.8v5.2M2794 889.7h5.2M2796.6 887.1v5.2M2797 890.6h5.2M2799.6 888v5.2M2799.9 895.1h5.2M2802.5 892.5v5.2M2802.9 898.7h5.2M2805.5 896.1v5.2M2805.8 900.8h5.2M2808.4 898.2v5.2M2808.8 901.3h5.2M2811.4 898.7v5.2M2811.7 900.2h5.2M2814.3 897.6v5.2M2814.7 900.6h5.2M2817.3 898v5.2M2817.6 903.3h5.2M2820.2 900.7v5.2M2820.6 907.9h5.2M2823.2 905.3v5.2M2823.5 912.8h5.2M2826.1 910.2v5.2M2826.5 918.5h5.2M2829.1 915.9v5.2M2829.4 927.7h5.2M2832 925.1v5.2M2832.4 940.7h5.2M2835 938.1v5.2M2835.3 954.4h5.2M2837.9 951.8v5.2M2838.3 966.6h5.2M2840.9 964v5.2M2841.2 974.7h5.2M2843.8 972.1v5.2M2844.2 981.6h5.2M2846.8 979v5.2M2847.1 988.8h5.2M2849.7 986.2v5.2M2850.1 997.8h5.2M2852.7 995.2v5.2M2853 1003.5h5.2M2855.6 1000.9v5.2M2856 1007.3h5.2M2858.6 1004.7v5.2M2858.9 1015.6h5.2M2861.5 1013v5.2M2861.9 1028.1h5.2M2864.5 1025.5v5.2M2864.8 1040.4h5.2M2867.4 1037.8v5.2M2867.8 1054h5.2M2870.4 1051.4v5.2M2870.7 1068.4h5.2M2873.3 1065.8v5.2M2873.7 1081.5h5.2M2876.3 1078.9v5.2M2876.6 1091.2h5.2M2879.2 1088.6v5.2M2879.6 1099.2h5.2M2882.2 1096.6v5.2M2882.5 1106.1h5.2M2885.1 1103.5v5.2M2885.5 1111.5h5.2M2888.1 1108.9v5.2M2888.4 1115.6h5.2M2891 1113v5.2M2891.4 1119.8h5.2M2894 1117.2v5.2M2894.3 1124.1h5.2M2896.9 1121.5v5.2M2897.3 1128.8h5.2M2899.9 1126.2v5.2M2900.2 1133.2h5.2M2902.8 1130.6v5.2M2903.2 1136.7h5.2M2905.8 1134.1v5.2M2906.1 1139.9h5.2M2908.7 1137.3v5.2M2909.1 1142.3h5.2M2911.7 1139.7v5.2M2912 1144.2h5.2M2914.6 1141.6v5.2M2915 1147.7h5.2M2917.6 1145.1v5.2M2917.9 1152.3h5.2M2920.5 1149.7v5.2M2920.9 1156.7h5.2M2923.5 1154.1v5.2M2923.8 1159.8h5.2M2926.4 1157.2v5.2M2926.8 1163.4h5.2M2929.4 1160.8v5.2M2929.7 1166.9h5.2M2932.3 1164.3v5.2M2932.7 1169.8h5.2M2935.3 1167.2v5.2M2935.6 1172h5.2M2938.2 1169.4v5.2M2938.6 1172.9h5.2M2941.2 1170.3v5.2M2941.5 1173.1h5.2M2944.1 1170.5v5.2M2944.5 1174.4h5.2M2947.1 1171.8v5.2M2947.4 1176.4h5.2M2950 1173.8v5.2M2950.4 1178.1h5.2M2953 1175.5v5.2M2953.3 1180.1h5.2M2955.9 1177.5v5.2M2956.3 1183.2h5.2M2958.9 1180.6v5.2M2959.2 1188.5h5.2M2961.8 1185.9v5.2M2962.2 1193h5.2M2964.8 1190.4v5.2M2965.1 1196.3h5.2M2967.7 1193.7v5.2M2968.1 1199.5h5.2M2970.7 1196.9v5.2M2971 1201h5.2M2973.6 1198.4v5.2M2974 1202.5h5.2M2976.6 1199.9v5.2M2976.9 1203.5h5.2M2979.5 1200.9v5.2M2979.9 1203.7h5.2M2982.5 1201.1v5.2M2982.8 1203.7h5.2M2985.4 1201.1v5.2M2985.8 1203.4h5.2M2988.4 1200.8v5.2M2988.7 1203.3h5.2M2991.3 1200.7v5.2M2991.7 1203.3h5.2M2994.3 1200.7v5.2M2994.6 1202.8h5.2M2997.2 1200.2v5.2M2997.6 1202.6h5.2M3000.2 1200v5.2M3000.5 1202.9h5.2M3003.1 1200.3v5.2M3003.5 1203.2h5.2M3006.1 1200.6v5.2M3006.4 1202.8h5.2M3009 1200.2v5.2M3009.4 1201.7h5.2M3012 1199.1v5.2M3012.3 1199.9h5.2M3014.9 1197.3v5.2M3015.3 1197.3h5.2M3017.9 1194.7v5.2M3018.2 1192.4h5.2M3020.8 1189.8v5.2M3021.2 1187h5.2M3023.8 1184.4v5.2M3024.2 1179.9h5.2M3026.8 1177.3v5.2M3027.1 1172.5h5.2M3029.7 1169.9v5.2M3030.1 1167.6h5.2M3032.7 1165v5.2M3033 1163.2h5.2M3035.6 1160.6v5.2M3036 1157.4h5.2M3038.6 1154.8v5.2M3038.9 1150.6h5.2M3041.5 1148v5.2M3041.9 1142.4h5.2M3044.5 1139.8v5.2M3044.8 1135.1h5.2M3047.4 1132.5v5.2M3047.8 1129.7h5.2M3050.4 1127.1v5.2M3050.7 1125.4h5.2M3053.3 1122.8v5.2M3053.7 1121h5.2M3056.3 1118.4v5.2M3056.6 1115.8h5.2M3059.2 1113.2v5.2M3059.6 1110.8h5.2M3062.2 1108.2v5.2M3062.5 1106.1h5.2M3065.1 1103.5v5.2M3065.5 1101.3h5.2M3068.1 1098.7v5.2M3068.4 1096.4h5.2M3071 1093.8v5.2M3071.4 1090h5.2M3074 1087.4v5.2M3074.3 1082.8h5.2M3076.9 1080.2v5.2M3077.3 1075.7h5.2M3079.9 1073.1v5.2M3080.2 1070.9h5.2M3082.8 1068.3v5.2M3083.2 1065.7h5.2M3085.8 1063.1v5.2M3086.1 1060.1h5.2M3088.7 1057.5v5.2M3089.1 1055h5.2M3091.7 1052.4v5.2M3092 1050.4h5.2M3094.6 1047.8v5.2M3095 1046.1h5.2M3097.6 1043.5v5.2M3097.9 1039h5.2M3100.5 1036.4v5.2M3100.9 1035.4h5.2M3103.5 1032.8v5.2M3103.8 1033.6h5.2M3106.4 1031v5.2M3106.8 1030.2h5.2M3109.4 1027.6v5.2M3109.7 1023.9h5.2M3112.3 1021.3v5.2M3112.7 1018.7h5.2M3115.3 1016.1v5.2M3115.6 1017.2h5.2M3118.2 1014.6v5.2M3118.6 1020.2h5.2M3121.2 1017.6v5.2M3121.5 1020.4h5.2M3124.1 1017.8v5.2M3124.5 1022.4h5.2M3127.1 1019.8v5.2M3127.4 1022.8h5.2M3130 1020.2v5.2M3130.4 1024.1h5.2M3133 1021.5v5.2M3133.3 1025h5.2M3135.9 1022.4v5.2M3136.3 1025.3h5.2M3138.9 1022.7v5.2M3139.2 1025.2h5.2M3141.8 1022.6v5.2M3142.2 1024.8h5.2M3144.8 1022.2v5.2M3145.1 1020.8h5.2M3147.7 1018.2v5.2M3148.1 1016h5.2M3150.7 1013.4v5.2M3151 1012.6h5.2M3153.6 1010v5.2M3154 1008.9h5.2M3156.6 1006.3v5.2M3156.9 1006.1h5.2M3159.5 1003.5v5.2M3159.9 1004h5.2M3162.5 1001.4v5.2M3162.8 1001.1h5.2M3165.4 998.5v5.2M3165.8 997.9h5.2M3168.4 995.3v5.2M3168.7 995.1h5.2M3171.3 992.5v5.2M3171.7 993.3h5.2M3174.3 990.7v5.2M3174.6 991.1h5.2M3177.2 988.5v5.2M3177.6 987.7h5.2M3180.2 985.1v5.2M3180.5 983.3h5.2M3183.1 980.7v5.2M3183.5 978.9h5.2M3186.1 976.3v5.2M3186.4 975.5h5.2M3189 972.9v5.2M3189.4 972.7h5.2M3192 970.1v5.2M3192.3 971.5h5.2M3194.9 968.9v5.2M3195.3 970.5h5.2M3197.9 967.9v5.2M3198.2 967.1h5.2M3200.8 964.5v5.2M3201.2 962.2h5.2M3203.8 959.6v5.2M3204.1 955.3h5.2M3206.7 952.7v5.2M3207.1 946.3h5.2M3209.7 943.7v5.2M3210 937.8h5.2M3212.6 935.2v5.2M3213 934.2h5.2M3215.6 931.6v5.2M3215.9 931.6h5.2M3218.5 929v5.2M3218.9 934.4h5.2M3221.5 931.8v5.2M3221.8 935.4h5.2M3224.4 932.8v5.2M3224.8 934.7h5.2M3227.4 932.1v5.2M3227.7 933.3h5.2M3230.3 930.7v5.2M3230.7 930.6h5.2M3233.3 928v5.2M3233.6 929.5h5.2M3236.2 926.9v5.2M3236.6 929.5h5.2M3239.2 926.9v5.2M3239.5 930.5h5.2M3242.1 927.9v5.2M3242.5 934.1h5.2M3245.1 931.5v5.2M3245.4 936.4h5.2M3248 933.8v5.2M3248.4 938.2h5.2M3251 935.6v5.2M3251.3 937.1h5.2M3253.9 934.5v5.2M3254.3 935.8h5.2M3256.9 933.2v5.2M3257.2 936.8h5.2M3259.8 934.2v5.2M3260.2 941.6h5.2M3262.8 939v5.2M3263.1 950.7h5.2M3265.7 948.1v5.2M3266.1 956.2h5.2M3268.7 953.6v5.2M3269 961.1h5.2M3271.6 958.5v5.2M3272 964.8h5.2M3274.6 962.2v5.2M3274.9 970.6h5.2M3277.5 968v5.2M3277.9 973.8h5.2M3280.5 971.2v5.2M3280.8 975.7h5.2M3283.4 973.1v5.2M3283.8 977h5.2M3286.4 974.4v5.2M3286.7 975.7h5.2M3289.3 973.1v5.2M3289.7 974.2h5.2M3292.3 971.6v5.2M3292.6 972.1h5.2M3295.2 969.5v5.2M3295.6 967.1h5.2M3298.2 964.5v5.2M3298.5 959.8h5.2M3301.1 957.2v5.2M3301.5 952.5h5.2M3304.1 949.9v5.2M3304.4 948.5h5.2M3307 945.9v5.2M3307.4 940.3h5.2M3310 937.7v5.2M3310.3 933.1h5.2M3312.9 930.5v5.2M3313.3 925.5h5.2M3315.9 922.9v5.2M3316.2 917.8h5.2M3318.8 915.2v5.2M3319.2 910.3h5.2M3321.8 907.7v5.2M3322.1 902.9h5.2M3324.7 900.3v5.2M3325.1 895.4h5.2M3327.7 892.8v5.2M3328 890.3h5.2M3330.6 887.7v5.2M3331 890h5.2M3333.6 887.4v5.2M3333.9 890.1h5.2M3336.5 887.5v5.2M3336.9 889.8h5.2M3339.5 887.2v5.2M3339.8 890.5h5.2M3342.4 887.9v5.2M3342.8 894.3h5.2M3345.4 891.7v5.2M3345.7 894.8h5.2M3348.3 892.2v5.2M3348.7 894.5h5.2M3351.3 891.9v5.2M3351.6 893.4h5.2M3354.2 890.8v5.2M3354.6 896h5.2M3357.2 893.4v5.2M3357.5 894.6h5.2M3360.1 892v5.2M3360.5 898.2h5.2M3363.1 895.6v5.2M3363.4 901.1h5.2M3366 898.5v5.2M3366.4 903.1h5.2M3369 900.5v5.2M3369.3 907.1h5.2M3371.9 904.5v5.2M3372.3 910.3h5.2M3374.9 907.7v5.2M3375.2 911.7h5.2M3377.8 909.1v5.2M3378.2 910.2h5.2M3380.8 907.6v5.2M3381.1 908.6h5.2M3383.7 906v5.2M3384.1 906.4h5.2M3386.7 903.8v5.2M3387 905.1h5.2M3389.6 902.5v5.2M3390 906.8h5.2M3392.6 904.2v5.2M3392.9 907.3h5.2M3395.5 904.7v5.2M3395.9 906.6h5.2M3398.5 904v5.2M3398.8 903.7h5.2M3401.4 901.1v5.2M3401.8 898.9h5.2M3404.4 896.3v5.2M3404.7 896.5h5.2M3407.3 893.9v5.2M3407.7 897.4h5.2M3410.3 894.8v5.2M3410.6 898h5.2M3413.2 895.4v5.2M3413.6 896.7h5.2M3416.2 894.1v5.2M3416.5 896.6h5.2M3419.1 894v5.2M3419.5 897.3h5.2M3422.1 894.7v5.2M3422.4 899.4h5.2M3425 896.8v5.2M3425.4 902h5.2M3428 899.4v5.2M3428.3 902h5.2M3430.9 899.4v5.2M3431.3 901.2h5.2M3433.9 898.6v5.2M3434.2 902.8h5.2M3436.8 900.2v5.2M3437.2 906.2h5.2M3439.8 903.6v5.2M3440.1 915.1h5.2M3442.7 912.5v5.2M3443.1 925.1h5.2M3445.7 922.5v5.2M3446 932h5.2M3448.6 929.4v5.2M3449 936.5h5.2M3451.6 933.9v5.2M3451.9 939.8h5.2M3454.5 937.2v5.2M3454.9 944.1h5.2M3457.5 941.5v5.2M3457.8 950.3h5.2M3460.4 947.7v5.2M3460.8 956.2h5.2M3463.4 953.6v5.2" stroke="#ff9800" stroke-width="1.9" fill="none"/>
<path d="M1238.6 883.1Q1414.8 678.7 1593.5 883.1" fill="none" stroke="#e5405a" stroke-width="2.2"/>
<path d="M3138.8 913.2Q3315.5 708.4 3493.8 913.2" fill="none" stroke="#e5405a" stroke-width="2.2"/>
</g>
<path d="M169.5 1155.8L99.4 1123.9M127.8 1114.2L99.4 1123.9L110.3 1150.8" stroke="#000" stroke-width="3.8" fill="none" stroke-linecap="round" stroke-linejoin="round"/>
<path d="M1481.2 1099.3L1504.5 992.2M1481.2 1007L1504.5 992.2L1520.1 1015.6" stroke="#000" stroke-width="4.2" fill="none" stroke-linecap="round" stroke-linejoin="round"/>
<path d="M3342.2 1243.6L3435.2 1061M3406.6 1071.4L3435.2 1061L3443 1089.6" stroke="#000" stroke-width="4.2" fill="none" stroke-linecap="round" stroke-linejoin="round"/>
<text class="an" x="81" y="1058.4" font-size="35" fill="#e8384f" stroke="#e8384f" textLength="226" lengthAdjust="spacingAndGlyphs">Crash of '29</text>
<text class="an" x="193.6" y="1185" font-size="34" fill="#000" stroke="#000" textLength="221.5" lengthAdjust="spacingAndGlyphs">Last chance</text>
<text class="an" x="1288.3" y="1154.7" font-size="34" fill="#000" stroke="#000" textLength="220" lengthAdjust="spacingAndGlyphs">Last chance</text>
<text class="an" x="3158" y="778" font-size="35" fill="#e8384f" stroke="#e8384f" textLength="279" lengthAdjust="spacingAndGlyphs">SPX/Gold Ratio</text>
<text class="lg" x="36.5" y="93" font-size="24" textLength="956" lengthAdjust="spacing" xml:space="preserve" style="font-size:24px">SPX/GOLD · SPX/GOLD · 1M · SPCFD  O<tspan fill="#2a6a3e">1.73</tspan>  H<tspan fill="#2a6a3e">1.75</tspan>  L<tspan fill="#2a6a3e">1.72</tspan>  C<tspan fill="#2a6a3e">1.74</tspan>  <tspan fill="#2a6a3e">+0.01 (+0.33%)</tspan></text>
<text class="lg" x="36.5" y="126.7" xml:space="preserve">Vol  <tspan fill="#26a69a">9.41 B</tspan></text>
<text class="lg" x="36.5" y="160.7" textLength="254" lengthAdjust="spacing" xml:space="preserve">EMA (20, close)  <tspan fill="#ff9800">1.99</tspan></text>
<rect x="20" y="1526.6" width="3501.2" height="245.2" fill="#7e57c2" fill-opacity="0.13"/>
<path d="M20 1833.1H3521.2M20 1771.8H3521.2M20 1710.5H3521.2M20 1649.2H3521.2M20 1587.9H3521.2M20 1526.6H3521.2" stroke="#ccd0dd" stroke-width="2" fill="none"/>
<path d="M20 1526.6H3521.2M20 1771.8H3521.2" stroke="#646a67" stroke-width="1.9" stroke-dasharray="11.5 10.5" fill="none"/>
<path d="M20 1649.2H3521.2" stroke="#8a8d94" stroke-width="2" stroke-dasharray="11.5 10.5" fill="none"/>
<g clip-path="url(#cr70)"><polygon points="19.6,1526.6 19.6,1467.6 49.1,1467.6 60.4,1467.6 62.3,1497.8 63.4,1626.1 68,1677.1 73.6,1645 81.2,1611.8 85.7,1619.3 88,1688.4 93.6,1672.2 100,1731.8 102.7,1737.5 106.5,1752.6 109.5,1757.5 112.1,1718.6 116.3,1741.2 121.6,1773.3 124.6,1737.5 126.5,1746.9 129.9,1745 131.8,1784.7 135.9,1770.3 141.6,1790.3 147.6,1768.8 152.9,1789.2 155.9,1808.1 160.1,1808.1 162.3,1750.7 166.1,1706.5 169.9,1719.7 173.3,1733.7 177.8,1724.3 180.5,1748.8 183.9,1760.1 185.7,1754.5 188,1709.2 190.6,1686.5 194,1655.6 196.7,1670.7 199.7,1651.8 202.7,1667.6 205.7,1685.8 208.8,1668.4 211.8,1665.7 215.9,1694.1 220.8,1699 225.8,1709.2 227.6,1713.7 230.3,1709.2 233.7,1725 235.9,1714.8 238.6,1713.7 241.6,1719.7 243.9,1699.7 247.3,1700.5 249.2,1707.3 252.9,1712.9 256.3,1722.4 259.7,1692.2 264.3,1669.5 268,1638.6 271.8,1634.4 276.7,1604.2 279.4,1588.4 282.8,1574.4 285.8,1552.5 288.8,1546.8 291.8,1540 295.6,1590.2 298.2,1573.3 301.3,1561.9 304.3,1537.4 309.6,1535.5 312.2,1509.1 314.5,1507.2 317.9,1514.7 321.3,1500.8 323.2,1497 325.4,1509.1 328.1,1509.1 329.9,1584.6 333.7,1593.3 336,1631.8 338.3,1597.8 340.1,1588.4 344.3,1658.2 348.1,1722.4 351.1,1741.2 353.7,1757.5 357.5,1753.7 359.8,1727.3 362,1777.9 366.2,1735.6 367.7,1743.1 370.7,1695.9 373.7,1660.1 376.8,1665.7 379.8,1658.2 383.6,1637.4 386.6,1648.8 389.6,1637.4 392.2,1658.2 396,1646.1 397.9,1691.4 401.7,1693.3 404.3,1670.7 407,1690.3 410,1655.2 413.4,1677.1 416,1632.9 419.8,1631.8 422.1,1647.6 424.7,1643.1 427,1647.6 429.6,1645 436,1643.5 439.8,1731.1 442.4,1705.4 447.7,1686.5 451.5,1680.1 454.5,1663.9 458.3,1680.8 461.3,1682.7 465.5,1700.9 468.5,1701.6 471.9,1723.5 474.9,1719.7 476.8,1688.4 479.8,1665.7 482.5,1667.6 485.9,1675.2 488.5,1697.8 491.1,1717.8 493.8,1728 496.1,1737.5 498.3,1726.9 501.3,1734.8 505.1,1760.1 507.8,1770.3 509.6,1734.8 513.8,1721.6 516.4,1704.6 519.8,1700.5 522.9,1675.2 525.5,1652.5 527.8,1655.6 530.8,1626.1 534.2,1588.4 537.2,1567.6 539.8,1543.1 542.1,1541.2 545.1,1524.9 547.8,1514.7 551.6,1552.5 553.8,1558.9 557.2,1546.8 559.5,1558.2 563.6,1626.9 566.3,1592.1 569.7,1587.6 572.7,1586.5 576.1,1578.2 578.7,1589.5 583.6,1538.1 587.4,1560 589.7,1557.4 593.5,1561.9 596.9,1558.2 601,1535.5 603.3,1551.4 607.4,1515.5 610.4,1575.1 613.5,1526.1 616.1,1520.4 619.5,1531 621.4,1549.8 624.8,1522.3 628.2,1501.5 631.2,1488.3 634.2,1473.2 637.2,1467.6 640.3,1467.6 643.7,1533.6 647.1,1511 652,1492.1 654.2,1517.4 657.3,1550.6 660.7,1626.1 664.1,1679 666.7,1684.6 669.7,1688.4 672,1663.9 676.1,1649.9 679.2,1660.1 681.8,1667.6 685.2,1691 687.8,1694.8 690.1,1656.3 693.9,1636.3 696.9,1662.7 699.5,1663.9 701.8,1648.8 705.2,1668.8 707.5,1653.7 709.7,1669.5 711.6,1682.7 713.9,1709.2 716.1,1656.3 719.2,1639.3 722.2,1595.2 726,1594 729,1632.5 732.4,1628.8 733.9,1649.9 737.3,1611 739.6,1676.3 743.7,1660.1 746,1611 749.4,1635.5 752,1620.4 755,1631.8 758.1,1653.7 761.5,1654.4 764.1,1620.4 768.2,1613.6 772.4,1590.2 775.4,1582.7 778.4,1560 781.5,1614.8 784.5,1611 787.5,1609.1 790.5,1584.6 793.9,1561.2 796.6,1611 799.6,1609.1 802.6,1584.6 806.4,1558.2 810.5,1556.3 814.7,1518.5 818.1,1502.3 820.7,1500.8 823.7,1518.5 826.8,1499.6 831.7,1575.1 834.3,1544.9 837.7,1520.4 840.7,1523.4 844.1,1541.2 847.5,1526.1 850,1524.2 852.3,1509.1 855.3,1554.4 857.6,1531.7 861.7,1582.7 865.9,1550.6 869.6,1531 872.7,1544.9 875.7,1567.6 880.2,1572.5 882.5,1541.2 885.9,1527.2 889.6,1552.5 892.3,1573.3 896.1,1618.6 899.1,1621.2 901.7,1636.3 905.5,1615.5 907.8,1669.9 911.5,1665.7 913.8,1623.1 916.4,1617.8 919.8,1613.6 923.6,1575.9 925.9,1572.5 929.7,1551.7 931.9,1522.3 936.1,1506.1 938,1505.3 941.7,1475.9 944.4,1524.9 947.4,1488.3 949.7,1512.9 952.7,1488.3 954.9,1467.6 985.9,1467.6 991.6,1467.6 993.8,1499.6 998,1484.5 999.5,1467.6 1003.6,1467.6 1005.9,1544.9 1011.6,1506.4 1015,1543.1 1018,1584.6 1020.6,1587.6 1022.9,1592.1 1026.3,1572.1 1028.6,1599.7 1031.6,1633.7 1035,1624.2 1037.6,1595.9 1041.4,1577 1043.7,1578.9 1047.8,1572.5 1050.1,1605.3 1052.3,1654.4 1055.4,1688.4 1058.4,1677.1 1061.4,1700.9 1065.9,1672.2 1068.2,1684.6 1071.2,1665.7 1074.2,1638.6 1077.6,1624.2 1082.2,1588.4 1085.6,1577.8 1087.8,1550.6 1090.5,1541.2 1094.3,1517.8 1097.7,1500.8 1101,1498.5 1105.2,1498.5 1109.4,1483.4 1112.4,1473.2 1115.4,1477 1118.4,1467.6 1120.7,1487.2 1122.6,1522.3 1124.5,1557.4 1127.9,1548.7 1131.6,1522.3 1135,1611 1137.7,1603.5 1140.7,1615.5 1144.1,1636.7 1146.7,1614.8 1149.7,1598.9 1152.8,1624.2 1155.4,1604.2 1158.4,1656.3 1161.8,1677.1 1165.2,1654.4 1167.9,1609.1 1170.9,1569.5 1173.9,1544.9 1176.9,1531.7 1180.7,1526.1 1183.7,1518.5 1186,1554.4 1189,1537.4 1191.7,1528 1193.9,1551.4 1196.6,1540 1200,1514 1203.7,1512.1 1206,1561.9 1209.8,1550.6 1212.4,1573.3 1215.1,1622.3 1216.9,1662 1218.8,1694.1 1221.9,1731.1 1224.1,1689.2 1227.9,1680.8 1229.8,1705.4 1233.2,1702.7 1235.8,1640.5 1238.8,1634.8 1241.9,1604.6 1245.3,1626.1 1247.5,1596.7 1250.2,1580.1 1254.3,1572.5 1257,1591.4 1258.9,1593.3 1261.9,1566.8 1265.3,1575.1 1267.9,1558.2 1271.7,1569.5 1274.3,1556.3 1277.7,1543.8 1281.5,1532.5 1284.9,1523.4 1288.7,1516.6 1291.7,1505.3 1295.5,1494 1297.7,1520.4 1300.4,1507.2 1304.2,1498.9 1307.6,1507.2 1310.2,1499.6 1312.1,1483.8 1315.5,1488.3 1317.7,1518.5 1321.1,1495.9 1324.2,1522.3 1327.9,1589.5 1330.2,1573.3 1333.6,1556.3 1336.2,1531.7 1339.6,1515.5 1342.3,1528 1344.9,1523.4 1348.3,1520.4 1351,1546.1 1354.4,1588.4 1357,1567.6 1360,1642.3 1362.7,1656.3 1365.7,1673.3 1369.5,1734.8 1371.7,1739.4 1374,1689.5 1378.9,1687.6 1381.2,1646.9 1383.8,1616.7 1386.5,1615.5 1389.5,1586.5 1392.1,1555.5 1395.1,1611 1398.2,1594 1401.2,1572.5 1403.4,1582.7 1407.2,1561.9 1409.9,1597.8 1412.9,1595.2 1415.5,1576.3 1418.9,1617.8 1421.6,1647.6 1426.5,1637.4 1430.2,1685.4 1433.6,1685.4 1435.9,1666.9 1439.7,1648 1442.7,1632.9 1445.7,1607.2 1448,1584.6 1450.3,1634.8 1453.3,1672.2 1457.8,1712.2 1460.4,1694.1 1464.2,1682 1469.1,1690.3 1471.8,1731.8 1475.5,1688.4 1477.4,1699.7 1479.7,1671.4 1482.3,1647.6 1485.4,1618.6 1488,1602.7 1490.3,1659.3 1492.2,1628 1495.2,1631.8 1498.2,1692.2 1501.2,1711 1503.5,1731.8 1506.9,1701.6 1509.9,1675.2 1512.9,1665 1515.6,1682.7 1518.2,1665 1521.2,1629.9 1523.9,1620.4 1526.1,1616.7 1528.4,1623.1 1531.4,1605.3 1533.7,1597.8 1536.3,1619.7 1538.6,1646.9 1540.1,1639.3 1543.5,1687.3 1545.4,1645 1547.7,1671.4 1550.7,1684.6 1553.7,1700.5 1557.8,1655.6 1560.5,1682.7 1565.4,1680.1 1569.5,1691 1572.2,1745 1575.2,1763.9 1578.2,1779.8 1581.2,1759.4 1583.9,1739.4 1587.3,1736.7 1589.6,1708 1593.7,1708 1596.4,1729.9 1598.6,1755.6 1600.5,1784.7 1603.9,1795.2 1606.2,1804.3 1608.1,1822.4 1609.9,1828.8 1612.6,1807.3 1615.6,1782 1618.6,1762 1621.6,1752.6 1624.7,1765.8 1628.1,1784.7 1631.1,1799.8 1633.7,1813 1636.4,1816.8 1639.4,1818.6 1642.8,1813 1645.8,1796 1648.8,1805.4 1651.8,1814.1 1655.2,1817.5 1657.5,1808.4 1660.5,1814.9 1663.5,1818.6 1666.2,1788.4 1670,1782 1673,1762 1676,1743.1 1679,1731.8 1681.7,1723.1 1684.3,1739.4 1687.3,1729.9 1690.4,1697.8 1693,1685.8 1696,1665.7 1699.4,1675.2 1700,1675.2 1701.9,1615.5 1705.3,1628 1707.9,1613.6 1711.3,1614.8 1714,1611 1717.7,1592.9 1721.1,1557.4 1724.2,1541.2 1727.6,1624.2 1731.7,1647.6 1734.4,1643.1 1737.8,1654.4 1740.4,1683.5 1743.8,1697.8 1746.4,1690.3 1749.5,1689.5 1751.7,1672.5 1755.5,1680.1 1758.9,1696.7 1761.5,1708 1764.2,1729.9 1767.2,1719.7 1770.6,1735.6 1773.2,1751.8 1775.9,1763.1 1779.3,1759.4 1781.5,1695.2 1783.8,1714.8 1787.2,1714.8 1789.5,1732.9 1792.9,1726.1 1795.9,1741.2 1799.7,1767.7 1801.9,1701.6 1804.9,1724.3 1808,1726.1 1811.4,1740.1 1814,1716.7 1817.8,1720.5 1819.7,1743.1 1823.1,1736.7 1826.5,1743.1 1829.5,1748 1832.1,1773.3 1834.8,1776.4 1837.8,1783.9 1840.4,1796 1843.5,1810 1847.2,1788.4 1851.4,1765.8 1855.2,1768.8 1857.8,1782 1861.6,1760.1 1865,1762 1868,1765 1870.6,1742.4 1873.7,1720.5 1876.3,1709.2 1878.9,1686.5 1882.3,1665.7 1885,1669.5 1888,1660.1 1891.4,1658.2 1894,1620.4 1897.8,1605.3 1900.1,1648.8 1903.9,1669.5 1908,1626.9 1911,1629.9 1914.1,1622.3 1917.4,1621.2 1920.1,1590.2 1923.5,1592.1 1927.3,1585.7 1929.9,1583.8 1932.9,1650.6 1935.9,1669.5 1939.7,1640.5 1942,1631.8 1944.6,1640.5 1947.7,1640.5 1949.9,1679.7 1953.7,1582.7 1956.3,1580.8 1960.5,1563.8 1963.5,1550.6 1968,1568.7 1971.8,1558.2 1976,1531.7 1979.7,1569.5 1982.8,1550.6 1985.4,1546.8 1988.4,1611 1992.6,1592.1 1994.5,1580.8 1998.2,1632.5 2001.3,1595.9 2005.8,1550.6 2009.2,1548.7 2011.8,1536.3 2015.6,1535.5 2017.9,1505.3 2021.3,1482.7 2023.5,1467.6 2025.8,1565.7 2028.8,1554.4 2031.5,1538.1 2036,1534.4 2039,1563.8 2042,1578.9 2044.3,1582.7 2047.3,1575.1 2050,1541.2 2053.7,1531 2055.6,1572.5 2059,1535.5 2062,1511 2065.8,1554.4 2068.5,1535.5 2071.9,1533.6 2074.1,1602.7 2077.5,1601.6 2080.2,1679 2082.8,1635.5 2086.6,1621.6 2088.5,1642 2091.9,1602.3 2094.5,1591.4 2097.5,1592.1 2099.8,1635.5 2103.2,1631.8 2106.2,1608.4 2109.2,1605.3 2111.9,1581.9 2114.9,1594 2117.9,1700.5 2121.7,1728.8 2124.3,1697.1 2127,1675.2 2130.4,1639.3 2133.4,1667.6 2136.8,1662 2139.4,1663.9 2142.1,1636.3 2145.5,1641.2 2147.7,1646.9 2150,1605.3 2153.4,1612.9 2156,1631.8 2158.7,1611 2162.1,1577 2165.5,1586.5 2168.5,1571.4 2171.1,1554.4 2173.8,1531.7 2176.4,1554.4 2179.8,1526.1 2183.6,1514 2187.4,1541.2 2190,1561.9 2192.3,1605.3 2194.9,1591.4 2198.7,1634.8 2201.3,1616.7 2204.4,1594 2206.6,1584.6 2209.6,1561.9 2212.3,1558.2 2215.3,1580.8 2218,1631 2221.7,1678.2 2225.9,1646.9 2228.9,1641.2 2232.3,1607.2 2235.3,1584.6 2238.7,1565.7 2242.5,1558.2 2245.5,1554.4 2248.2,1594 2250.8,1577 2254.2,1552.5 2258,1575.1 2259.9,1573.3 2262.5,1616.7 2265.5,1562.7 2268.2,1578.9 2271.6,1574.4 2274.6,1567.6 2277.6,1553.2 2280.2,1549.8 2282.9,1577 2285.9,1580.1 2289.7,1575.1 2292.7,1571.4 2295.3,1560 2298.4,1537.4 2301,1533.6 2304.4,1522.3 2307.8,1515.9 2310.4,1529.8 2313.1,1590.2 2316.5,1635.5 2318.4,1636.7 2322.1,1687.3 2324.4,1612.9 2328.2,1594 2331.6,1609.1 2334.2,1614.8 2336.5,1647.6 2340.3,1614.8 2342.2,1622.3 2345.6,1675.9 2348.2,1647.6 2351.2,1652.5 2353.9,1668.4 2356.9,1648.8 2359.5,1629.1 2361.4,1629.9 2364.1,1658.2 2366.7,1629.9 2369.7,1649.9 2372.7,1640.5 2375.8,1616.7 2378.4,1602.3 2381,1612.1 2383.7,1590.2 2385.9,1569.5 2389.3,1554.4 2392,1535.5 2395,1537.4 2397.3,1519.6 2400.7,1520.4 2402.9,1507.2 2406.7,1499.6 2409.7,1518.5 2412.8,1507.2 2415.8,1495.9 2419.5,1480.8 2422.2,1467.6 2425.6,1467.6 2428.2,1552.5 2431.6,1541.2 2434.3,1499.6 2437.3,1488.3 2439.2,1467.6 2449,1467.6 2451.6,1499.6 2455,1467.6 2466.4,1467.6 2468.6,1484.5 2471.6,1497.8 2475,1478.1 2477.7,1467.6 2496.6,1467.6 2498.8,1490.2 2502.2,1543.1 2505.2,1537.4 2507.9,1516.6 2510.9,1492.1 2513.5,1478.1 2515.8,1467.6 2517.7,1477 2519.6,1497.8 2522.2,1478.9 2526.8,1475.9 2530.5,1467.6 2537.3,1467.6 2538.1,1526.1 2540,1613.6 2543,1588.4 2546.4,1561.9 2550,1546.1 2553,1580.8 2556,1601.6 2558.3,1550.6 2562.1,1561.9 2564.3,1569.5 2565.9,1591.4 2568.9,1584.6 2572.3,1558.9 2575.3,1586.5 2577.6,1572.5 2579.8,1607.2 2582.1,1633.7 2584.4,1634.4 2587.4,1609.1 2590.4,1657.4 2593.8,1669.5 2596.4,1647.6 2600.6,1647.6 2602.5,1666.9 2605.9,1665.7 2608.5,1709.2 2612.3,1745 2616.1,1679.7 2619.1,1681.6 2621.7,1688.4 2625.5,1712.9 2627.8,1707.3 2631.2,1728.8 2633.8,1745.8 2637.6,1753.3 2640.6,1763.9 2643.6,1769.6 2645.9,1794.1 2648.9,1760.1 2651.9,1734.5 2654.9,1756.4 2658,1774.1 2661.7,1762 2665.1,1735.6 2667.8,1720.5 2670.1,1726.1 2672.7,1709.2 2675,1701.6 2676.8,1703.5 2679.9,1722.4 2684,1701.6 2686.7,1709.2 2689.7,1707.3 2692.7,1690.3 2695.7,1672.2 2699.1,1701.6 2701.8,1668.4 2704.8,1669.5 2707.8,1662 2711.2,1672.2 2714.2,1693.3 2718.8,1698.6 2723.7,1706.1 2726.3,1669.5 2730.1,1663.9 2733.1,1668.8 2736.5,1684.6 2739.5,1690.3 2741,1645 2744,1669.5 2746.3,1641.2 2749.3,1653.3 2752,1689.2 2755.7,1695.9 2758.4,1708 2761.4,1726.1 2764.1,1751.4 2767.1,1742.4 2770.1,1759.4 2773.9,1781.6 2775.8,1784.7 2779.5,1756.4 2781.8,1764.7 2785.2,1742.4 2787.8,1698.6 2790.9,1687.6 2793.9,1710.3 2795.4,1691 2798.8,1695.9 2801,1714.1 2803.7,1707.3 2806.7,1688.4 2809,1672.2 2812,1655.2 2814.3,1654.4 2816.5,1671.4 2818.4,1687.6 2820.3,1686.5 2822.6,1707.3 2825.6,1740.1 2829,1750.7 2832,1772.6 2835,1805.4 2838,1821.3 2841.1,1793 2843.7,1749.6 2848.2,1749.9 2850.1,1778.2 2852,1777.1 2853.9,1746.2 2855.8,1728 2858.1,1759.4 2861.5,1760.1 2863.7,1790.3 2867.1,1797.9 2869.8,1813 2873.5,1822.4 2876.6,1788.4 2879.6,1760.1 2881.1,1766.9 2884.1,1753.3 2886.7,1741.2 2889.8,1731.1 2892,1724.3 2895.4,1732.9 2897.3,1741.2 2900,1751.4 2903.7,1721.2 2906,1726.1 2909,1724.3 2912,1704.6 2913.9,1720.5 2916.6,1735.6 2919.6,1754.5 2923.4,1714.8 2925.6,1734.8 2928.3,1729.9 2931.3,1726.1 2933.9,1724.3 2937,1729.9 2939.6,1701.6 2942.6,1680.8 2944.9,1688.4 2947.9,1692.9 2950.2,1710.3 2953.2,1709.2 2955.8,1707.3 2958.5,1722.4 2961.9,1770.3 2964.9,1756.4 2967.5,1736.3 2969.4,1741.2 2971.7,1714.1 2973.6,1694.1 2975.8,1711 2979.2,1685.8 2982.3,1666.9 2986,1668.8 2989.8,1663.9 2993.2,1662 2996.2,1671.4 2999.2,1683.9 3003,1679 3005.7,1674.4 3009.1,1655.6 3012.1,1612.9 3015.5,1590.2 3018.5,1568.3 3021.1,1534.7 3023.4,1507.2 3025.7,1490.2 3027.9,1475.9 3029.8,1495.9 3032.1,1561.9 3034.7,1541.2 3037.8,1516.6 3040.8,1499.6 3044.2,1478.1 3047.6,1526.1 3050.2,1546.8 3053.2,1532.9 3056.2,1532.5 3059.6,1514.7 3061.9,1547.6 3065.3,1541.2 3068.3,1524.2 3071.4,1511 3074,1492.1 3077.8,1483.4 3080,1503.4 3081.9,1541.2 3083.8,1592.1 3086.1,1549.8 3089.8,1547.6 3092.9,1543.1 3096.3,1546.8 3098.2,1535.5 3100,1511 3101.9,1541.2 3104.2,1590.2 3106.5,1595.2 3109.1,1571.4 3112.1,1541.2 3114.4,1548.7 3116.7,1575.1 3118.9,1618.6 3121.9,1668.4 3124.2,1639.3 3127.2,1658.2 3130.2,1626.1 3134,1660.8 3136.3,1656.3 3139.7,1643.9 3142.7,1645 3145.7,1640.5 3147.2,1588.4 3149.5,1574 3152.9,1594.8 3155.9,1592.1 3158.9,1592.9 3161.6,1595.9 3165.4,1592.1 3167.6,1577 3171.4,1580.1 3174,1612.9 3176.7,1590.2 3178.9,1569.5 3181.2,1561.2 3183.5,1554.4 3185.7,1566.5 3189.5,1552.5 3192.5,1588.4 3195.2,1605.3 3198.6,1594 3200.8,1580.1 3203.1,1556.3 3205.7,1533.6 3209.1,1499.6 3211.8,1493.2 3213.7,1528 3215.2,1584.6 3217.4,1580.8 3219.3,1620.4 3222,1672.5 3223.9,1646.9 3227.3,1631.8 3230.3,1612.9 3233.7,1592.1 3235.9,1640.5 3239.3,1645.7 3241.6,1641.2 3243.5,1660.1 3246.1,1685.8 3248.4,1662 3251.4,1660.1 3254.1,1629.1 3257.1,1631 3259.4,1645 3261.6,1672.5 3263.9,1697.8 3266.1,1738.6 3268.4,1712.9 3272.2,1704.6 3275.2,1712.2 3277.9,1725.4 3280.5,1688.4 3284.3,1687.3 3286.2,1697.1 3288,1669.5 3289.9,1620.4 3292.2,1635.5 3295.2,1629.1 3297.5,1588.4 3300.5,1569.5 3303.5,1560 3307.3,1603.5 3309.6,1567.6 3313.7,1567.6 3316.4,1555.1 3319.4,1568.3 3322.8,1547.6 3325.8,1548.7 3327.7,1543.8 3329.9,1573.3 3331.5,1611 3333.7,1637.4 3335.6,1626.1 3337.9,1648 3340.5,1665 3342.8,1646.9 3345.8,1682.7 3348.1,1628.8 3350.3,1631.8 3354.1,1666.5 3357.5,1626.1 3360.5,1643.9 3363.2,1675.9 3365.4,1675.2 3369.6,1661.2 3371.9,1678.2 3374.9,1677.8 3377.9,1665.7 3379.8,1645 3382,1624.2 3384.7,1621.2 3387.3,1623.1 3390,1624.2 3392.2,1678.2 3394.9,1648.8 3397.5,1628 3401.3,1612.9 3403.9,1589.5 3406.2,1611 3408.1,1633.7 3410,1663.1 3412.6,1654.4 3416,1629.9 3418.3,1641.2 3420.9,1651.8 3423.2,1652.5 3425.8,1668.8 3428.1,1694.1 3430.4,1660.1 3431.9,1642.3 3434.5,1652.5 3437.2,1667.6 3439.4,1690.3 3441.7,1714.8 3444,1741.2 3446.2,1755.6 3448.2,1725.3 3453.9,1691.6 3458.1,1701.9 3459.9,1727.9 3464.3,1725.3 3464.3,1526.6" fill="url(#gup)"/></g>
<g clip-path="url(#cr30)"><polygon points="19.6,1771.8 19.6,1467.6 49.1,1467.6 60.4,1467.6 62.3,1497.8 63.4,1626.1 68,1677.1 73.6,1645 81.2,1611.8 85.7,1619.3 88,1688.4 93.6,1672.2 100,1731.8 102.7,1737.5 106.5,1752.6 109.5,1757.5 112.1,1718.6 116.3,1741.2 121.6,1773.3 124.6,1737.5 126.5,1746.9 129.9,1745 131.8,1784.7 135.9,1770.3 141.6,1790.3 147.6,1768.8 152.9,1789.2 155.9,1808.1 160.1,1808.1 162.3,1750.7 166.1,1706.5 169.9,1719.7 173.3,1733.7 177.8,1724.3 180.5,1748.8 183.9,1760.1 185.7,1754.5 188,1709.2 190.6,1686.5 194,1655.6 196.7,1670.7 199.7,1651.8 202.7,1667.6 205.7,1685.8 208.8,1668.4 211.8,1665.7 215.9,1694.1 220.8,1699 225.8,1709.2 227.6,1713.7 230.3,1709.2 233.7,1725 235.9,1714.8 238.6,1713.7 241.6,1719.7 243.9,1699.7 247.3,1700.5 249.2,1707.3 252.9,1712.9 256.3,1722.4 259.7,1692.2 264.3,1669.5 268,1638.6 271.8,1634.4 276.7,1604.2 279.4,1588.4 282.8,1574.4 285.8,1552.5 288.8,1546.8 291.8,1540 295.6,1590.2 298.2,1573.3 301.3,1561.9 304.3,1537.4 309.6,1535.5 312.2,1509.1 314.5,1507.2 317.9,1514.7 321.3,1500.8 323.2,1497 325.4,1509.1 328.1,1509.1 329.9,1584.6 333.7,1593.3 336,1631.8 338.3,1597.8 340.1,1588.4 344.3,1658.2 348.1,1722.4 351.1,1741.2 353.7,1757.5 357.5,1753.7 359.8,1727.3 362,1777.9 366.2,1735.6 367.7,1743.1 370.7,1695.9 373.7,1660.1 376.8,1665.7 379.8,1658.2 383.6,1637.4 386.6,1648.8 389.6,1637.4 392.2,1658.2 396,1646.1 397.9,1691.4 401.7,1693.3 404.3,1670.7 407,1690.3 410,1655.2 413.4,1677.1 416,1632.9 419.8,1631.8 422.1,1647.6 424.7,1643.1 427,1647.6 429.6,1645 436,1643.5 439.8,1731.1 442.4,1705.4 447.7,1686.5 451.5,1680.1 454.5,1663.9 458.3,1680.8 461.3,1682.7 465.5,1700.9 468.5,1701.6 471.9,1723.5 474.9,1719.7 476.8,1688.4 479.8,1665.7 482.5,1667.6 485.9,1675.2 488.5,1697.8 491.1,1717.8 493.8,1728 496.1,1737.5 498.3,1726.9 501.3,1734.8 505.1,1760.1 507.8,1770.3 509.6,1734.8 513.8,1721.6 516.4,1704.6 519.8,1700.5 522.9,1675.2 525.5,1652.5 527.8,1655.6 530.8,1626.1 534.2,1588.4 537.2,1567.6 539.8,1543.1 542.1,1541.2 545.1,1524.9 547.8,1514.7 551.6,1552.5 553.8,1558.9 557.2,1546.8 559.5,1558.2 563.6,1626.9 566.3,1592.1 569.7,1587.6 572.7,1586.5 576.1,1578.2 578.7,1589.5 583.6,1538.1 587.4,1560 589.7,1557.4 593.5,1561.9 596.9,1558.2 601,1535.5 603.3,1551.4 607.4,1515.5 610.4,1575.1 613.5,1526.1 616.1,1520.4 619.5,1531 621.4,1549.8 624.8,1522.3 628.2,1501.5 631.2,1488.3 634.2,1473.2 637.2,1467.6 640.3,1467.6 643.7,1533.6 647.1,1511 652,1492.1 654.2,1517.4 657.3,1550.6 660.7,1626.1 664.1,1679 666.7,1684.6 669.7,1688.4 672,1663.9 676.1,1649.9 679.2,1660.1 681.8,1667.6 685.2,1691 687.8,1694.8 690.1,1656.3 693.9,1636.3 696.9,1662.7 699.5,1663.9 701.8,1648.8 705.2,1668.8 707.5,1653.7 709.7,1669.5 711.6,1682.7 713.9,1709.2 716.1,1656.3 719.2,1639.3 722.2,1595.2 726,1594 729,1632.5 732.4,1628.8 733.9,1649.9 737.3,1611 739.6,1676.3 743.7,1660.1 746,1611 749.4,1635.5 752,1620.4 755,1631.8 758.1,1653.7 761.5,1654.4 764.1,1620.4 768.2,1613.6 772.4,1590.2 775.4,1582.7 778.4,1560 781.5,1614.8 784.5,1611 787.5,1609.1 790.5,1584.6 793.9,1561.2 796.6,1611 799.6,1609.1 802.6,1584.6 806.4,1558.2 810.5,1556.3 814.7,1518.5 818.1,1502.3 820.7,1500.8 823.7,1518.5 826.8,1499.6 831.7,1575.1 834.3,1544.9 837.7,1520.4 840.7,1523.4 844.1,1541.2 847.5,1526.1 850,1524.2 852.3,1509.1 855.3,1554.4 857.6,1531.7 861.7,1582.7 865.9,1550.6 869.6,1531 872.7,1544.9 875.7,1567.6 880.2,1572.5 882.5,1541.2 885.9,1527.2 889.6,1552.5 892.3,1573.3 896.1,1618.6 899.1,1621.2 901.7,1636.3 905.5,1615.5 907.8,1669.9 911.5,1665.7 913.8,1623.1 916.4,1617.8 919.8,1613.6 923.6,1575.9 925.9,1572.5 929.7,1551.7 931.9,1522.3 936.1,1506.1 938,1505.3 941.7,1475.9 944.4,1524.9 947.4,1488.3 949.7,1512.9 952.7,1488.3 954.9,1467.6 985.9,1467.6 991.6,1467.6 993.8,1499.6 998,1484.5 999.5,1467.6 1003.6,1467.6 1005.9,1544.9 1011.6,1506.4 1015,1543.1 1018,1584.6 1020.6,1587.6 1022.9,1592.1 1026.3,1572.1 1028.6,1599.7 1031.6,1633.7 1035,1624.2 1037.6,1595.9 1041.4,1577 1043.7,1578.9 1047.8,1572.5 1050.1,1605.3 1052.3,1654.4 1055.4,1688.4 1058.4,1677.1 1061.4,1700.9 1065.9,1672.2 1068.2,1684.6 1071.2,1665.7 1074.2,1638.6 1077.6,1624.2 1082.2,1588.4 1085.6,1577.8 1087.8,1550.6 1090.5,1541.2 1094.3,1517.8 1097.7,1500.8 1101,1498.5 1105.2,1498.5 1109.4,1483.4 1112.4,1473.2 1115.4,1477 1118.4,1467.6 1120.7,1487.2 1122.6,1522.3 1124.5,1557.4 1127.9,1548.7 1131.6,1522.3 1135,1611 1137.7,1603.5 1140.7,1615.5 1144.1,1636.7 1146.7,1614.8 1149.7,1598.9 1152.8,1624.2 1155.4,1604.2 1158.4,1656.3 1161.8,1677.1 1165.2,1654.4 1167.9,1609.1 1170.9,1569.5 1173.9,1544.9 1176.9,1531.7 1180.7,1526.1 1183.7,1518.5 1186,1554.4 1189,1537.4 1191.7,1528 1193.9,1551.4 1196.6,1540 1200,1514 1203.7,1512.1 1206,1561.9 1209.8,1550.6 1212.4,1573.3 1215.1,1622.3 1216.9,1662 1218.8,1694.1 1221.9,1731.1 1224.1,1689.2 1227.9,1680.8 1229.8,1705.4 1233.2,1702.7 1235.8,1640.5 1238.8,1634.8 1241.9,1604.6 1245.3,1626.1 1247.5,1596.7 1250.2,1580.1 1254.3,1572.5 1257,1591.4 1258.9,1593.3 1261.9,1566.8 1265.3,1575.1 1267.9,1558.2 1271.7,1569.5 1274.3,1556.3 1277.7,1543.8 1281.5,1532.5 1284.9,1523.4 1288.7,1516.6 1291.7,1505.3 1295.5,1494 1297.7,1520.4 1300.4,1507.2 1304.2,1498.9 1307.6,1507.2 1310.2,1499.6 1312.1,1483.8 1315.5,1488.3 1317.7,1518.5 1321.1,1495.9 1324.2,1522.3 1327.9,1589.5 1330.2,1573.3 1333.6,1556.3 1336.2,1531.7 1339.6,1515.5 1342.3,1528 1344.9,1523.4 1348.3,1520.4 1351,1546.1 1354.4,1588.4 1357,1567.6 1360,1642.3 1362.7,1656.3 1365.7,1673.3 1369.5,1734.8 1371.7,1739.4 1374,1689.5 1378.9,1687.6 1381.2,1646.9 1383.8,1616.7 1386.5,1615.5 1389.5,1586.5 1392.1,1555.5 1395.1,1611 1398.2,1594 1401.2,1572.5 1403.4,1582.7 1407.2,1561.9 1409.9,1597.8 1412.9,1595.2 1415.5,1576.3 1418.9,1617.8 1421.6,1647.6 1426.5,1637.4 1430.2,1685.4 1433.6,1685.4 1435.9,1666.9 1439.7,1648 1442.7,1632.9 1445.7,1607.2 1448,1584.6 1450.3,1634.8 1453.3,1672.2 1457.8,1712.2 1460.4,1694.1 1464.2,1682 1469.1,1690.3 1471.8,1731.8 1475.5,1688.4 1477.4,1699.7 1479.7,1671.4 1482.3,1647.6 1485.4,1618.6 1488,1602.7 1490.3,1659.3 1492.2,1628 1495.2,1631.8 1498.2,1692.2 1501.2,1711 1503.5,1731.8 1506.9,1701.6 1509.9,1675.2 1512.9,1665 1515.6,1682.7 1518.2,1665 1521.2,1629.9 1523.9,1620.4 1526.1,1616.7 1528.4,1623.1 1531.4,1605.3 1533.7,1597.8 1536.3,1619.7 1538.6,1646.9 1540.1,1639.3 1543.5,1687.3 1545.4,1645 1547.7,1671.4 1550.7,1684.6 1553.7,1700.5 1557.8,1655.6 1560.5,1682.7 1565.4,1680.1 1569.5,1691 1572.2,1745 1575.2,1763.9 1578.2,1779.8 1581.2,1759.4 1583.9,1739.4 1587.3,1736.7 1589.6,1708 1593.7,1708 1596.4,1729.9 1598.6,1755.6 1600.5,1784.7 1603.9,1795.2 1606.2,1804.3 1608.1,1822.4 1609.9,1828.8 1612.6,1807.3 1615.6,1782 1618.6,1762 1621.6,1752.6 1624.7,1765.8 1628.1,1784.7 1631.1,1799.8 1633.7,1813 1636.4,1816.8 1639.4,1818.6 1642.8,1813 1645.8,1796 1648.8,1805.4 1651.8,1814.1 1655.2,1817.5 1657.5,1808.4 1660.5,1814.9 1663.5,1818.6 1666.2,1788.4 1670,1782 1673,1762 1676,1743.1 1679,1731.8 1681.7,1723.1 1684.3,1739.4 1687.3,1729.9 1690.4,1697.8 1693,1685.8 1696,1665.7 1699.4,1675.2 1700,1675.2 1701.9,1615.5 1705.3,1628 1707.9,1613.6 1711.3,1614.8 1714,1611 1717.7,1592.9 1721.1,1557.4 1724.2,1541.2 1727.6,1624.2 1731.7,1647.6 1734.4,1643.1 1737.8,1654.4 1740.4,1683.5 1743.8,1697.8 1746.4,1690.3 1749.5,1689.5 1751.7,1672.5 1755.5,1680.1 1758.9,1696.7 1761.5,1708 1764.2,1729.9 1767.2,1719.7 1770.6,1735.6 1773.2,1751.8 1775.9,1763.1 1779.3,1759.4 1781.5,1695.2 1783.8,1714.8 1787.2,1714.8 1789.5,1732.9 1792.9,1726.1 1795.9,1741.2 1799.7,1767.7 1801.9,1701.6 1804.9,1724.3 1808,1726.1 1811.4,1740.1 1814,1716.7 1817.8,1720.5 1819.7,1743.1 1823.1,1736.7 1826.5,1743.1 1829.5,1748 1832.1,1773.3 1834.8,1776.4 1837.8,1783.9 1840.4,1796 1843.5,1810 1847.2,1788.4 1851.4,1765.8 1855.2,1768.8 1857.8,1782 1861.6,1760.1 1865,1762 1868,1765 1870.6,1742.4 1873.7,1720.5 1876.3,1709.2 1878.9,1686.5 1882.3,1665.7 1885,1669.5 1888,1660.1 1891.4,1658.2 1894,1620.4 1897.8,1605.3 1900.1,1648.8 1903.9,1669.5 1908,1626.9 1911,1629.9 1914.1,1622.3 1917.4,1621.2 1920.1,1590.2 1923.5,1592.1 1927.3,1585.7 1929.9,1583.8 1932.9,1650.6 1935.9,1669.5 1939.7,1640.5 1942,1631.8 1944.6,1640.5 1947.7,1640.5 1949.9,1679.7 1953.7,1582.7 1956.3,1580.8 1960.5,1563.8 1963.5,1550.6 1968,1568.7 1971.8,1558.2 1976,1531.7 1979.7,1569.5 1982.8,1550.6 1985.4,1546.8 1988.4,1611 1992.6,1592.1 1994.5,1580.8 1998.2,1632.5 2001.3,1595.9 2005.8,1550.6 2009.2,1548.7 2011.8,1536.3 2015.6,1535.5 2017.9,1505.3 2021.3,1482.7 2023.5,1467.6 2025.8,1565.7 2028.8,1554.4 2031.5,1538.1 2036,1534.4 2039,1563.8 2042,1578.9 2044.3,1582.7 2047.3,1575.1 2050,1541.2 2053.7,1531 2055.6,1572.5 2059,1535.5 2062,1511 2065.8,1554.4 2068.5,1535.5 2071.9,1533.6 2074.1,1602.7 2077.5,1601.6 2080.2,1679 2082.8,1635.5 2086.6,1621.6 2088.5,1642 2091.9,1602.3 2094.5,1591.4 2097.5,1592.1 2099.8,1635.5 2103.2,1631.8 2106.2,1608.4 2109.2,1605.3 2111.9,1581.9 2114.9,1594 2117.9,1700.5 2121.7,1728.8 2124.3,1697.1 2127,1675.2 2130.4,1639.3 2133.4,1667.6 2136.8,1662 2139.4,1663.9 2142.1,1636.3 2145.5,1641.2 2147.7,1646.9 2150,1605.3 2153.4,1612.9 2156,1631.8 2158.7,1611 2162.1,1577 2165.5,1586.5 2168.5,1571.4 2171.1,1554.4 2173.8,1531.7 2176.4,1554.4 2179.8,1526.1 2183.6,1514 2187.4,1541.2 2190,1561.9 2192.3,1605.3 2194.9,1591.4 2198.7,1634.8 2201.3,1616.7 2204.4,1594 2206.6,1584.6 2209.6,1561.9 2212.3,1558.2 2215.3,1580.8 2218,1631 2221.7,1678.2 2225.9,1646.9 2228.9,1641.2 2232.3,1607.2 2235.3,1584.6 2238.7,1565.7 2242.5,1558.2 2245.5,1554.4 2248.2,1594 2250.8,1577 2254.2,1552.5 2258,1575.1 2259.9,1573.3 2262.5,1616.7 2265.5,1562.7 2268.2,1578.9 2271.6,1574.4 2274.6,1567.6 2277.6,1553.2 2280.2,1549.8 2282.9,1577 2285.9,1580.1 2289.7,1575.1 2292.7,1571.4 2295.3,1560 2298.4,1537.4 2301,1533.6 2304.4,1522.3 2307.8,1515.9 2310.4,1529.8 2313.1,1590.2 2316.5,1635.5 2318.4,1636.7 2322.1,1687.3 2324.4,1612.9 2328.2,1594 2331.6,1609.1 2334.2,1614.8 2336.5,1647.6 2340.3,1614.8 2342.2,1622.3 2345.6,1675.9 2348.2,1647.6 2351.2,1652.5 2353.9,1668.4 2356.9,1648.8 2359.5,1629.1 2361.4,1629.9 2364.1,1658.2 2366.7,1629.9 2369.7,1649.9 2372.7,1640.5 2375.8,1616.7 2378.4,1602.3 2381,1612.1 2383.7,1590.2 2385.9,1569.5 2389.3,1554.4 2392,1535.5 2395,1537.4 2397.3,1519.6 2400.7,1520.4 2402.9,1507.2 2406.7,1499.6 2409.7,1518.5 2412.8,1507.2 2415.8,1495.9 2419.5,1480.8 2422.2,1467.6 2425.6,1467.6 2428.2,1552.5 2431.6,1541.2 2434.3,1499.6 2437.3,1488.3 2439.2,1467.6 2449,1467.6 2451.6,1499.6 2455,1467.6 2466.4,1467.6 2468.6,1484.5 2471.6,1497.8 2475,1478.1 2477.7,1467.6 2496.6,1467.6 2498.8,1490.2 2502.2,1543.1 2505.2,1537.4 2507.9,1516.6 2510.9,1492.1 2513.5,1478.1 2515.8,1467.6 2517.7,1477 2519.6,1497.8 2522.2,1478.9 2526.8,1475.9 2530.5,1467.6 2537.3,1467.6 2538.1,1526.1 2540,1613.6 2543,1588.4 2546.4,1561.9 2550,1546.1 2553,1580.8 2556,1601.6 2558.3,1550.6 2562.1,1561.9 2564.3,1569.5 2565.9,1591.4 2568.9,1584.6 2572.3,1558.9 2575.3,1586.5 2577.6,1572.5 2579.8,1607.2 2582.1,1633.7 2584.4,1634.4 2587.4,1609.1 2590.4,1657.4 2593.8,1669.5 2596.4,1647.6 2600.6,1647.6 2602.5,1666.9 2605.9,1665.7 2608.5,1709.2 2612.3,1745 2616.1,1679.7 2619.1,1681.6 2621.7,1688.4 2625.5,1712.9 2627.8,1707.3 2631.2,1728.8 2633.8,1745.8 2637.6,1753.3 2640.6,1763.9 2643.6,1769.6 2645.9,1794.1 2648.9,1760.1 2651.9,1734.5 2654.9,1756.4 2658,1774.1 2661.7,1762 2665.1,1735.6 2667.8,1720.5 2670.1,1726.1 2672.7,1709.2 2675,1701.6 2676.8,1703.5 2679.9,1722.4 2684,1701.6 2686.7,1709.2 2689.7,1707.3 2692.7,1690.3 2695.7,1672.2 2699.1,1701.6 2701.8,1668.4 2704.8,1669.5 2707.8,1662 2711.2,1672.2 2714.2,1693.3 2718.8,1698.6 2723.7,1706.1 2726.3,1669.5 2730.1,1663.9 2733.1,1668.8 2736.5,1684.6 2739.5,1690.3 2741,1645 2744,1669.5 2746.3,1641.2 2749.3,1653.3 2752,1689.2 2755.7,1695.9 2758.4,1708 2761.4,1726.1 2764.1,1751.4 2767.1,1742.4 2770.1,1759.4 2773.9,1781.6 2775.8,1784.7 2779.5,1756.4 2781.8,1764.7 2785.2,1742.4 2787.8,1698.6 2790.9,1687.6 2793.9,1710.3 2795.4,1691 2798.8,1695.9 2801,1714.1 2803.7,1707.3 2806.7,1688.4 2809,1672.2 2812,1655.2 2814.3,1654.4 2816.5,1671.4 2818.4,1687.6 2820.3,1686.5 2822.6,1707.3 2825.6,1740.1 2829,1750.7 2832,1772.6 2835,1805.4 2838,1821.3 2841.1,1793 2843.7,1749.6 2848.2,1749.9 2850.1,1778.2 2852,1777.1 2853.9,1746.2 2855.8,1728 2858.1,1759.4 2861.5,1760.1 2863.7,1790.3 2867.1,1797.9 2869.8,1813 2873.5,1822.4 2876.6,1788.4 2879.6,1760.1 2881.1,1766.9 2884.1,1753.3 2886.7,1741.2 2889.8,1731.1 2892,1724.3 2895.4,1732.9 2897.3,1741.2 2900,1751.4 2903.7,1721.2 2906,1726.1 2909,1724.3 2912,1704.6 2913.9,1720.5 2916.6,1735.6 2919.6,1754.5 2923.4,1714.8 2925.6,1734.8 2928.3,1729.9 2931.3,1726.1 2933.9,1724.3 2937,1729.9 2939.6,1701.6 2942.6,1680.8 2944.9,1688.4 2947.9,1692.9 2950.2,1710.3 2953.2,1709.2 2955.8,1707.3 2958.5,1722.4 2961.9,1770.3 2964.9,1756.4 2967.5,1736.3 2969.4,1741.2 2971.7,1714.1 2973.6,1694.1 2975.8,1711 2979.2,1685.8 2982.3,1666.9 2986,1668.8 2989.8,1663.9 2993.2,1662 2996.2,1671.4 2999.2,1683.9 3003,1679 3005.7,1674.4 3009.1,1655.6 3012.1,1612.9 3015.5,1590.2 3018.5,1568.3 3021.1,1534.7 3023.4,1507.2 3025.7,1490.2 3027.9,1475.9 3029.8,1495.9 3032.1,1561.9 3034.7,1541.2 3037.8,1516.6 3040.8,1499.6 3044.2,1478.1 3047.6,1526.1 3050.2,1546.8 3053.2,1532.9 3056.2,1532.5 3059.6,1514.7 3061.9,1547.6 3065.3,1541.2 3068.3,1524.2 3071.4,1511 3074,1492.1 3077.8,1483.4 3080,1503.4 3081.9,1541.2 3083.8,1592.1 3086.1,1549.8 3089.8,1547.6 3092.9,1543.1 3096.3,1546.8 3098.2,1535.5 3100,1511 3101.9,1541.2 3104.2,1590.2 3106.5,1595.2 3109.1,1571.4 3112.1,1541.2 3114.4,1548.7 3116.7,1575.1 3118.9,1618.6 3121.9,1668.4 3124.2,1639.3 3127.2,1658.2 3130.2,1626.1 3134,1660.8 3136.3,1656.3 3139.7,1643.9 3142.7,1645 3145.7,1640.5 3147.2,1588.4 3149.5,1574 3152.9,1594.8 3155.9,1592.1 3158.9,1592.9 3161.6,1595.9 3165.4,1592.1 3167.6,1577 3171.4,1580.1 3174,1612.9 3176.7,1590.2 3178.9,1569.5 3181.2,1561.2 3183.5,1554.4 3185.7,1566.5 3189.5,1552.5 3192.5,1588.4 3195.2,1605.3 3198.6,1594 3200.8,1580.1 3203.1,1556.3 3205.7,1533.6 3209.1,1499.6 3211.8,1493.2 3213.7,1528 3215.2,1584.6 3217.4,1580.8 3219.3,1620.4 3222,1672.5 3223.9,1646.9 3227.3,1631.8 3230.3,1612.9 3233.7,1592.1 3235.9,1640.5 3239.3,1645.7 3241.6,1641.2 3243.5,1660.1 3246.1,1685.8 3248.4,1662 3251.4,1660.1 3254.1,1629.1 3257.1,1631 3259.4,1645 3261.6,1672.5 3263.9,1697.8 3266.1,1738.6 3268.4,1712.9 3272.2,1704.6 3275.2,1712.2 3277.9,1725.4 3280.5,1688.4 3284.3,1687.3 3286.2,1697.1 3288,1669.5 3289.9,1620.4 3292.2,1635.5 3295.2,1629.1 3297.5,1588.4 3300.5,1569.5 3303.5,1560 3307.3,1603.5 3309.6,1567.6 3313.7,1567.6 3316.4,1555.1 3319.4,1568.3 3322.8,1547.6 3325.8,1548.7 3327.7,1543.8 3329.9,1573.3 3331.5,1611 3333.7,1637.4 3335.6,1626.1 3337.9,1648 3340.5,1665 3342.8,1646.9 3345.8,1682.7 3348.1,1628.8 3350.3,1631.8 3354.1,1666.5 3357.5,1626.1 3360.5,1643.9 3363.2,1675.9 3365.4,1675.2 3369.6,1661.2 3371.9,1678.2 3374.9,1677.8 3377.9,1665.7 3379.8,1645 3382,1624.2 3384.7,1621.2 3387.3,1623.1 3390,1624.2 3392.2,1678.2 3394.9,1648.8 3397.5,1628 3401.3,1612.9 3403.9,1589.5 3406.2,1611 3408.1,1633.7 3410,1663.1 3412.6,1654.4 3416,1629.9 3418.3,1641.2 3420.9,1651.8 3423.2,1652.5 3425.8,1668.8 3428.1,1694.1 3430.4,1660.1 3431.9,1642.3 3434.5,1652.5 3437.2,1667.6 3439.4,1690.3 3441.7,1714.8 3444,1741.2 3446.2,1755.6 3448.2,1725.3 3453.9,1691.6 3458.1,1701.9 3459.9,1727.9 3464.3,1725.3 3464.3,1771.8" fill="url(#gdn)"/></g>
<g clip-path="url(#cr)">
<polyline points="19.6,1467.6 49.1,1467.6 60.4,1467.6 62.3,1497.8 63.4,1626.1 68,1677.1 73.6,1645 81.2,1611.8 85.7,1619.3 88,1688.4 93.6,1672.2 100,1731.8 102.7,1737.5 106.5,1752.6 109.5,1757.5 112.1,1718.6 116.3,1741.2 121.6,1773.3 124.6,1737.5 126.5,1746.9 129.9,1745 131.8,1784.7 135.9,1770.3 141.6,1790.3 147.6,1768.8 152.9,1789.2 155.9,1808.1 160.1,1808.1 162.3,1750.7 166.1,1706.5 169.9,1719.7 173.3,1733.7 177.8,1724.3 180.5,1748.8 183.9,1760.1 185.7,1754.5 188,1709.2 190.6,1686.5 194,1655.6 196.7,1670.7 199.7,1651.8 202.7,1667.6 205.7,1685.8 208.8,1668.4 211.8,1665.7 215.9,1694.1 220.8,1699 225.8,1709.2 227.6,1713.7 230.3,1709.2 233.7,1725 235.9,1714.8 238.6,1713.7 241.6,1719.7 243.9,1699.7 247.3,1700.5 249.2,1707.3 252.9,1712.9 256.3,1722.4 259.7,1692.2 264.3,1669.5 268,1638.6 271.8,1634.4 276.7,1604.2 279.4,1588.4 282.8,1574.4 285.8,1552.5 288.8,1546.8 291.8,1540 295.6,1590.2 298.2,1573.3 301.3,1561.9 304.3,1537.4 309.6,1535.5 312.2,1509.1 314.5,1507.2 317.9,1514.7 321.3,1500.8 323.2,1497 325.4,1509.1 328.1,1509.1 329.9,1584.6 333.7,1593.3 336,1631.8 338.3,1597.8 340.1,1588.4 344.3,1658.2 348.1,1722.4 351.1,1741.2 353.7,1757.5 357.5,1753.7 359.8,1727.3 362,1777.9 366.2,1735.6 367.7,1743.1 370.7,1695.9 373.7,1660.1 376.8,1665.7 379.8,1658.2 383.6,1637.4 386.6,1648.8 389.6,1637.4 392.2,1658.2 396,1646.1 397.9,1691.4 401.7,1693.3 404.3,1670.7 407,1690.3 410,1655.2 413.4,1677.1 416,1632.9 419.8,1631.8 422.1,1647.6 424.7,1643.1 427,1647.6 429.6,1645 436,1643.5 439.8,1731.1 442.4,1705.4 447.7,1686.5 451.5,1680.1 454.5,1663.9 458.3,1680.8 461.3,1682.7 465.5,1700.9 468.5,1701.6 471.9,1723.5 474.9,1719.7 476.8,1688.4 479.8,1665.7 482.5,1667.6 485.9,1675.2 488.5,1697.8 491.1,1717.8 493.8,1728 496.1,1737.5 498.3,1726.9 501.3,1734.8 505.1,1760.1 507.8,1770.3 509.6,1734.8 513.8,1721.6 516.4,1704.6 519.8,1700.5 522.9,1675.2 525.5,1652.5 527.8,1655.6 530.8,1626.1 534.2,1588.4 537.2,1567.6 539.8,1543.1 542.1,1541.2 545.1,1524.9 547.8,1514.7 551.6,1552.5 553.8,1558.9 557.2,1546.8 559.5,1558.2 563.6,1626.9 566.3,1592.1 569.7,1587.6 572.7,1586.5 576.1,1578.2 578.7,1589.5 583.6,1538.1 587.4,1560 589.7,1557.4 593.5,1561.9 596.9,1558.2 601,1535.5 603.3,1551.4 607.4,1515.5 610.4,1575.1 613.5,1526.1 616.1,1520.4 619.5,1531 621.4,1549.8 624.8,1522.3 628.2,1501.5 631.2,1488.3 634.2,1473.2 637.2,1467.6 640.3,1467.6 643.7,1533.6 647.1,1511 652,1492.1 654.2,1517.4 657.3,1550.6 660.7,1626.1 664.1,1679 666.7,1684.6 669.7,1688.4 672,1663.9 676.1,1649.9 679.2,1660.1 681.8,1667.6 685.2,1691 687.8,1694.8 690.1,1656.3 693.9,1636.3 696.9,1662.7 699.5,1663.9 701.8,1648.8 705.2,1668.8 707.5,1653.7 709.7,1669.5 711.6,1682.7 713.9,1709.2 716.1,1656.3 719.2,1639.3 722.2,1595.2 726,1594 729,1632.5 732.4,1628.8 733.9,1649.9 737.3,1611 739.6,1676.3 743.7,1660.1 746,1611 749.4,1635.5 752,1620.4 755,1631.8 758.1,1653.7 761.5,1654.4 764.1,1620.4 768.2,1613.6 772.4,1590.2 775.4,1582.7 778.4,1560 781.5,1614.8 784.5,1611 787.5,1609.1 790.5,1584.6 793.9,1561.2 796.6,1611 799.6,1609.1 802.6,1584.6 806.4,1558.2 810.5,1556.3 814.7,1518.5 818.1,1502.3 820.7,1500.8 823.7,1518.5 826.8,1499.6 831.7,1575.1 834.3,1544.9 837.7,1520.4 840.7,1523.4 844.1,1541.2 847.5,1526.1 850,1524.2 852.3,1509.1 855.3,1554.4 857.6,1531.7 861.7,1582.7 865.9,1550.6 869.6,1531 872.7,1544.9 875.7,1567.6 880.2,1572.5 882.5,1541.2 885.9,1527.2 889.6,1552.5 892.3,1573.3 896.1,1618.6 899.1,1621.2 901.7,1636.3 905.5,1615.5 907.8,1669.9 911.5,1665.7 913.8,1623.1 916.4,1617.8 919.8,1613.6 923.6,1575.9 925.9,1572.5 929.7,1551.7 931.9,1522.3 936.1,1506.1 938,1505.3 941.7,1475.9 944.4,1524.9 947.4,1488.3 949.7,1512.9 952.7,1488.3 954.9,1467.6 985.9,1467.6 991.6,1467.6 993.8,1499.6 998,1484.5 999.5,1467.6 1003.6,1467.6 1005.9,1544.9 1011.6,1506.4 1015,1543.1 1018,1584.6 1020.6,1587.6 1022.9,1592.1 1026.3,1572.1 1028.6,1599.7 1031.6,1633.7 1035,1624.2 1037.6,1595.9 1041.4,1577 1043.7,1578.9 1047.8,1572.5 1050.1,1605.3 1052.3,1654.4 1055.4,1688.4 1058.4,1677.1 1061.4,1700.9 1065.9,1672.2 1068.2,1684.6 1071.2,1665.7 1074.2,1638.6 1077.6,1624.2 1082.2,1588.4 1085.6,1577.8 1087.8,1550.6 1090.5,1541.2 1094.3,1517.8 1097.7,1500.8 1101,1498.5 1105.2,1498.5 1109.4,1483.4 1112.4,1473.2 1115.4,1477 1118.4,1467.6 1120.7,1487.2 1122.6,1522.3 1124.5,1557.4 1127.9,1548.7 1131.6,1522.3 1135,1611 1137.7,1603.5 1140.7,1615.5 1144.1,1636.7 1146.7,1614.8 1149.7,1598.9 1152.8,1624.2 1155.4,1604.2 1158.4,1656.3 1161.8,1677.1 1165.2,1654.4 1167.9,1609.1 1170.9,1569.5 1173.9,1544.9 1176.9,1531.7 1180.7,1526.1 1183.7,1518.5 1186,1554.4 1189,1537.4 1191.7,1528 1193.9,1551.4 1196.6,1540 1200,1514 1203.7,1512.1 1206,1561.9 1209.8,1550.6 1212.4,1573.3 1215.1,1622.3 1216.9,1662 1218.8,1694.1 1221.9,1731.1 1224.1,1689.2 1227.9,1680.8 1229.8,1705.4 1233.2,1702.7 1235.8,1640.5 1238.8,1634.8 1241.9,1604.6 1245.3,1626.1 1247.5,1596.7 1250.2,1580.1 1254.3,1572.5 1257,1591.4 1258.9,1593.3 1261.9,1566.8 1265.3,1575.1 1267.9,1558.2 1271.7,1569.5 1274.3,1556.3 1277.7,1543.8 1281.5,1532.5 1284.9,1523.4 1288.7,1516.6 1291.7,1505.3 1295.5,1494 1297.7,1520.4 1300.4,1507.2 1304.2,1498.9 1307.6,1507.2 1310.2,1499.6 1312.1,1483.8 1315.5,1488.3 1317.7,1518.5 1321.1,1495.9 1324.2,1522.3 1327.9,1589.5 1330.2,1573.3 1333.6,1556.3 1336.2,1531.7 1339.6,1515.5 1342.3,1528 1344.9,1523.4 1348.3,1520.4 1351,1546.1 1354.4,1588.4 1357,1567.6 1360,1642.3 1362.7,1656.3 1365.7,1673.3 1369.5,1734.8 1371.7,1739.4 1374,1689.5 1378.9,1687.6 1381.2,1646.9 1383.8,1616.7 1386.5,1615.5 1389.5,1586.5 1392.1,1555.5 1395.1,1611 1398.2,1594 1401.2,1572.5 1403.4,1582.7 1407.2,1561.9 1409.9,1597.8 1412.9,1595.2 1415.5,1576.3 1418.9,1617.8 1421.6,1647.6 1426.5,1637.4 1430.2,1685.4 1433.6,1685.4 1435.9,1666.9 1439.7,1648 1442.7,1632.9 1445.7,1607.2 1448,1584.6 1450.3,1634.8 1453.3,1672.2 1457.8,1712.2 1460.4,1694.1 1464.2,1682 1469.1,1690.3 1471.8,1731.8 1475.5,1688.4 1477.4,1699.7 1479.7,1671.4 1482.3,1647.6 1485.4,1618.6 1488,1602.7 1490.3,1659.3 1492.2,1628 1495.2,1631.8 1498.2,1692.2 1501.2,1711 1503.5,1731.8 1506.9,1701.6 1509.9,1675.2 1512.9,1665 1515.6,1682.7 1518.2,1665 1521.2,1629.9 1523.9,1620.4 1526.1,1616.7 1528.4,1623.1 1531.4,1605.3 1533.7,1597.8 1536.3,1619.7 1538.6,1646.9 1540.1,1639.3 1543.5,1687.3 1545.4,1645 1547.7,1671.4 1550.7,1684.6 1553.7,1700.5 1557.8,1655.6 1560.5,1682.7 1565.4,1680.1 1569.5,1691 1572.2,1745 1575.2,1763.9 1578.2,1779.8 1581.2,1759.4 1583.9,1739.4 1587.3,1736.7 1589.6,1708 1593.7,1708 1596.4,1729.9 1598.6,1755.6 1600.5,1784.7 1603.9,1795.2 1606.2,1804.3 1608.1,1822.4 1609.9,1828.8 1612.6,1807.3 1615.6,1782 1618.6,1762 1621.6,1752.6 1624.7,1765.8 1628.1,1784.7 1631.1,1799.8 1633.7,1813 1636.4,1816.8 1639.4,1818.6 1642.8,1813 1645.8,1796 1648.8,1805.4 1651.8,1814.1 1655.2,1817.5 1657.5,1808.4 1660.5,1814.9 1663.5,1818.6 1666.2,1788.4 1670,1782 1673,1762 1676,1743.1 1679,1731.8 1681.7,1723.1 1684.3,1739.4 1687.3,1729.9 1690.4,1697.8 1693,1685.8 1696,1665.7 1699.4,1675.2 1700,1675.2 1701.9,1615.5 1705.3,1628 1707.9,1613.6 1711.3,1614.8 1714,1611 1717.7,1592.9 1721.1,1557.4 1724.2,1541.2 1727.6,1624.2 1731.7,1647.6 1734.4,1643.1 1737.8,1654.4 1740.4,1683.5 1743.8,1697.8 1746.4,1690.3 1749.5,1689.5 1751.7,1672.5 1755.5,1680.1 1758.9,1696.7 1761.5,1708 1764.2,1729.9 1767.2,1719.7 1770.6,1735.6 1773.2,1751.8 1775.9,1763.1 1779.3,1759.4 1781.5,1695.2 1783.8,1714.8 1787.2,1714.8 1789.5,1732.9 1792.9,1726.1 1795.9,1741.2 1799.7,1767.7 1801.9,1701.6 1804.9,1724.3 1808,1726.1 1811.4,1740.1 1814,1716.7 1817.8,1720.5 1819.7,1743.1 1823.1,1736.7 1826.5,1743.1 1829.5,1748 1832.1,1773.3 1834.8,1776.4 1837.8,1783.9 1840.4,1796 1843.5,1810 1847.2,1788.4 1851.4,1765.8 1855.2,1768.8 1857.8,1782 1861.6,1760.1 1865,1762 1868,1765 1870.6,1742.4 1873.7,1720.5 1876.3,1709.2 1878.9,1686.5 1882.3,1665.7 1885,1669.5 1888,1660.1 1891.4,1658.2 1894,1620.4 1897.8,1605.3 1900.1,1648.8 1903.9,1669.5 1908,1626.9 1911,1629.9 1914.1,1622.3 1917.4,1621.2 1920.1,1590.2 1923.5,1592.1 1927.3,1585.7 1929.9,1583.8 1932.9,1650.6 1935.9,1669.5 1939.7,1640.5 1942,1631.8 1944.6,1640.5 1947.7,1640.5 1949.9,1679.7 1953.7,1582.7 1956.3,1580.8 1960.5,1563.8 1963.5,1550.6 1968,1568.7 1971.8,1558.2 1976,1531.7 1979.7,1569.5 1982.8,1550.6 1985.4,1546.8 1988.4,1611 1992.6,1592.1 1994.5,1580.8 1998.2,1632.5 2001.3,1595.9 2005.8,1550.6 2009.2,1548.7 2011.8,1536.3 2015.6,1535.5 2017.9,1505.3 2021.3,1482.7 2023.5,1467.6 2025.8,1565.7 2028.8,1554.4 2031.5,1538.1 2036,1534.4 2039,1563.8 2042,1578.9 2044.3,1582.7 2047.3,1575.1 2050,1541.2 2053.7,1531 2055.6,1572.5 2059,1535.5 2062,1511 2065.8,1554.4 2068.5,1535.5 2071.9,1533.6 2074.1,1602.7 2077.5,1601.6 2080.2,1679 2082.8,1635.5 2086.6,1621.6 2088.5,1642 2091.9,1602.3 2094.5,1591.4 2097.5,1592.1 2099.8,1635.5 2103.2,1631.8 2106.2,1608.4 2109.2,1605.3 2111.9,1581.9 2114.9,1594 2117.9,1700.5 2121.7,1728.8 2124.3,1697.1 2127,1675.2 2130.4,1639.3 2133.4,1667.6 2136.8,1662 2139.4,1663.9 2142.1,1636.3 2145.5,1641.2 2147.7,1646.9 2150,1605.3 2153.4,1612.9 2156,1631.8 2158.7,1611 2162.1,1577 2165.5,1586.5 2168.5,1571.4 2171.1,1554.4 2173.8,1531.7 2176.4,1554.4 2179.8,1526.1 2183.6,1514 2187.4,1541.2 2190,1561.9 2192.3,1605.3 2194.9,1591.4 2198.7,1634.8 2201.3,1616.7 2204.4,1594 2206.6,1584.6 2209.6,1561.9 2212.3,1558.2 2215.3,1580.8 2218,1631 2221.7,1678.2 2225.9,1646.9 2228.9,1641.2 2232.3,1607.2 2235.3,1584.6 2238.7,1565.7 2242.5,1558.2 2245.5,1554.4 2248.2,1594 2250.8,1577 2254.2,1552.5 2258,1575.1 2259.9,1573.3 2262.5,1616.7 2265.5,1562.7 2268.2,1578.9 2271.6,1574.4 2274.6,1567.6 2277.6,1553.2 2280.2,1549.8 2282.9,1577 2285.9,1580.1 2289.7,1575.1 2292.7,1571.4 2295.3,1560 2298.4,1537.4 2301,1533.6 2304.4,1522.3 2307.8,1515.9 2310.4,1529.8 2313.1,1590.2 2316.5,1635.5 2318.4,1636.7 2322.1,1687.3 2324.4,1612.9 2328.2,1594 2331.6,1609.1 2334.2,1614.8 2336.5,1647.6 2340.3,1614.8 2342.2,1622.3 2345.6,1675.9 2348.2,1647.6 2351.2,1652.5 2353.9,1668.4 2356.9,1648.8 2359.5,1629.1 2361.4,1629.9 2364.1,1658.2 2366.7,1629.9 2369.7,1649.9 2372.7,1640.5 2375.8,1616.7 2378.4,1602.3 2381,1612.1 2383.7,1590.2 2385.9,1569.5 2389.3,1554.4 2392,1535.5 2395,1537.4 2397.3,1519.6 2400.7,1520.4 2402.9,1507.2 2406.7,1499.6 2409.7,1518.5 2412.8,1507.2 2415.8,1495.9 2419.5,1480.8 2422.2,1467.6 2425.6,1467.6 2428.2,1552.5 2431.6,1541.2 2434.3,1499.6 2437.3,1488.3 2439.2,1467.6 2449,1467.6 2451.6,1499.6 2455,1467.6 2466.4,1467.6 2468.6,1484.5 2471.6,1497.8 2475,1478.1 2477.7,1467.6 2496.6,1467.6 2498.8,1490.2 2502.2,1543.1 2505.2,1537.4 2507.9,1516.6 2510.9,1492.1 2513.5,1478.1 2515.8,1467.6 2517.7,1477 2519.6,1497.8 2522.2,1478.9 2526.8,1475.9 2530.5,1467.6 2537.3,1467.6 2538.1,1526.1 2540,1613.6 2543,1588.4 2546.4,1561.9 2550,1546.1 2553,1580.8 2556,1601.6 2558.3,1550.6 2562.1,1561.9 2564.3,1569.5 2565.9,1591.4 2568.9,1584.6 2572.3,1558.9 2575.3,1586.5 2577.6,1572.5 2579.8,1607.2 2582.1,1633.7 2584.4,1634.4 2587.4,1609.1 2590.4,1657.4 2593.8,1669.5 2596.4,1647.6 2600.6,1647.6 2602.5,1666.9 2605.9,1665.7 2608.5,1709.2 2612.3,1745 2616.1,1679.7 2619.1,1681.6 2621.7,1688.4 2625.5,1712.9 2627.8,1707.3 2631.2,1728.8 2633.8,1745.8 2637.6,1753.3 2640.6,1763.9 2643.6,1769.6 2645.9,1794.1 2648.9,1760.1 2651.9,1734.5 2654.9,1756.4 2658,1774.1 2661.7,1762 2665.1,1735.6 2667.8,1720.5 2670.1,1726.1 2672.7,1709.2 2675,1701.6 2676.8,1703.5 2679.9,1722.4 2684,1701.6 2686.7,1709.2 2689.7,1707.3 2692.7,1690.3 2695.7,1672.2 2699.1,1701.6 2701.8,1668.4 2704.8,1669.5 2707.8,1662 2711.2,1672.2 2714.2,1693.3 2718.8,1698.6 2723.7,1706.1 2726.3,1669.5 2730.1,1663.9 2733.1,1668.8 2736.5,1684.6 2739.5,1690.3 2741,1645 2744,1669.5 2746.3,1641.2 2749.3,1653.3 2752,1689.2 2755.7,1695.9 2758.4,1708 2761.4,1726.1 2764.1,1751.4 2767.1,1742.4 2770.1,1759.4 2773.9,1781.6 2775.8,1784.7 2779.5,1756.4 2781.8,1764.7 2785.2,1742.4 2787.8,1698.6 2790.9,1687.6 2793.9,1710.3 2795.4,1691 2798.8,1695.9 2801,1714.1 2803.7,1707.3 2806.7,1688.4 2809,1672.2 2812,1655.2 2814.3,1654.4 2816.5,1671.4 2818.4,1687.6 2820.3,1686.5 2822.6,1707.3 2825.6,1740.1 2829,1750.7 2832,1772.6 2835,1805.4 2838,1821.3 2841.1,1793 2843.7,1749.6 2848.2,1749.9 2850.1,1778.2 2852,1777.1 2853.9,1746.2 2855.8,1728 2858.1,1759.4 2861.5,1760.1 2863.7,1790.3 2867.1,1797.9 2869.8,1813 2873.5,1822.4 2876.6,1788.4 2879.6,1760.1 2881.1,1766.9 2884.1,1753.3 2886.7,1741.2 2889.8,1731.1 2892,1724.3 2895.4,1732.9 2897.3,1741.2 2900,1751.4 2903.7,1721.2 2906,1726.1 2909,1724.3 2912,1704.6 2913.9,1720.5 2916.6,1735.6 2919.6,1754.5 2923.4,1714.8 2925.6,1734.8 2928.3,1729.9 2931.3,1726.1 2933.9,1724.3 2937,1729.9 2939.6,1701.6 2942.6,1680.8 2944.9,1688.4 2947.9,1692.9 2950.2,1710.3 2953.2,1709.2 2955.8,1707.3 2958.5,1722.4 2961.9,1770.3 2964.9,1756.4 2967.5,1736.3 2969.4,1741.2 2971.7,1714.1 2973.6,1694.1 2975.8,1711 2979.2,1685.8 2982.3,1666.9 2986,1668.8 2989.8,1663.9 2993.2,1662 2996.2,1671.4 2999.2,1683.9 3003,1679 3005.7,1674.4 3009.1,1655.6 3012.1,1612.9 3015.5,1590.2 3018.5,1568.3 3021.1,1534.7 3023.4,1507.2 3025.7,1490.2 3027.9,1475.9 3029.8,1495.9 3032.1,1561.9 3034.7,1541.2 3037.8,1516.6 3040.8,1499.6 3044.2,1478.1 3047.6,1526.1 3050.2,1546.8 3053.2,1532.9 3056.2,1532.5 3059.6,1514.7 3061.9,1547.6 3065.3,1541.2 3068.3,1524.2 3071.4,1511 3074,1492.1 3077.8,1483.4 3080,1503.4 3081.9,1541.2 3083.8,1592.1 3086.1,1549.8 3089.8,1547.6 3092.9,1543.1 3096.3,1546.8 3098.2,1535.5 3100,1511 3101.9,1541.2 3104.2,1590.2 3106.5,1595.2 3109.1,1571.4 3112.1,1541.2 3114.4,1548.7 3116.7,1575.1 3118.9,1618.6 3121.9,1668.4 3124.2,1639.3 3127.2,1658.2 3130.2,1626.1 3134,1660.8 3136.3,1656.3 3139.7,1643.9 3142.7,1645 3145.7,1640.5 3147.2,1588.4 3149.5,1574 3152.9,1594.8 3155.9,1592.1 3158.9,1592.9 3161.6,1595.9 3165.4,1592.1 3167.6,1577 3171.4,1580.1 3174,1612.9 3176.7,1590.2 3178.9,1569.5 3181.2,1561.2 3183.5,1554.4 3185.7,1566.5 3189.5,1552.5 3192.5,1588.4 3195.2,1605.3 3198.6,1594 3200.8,1580.1 3203.1,1556.3 3205.7,1533.6 3209.1,1499.6 3211.8,1493.2 3213.7,1528 3215.2,1584.6 3217.4,1580.8 3219.3,1620.4 3222,1672.5 3223.9,1646.9 3227.3,1631.8 3230.3,1612.9 3233.7,1592.1 3235.9,1640.5 3239.3,1645.7 3241.6,1641.2 3243.5,1660.1 3246.1,1685.8 3248.4,1662 3251.4,1660.1 3254.1,1629.1 3257.1,1631 3259.4,1645 3261.6,1672.5 3263.9,1697.8 3266.1,1738.6 3268.4,1712.9 3272.2,1704.6 3275.2,1712.2 3277.9,1725.4 3280.5,1688.4 3284.3,1687.3 3286.2,1697.1 3288,1669.5 3289.9,1620.4 3292.2,1635.5 3295.2,1629.1 3297.5,1588.4 3300.5,1569.5 3303.5,1560 3307.3,1603.5 3309.6,1567.6 3313.7,1567.6 3316.4,1555.1 3319.4,1568.3 3322.8,1547.6 3325.8,1548.7 3327.7,1543.8 3329.9,1573.3 3331.5,1611 3333.7,1637.4 3335.6,1626.1 3337.9,1648 3340.5,1665 3342.8,1646.9 3345.8,1682.7 3348.1,1628.8 3350.3,1631.8 3354.1,1666.5 3357.5,1626.1 3360.5,1643.9 3363.2,1675.9 3365.4,1675.2 3369.6,1661.2 3371.9,1678.2 3374.9,1677.8 3377.9,1665.7 3379.8,1645 3382,1624.2 3384.7,1621.2 3387.3,1623.1 3390,1624.2 3392.2,1678.2 3394.9,1648.8 3397.5,1628 3401.3,1612.9 3403.9,1589.5 3406.2,1611 3408.1,1633.7 3410,1663.1 3412.6,1654.4 3416,1629.9 3418.3,1641.2 3420.9,1651.8 3423.2,1652.5 3425.8,1668.8 3428.1,1694.1 3430.4,1660.1 3431.9,1642.3 3434.5,1652.5 3437.2,1667.6 3439.4,1690.3 3441.7,1714.8 3444,1741.2 3446.2,1755.6 3448.2,1725.3 3453.9,1691.6 3458.1,1701.9 3459.9,1727.9 3464.3,1725.3" fill="none" stroke="#7e57c2" stroke-width="2" stroke-linejoin="round"/>
<polyline points="66.1,1467.6 69.8,1497.8 77.4,1528 86.8,1550.6 96.3,1584.6 105.7,1626.1 115.1,1660.1 124.6,1686.5 130.2,1697.8 135.9,1711 145.3,1729.9 152.9,1741.2 158.6,1752.6 162.3,1755.2 168,1747.7 173.7,1743.9 179.3,1741.2 185,1743.9 190.6,1735.6 196.3,1724.3 202,1712.9 207.6,1706.1 213.3,1700.9 220.8,1699.7 228.4,1701.6 237.8,1706.1 247.3,1707.3 256.7,1709.2 264.3,1701.6 269.9,1690.3 275.6,1675.2 281.2,1660.1 286.9,1645 292.6,1629.9 298.2,1620.4 303.9,1607.2 309.6,1594 315.2,1580.8 320.9,1567.6 324.7,1560 328.4,1554.4 332.2,1560 336.7,1567.6 341.7,1573.3 346.6,1586.5 351.1,1605.3 356.8,1629.9 361.7,1650.6 366.2,1665.7 370,1674.4 375.6,1673.3 381.3,1669.5 388.8,1664.6 394.5,1662 400.2,1665.7 405.8,1668.4 411.5,1668.8 419,1663.1 426.6,1658.2 436,1655.2 441.7,1663.9 447.4,1668.8 453,1671.4 458.7,1673.3 466.2,1679 471.9,1684.6 477.6,1687.6 483.2,1685.4 488.9,1684.6 494.5,1692.2 500.2,1699.7 505.9,1709.2 511.5,1714.8 517.2,1714.8 522.9,1709.2 528.5,1699.7 534.2,1684.6 539.8,1660.1 545.5,1637.4 549.3,1624.2 554.9,1611 560.6,1603.5 566.3,1602.7 571.9,1599.7 579.5,1595.2 585.2,1588.4 592.7,1582.7 600.3,1576.3 607.8,1567.6 615.4,1560 622.9,1554.4 628.6,1548.7 634.2,1537.4 639.9,1522.3 645.6,1520.4 649.3,1518.5 653.9,1516.6 657.6,1520.4 661.4,1539.3 666.3,1560 672,1578.9 677.6,1592.1 683.3,1607.2 689,1620.4 694.6,1626.1 702.2,1633.7 709.7,1641.2 715.4,1647.6 719.2,1645.7 724.8,1637.4 732.4,1636.3 738,1637.4 743.7,1640.1 749.4,1637.4 755,1635.5 760.7,1638.2 766.4,1634.4 772,1628 776.9,1618.6 783.3,1616.7 789,1612.9 796.6,1609.1 804.1,1601.6 811.7,1592.1 817.3,1580.8 823,1567.6 828.6,1560 834.3,1558.2 840,1551.4 847.5,1547.6 850,1544.9 857.6,1543.8 865.1,1548.7 872.7,1547.6 880.2,1551.4 887.8,1547.6 892.3,1549.5 897.2,1561.9 902.9,1573.3 908.5,1586.5 914.2,1594 919.8,1598.9 925.5,1596.7 931.2,1590.2 936.1,1578.9 942.5,1561.9 948.2,1550.6 953.8,1539.3 958.7,1528 963.3,1518.5 968.9,1505.3 974.6,1492.1 980.2,1480.8 985.9,1475.1 991.6,1472.5 997.2,1475.1 1002.9,1476.2 1008.6,1480.8 1013.1,1488.3 1018,1503.4 1023.7,1518.5 1029.3,1533.6 1035,1546.8 1040.6,1554.4 1046.3,1558.9 1050.1,1569.5 1055.7,1590.2 1061.4,1605.3 1067.1,1618.6 1072.7,1624.2 1076.5,1625.4 1082.2,1620.4 1087.8,1611 1093.5,1597.8 1099.2,1582.7 1104.8,1567.6 1110.5,1554.4 1116.1,1541.2 1121.1,1529.8 1125.6,1533.6 1131.2,1534.4 1136.9,1546.8 1142.6,1560 1148.2,1567.6 1153.9,1575.1 1159.6,1584.6 1163.3,1594 1167.9,1600.4 1172.8,1594 1178.4,1582.7 1184.1,1575.1 1189.8,1569.5 1195.4,1563.8 1201.1,1557.4 1204.9,1552.5 1210.5,1554.4 1214.3,1560 1218.1,1577 1223.7,1597.8 1229.4,1614.8 1235.1,1624.2 1240.7,1625.4 1246.4,1623.1 1252.1,1616.7 1257.7,1611 1263.4,1605.3 1269,1597.8 1274.7,1590.2 1280.4,1580.8 1286,1571.4 1291.7,1561.9 1297.4,1552.5 1303,1543.8 1308.7,1535.5 1314.3,1528 1320,1523.4 1323.8,1521.2 1328.7,1529.8 1335.1,1534.7 1340.8,1531.7 1348.3,1530.6 1354,1537.4 1359.6,1548.7 1364.2,1567.6 1369.1,1586.5 1372.9,1603.5 1376.6,1616.7 1381.2,1624.2 1386.1,1620.4 1391.7,1612.9 1397.4,1612.1 1403.1,1607.2 1408.7,1602.7 1416.3,1599.7 1420.8,1601.6 1425.7,1609.1 1431.4,1618.6 1437,1628 1442.7,1631 1450.3,1625 1455.9,1637.4 1461.6,1646.9 1467.2,1656.3 1472.9,1663.9 1478.6,1668.8 1484.2,1663.9 1489.9,1656.3 1495.6,1653.7 1501.2,1662 1506.9,1670.7 1512.5,1672.2 1518.2,1672.5 1523.9,1665.7 1529.5,1656.3 1535.2,1648 1540.9,1646.9 1548.4,1651.8 1554.1,1658.2 1559.7,1662 1569.2,1666.9 1574.8,1682.7 1580.5,1695.9 1586.2,1704.6 1591.8,1706.1 1595.6,1708 1601.3,1720.5 1606.9,1735.6 1612.6,1749.9 1618.2,1755.2 1623.9,1756.4 1629.6,1762 1635.2,1769.6 1640.9,1778.2 1646.6,1782.8 1652.2,1786.6 1657.9,1791.1 1665.4,1796 1671.1,1794.1 1676.8,1787.7 1682.4,1779 1688.1,1769.6 1693.8,1756.4 1699.4,1743.1 1700,1739.4 1705.7,1718.6 1711.3,1697.8 1717,1679 1722.7,1662 1727.2,1651.4 1732.1,1649.5 1737.8,1650.6 1743.4,1658.2 1749.1,1663.1 1756.6,1667.6 1764.2,1677.1 1771.7,1690.3 1779.3,1704.6 1786.8,1706.1 1794.4,1712.2 1801.2,1717.5 1807.6,1717.8 1813.3,1720.5 1818.9,1718.6 1824.6,1723.5 1830.2,1728 1835.9,1737.5 1841.6,1748.8 1846.5,1757.5 1851,1759 1856.7,1762 1862.3,1761.3 1868,1762 1873.7,1756.4 1879.3,1745 1885,1731.8 1890.6,1716.7 1896.3,1703.5 1900.1,1694.8 1905.7,1688.4 1911.4,1677.1 1917.1,1666.5 1922.7,1656.3 1928.4,1645 1932.2,1641.2 1937.8,1645 1943.5,1643.9 1949.2,1644.2 1954.8,1635.5 1960.5,1622.3 1966.1,1611 1971.8,1603.5 1977.5,1594 1983.1,1587.2 1986.9,1585.7 1992.6,1588.4 1998.2,1592.1 2002,1593.3 2007.7,1586.5 2013.3,1578.9 2017.9,1569.5 2022.8,1554.4 2026.6,1551.7 2032.2,1550.6 2036.7,1549.8 2041.7,1554.4 2047.3,1557 2053,1553.6 2058.6,1552.5 2064.3,1548.7 2069.2,1547.6 2073.7,1550.6 2079.4,1567.6 2085.1,1580.8 2090.7,1586.5 2096.4,1588.4 2102.1,1594 2107.7,1597.8 2115.3,1597 2119,1611 2124.7,1626.1 2130.4,1632.9 2136,1638.2 2141.7,1640.5 2147.4,1638.2 2153,1635.5 2158.7,1633.7 2164.3,1626.1 2170,1616.7 2175.7,1605.3 2181.3,1590.2 2187,1580.1 2190.8,1580.1 2196.4,1586.5 2201.3,1591 2207.8,1588.4 2213.4,1584.6 2219.1,1592.1 2224.7,1603.5 2230.4,1611 2236.1,1607.2 2241.7,1599.7 2247.4,1594.8 2253.1,1590.2 2258.7,1589.1 2264.4,1588.4 2270.1,1585.3 2275.7,1582.7 2281.4,1578.2 2287,1577.8 2292.7,1576.3 2298.4,1570.6 2304,1563.8 2308.6,1557.4 2311.6,1558.2 2316.1,1573.3 2321,1586.5 2326.7,1589.1 2332.3,1594 2338,1599.7 2343.7,1609.1 2349.3,1616.7 2355,1622.3 2360.7,1626.1 2366.3,1629.1 2372,1631.8 2377.6,1628 2383.3,1620.4 2389,1611 2394.6,1597.8 2400.3,1584.6 2406,1571.4 2411.6,1560 2417.3,1548.7 2421.8,1537.4 2425.6,1533.6 2430.5,1534.7 2436.2,1528 2441.8,1516.6 2447.5,1507.2 2453.1,1502.3 2458.8,1494.7 2464.5,1486.4 2470.1,1485.7 2475.8,1482.7 2481.5,1477 2487.1,1472.1 2498.4,1471.3 2504.1,1479.6 2509.8,1483.4 2515.4,1481.9 2521.1,1483.4 2526.8,1480.8 2532.4,1477 2537.3,1474.3 2541.9,1490.2 2547.5,1505.3 2550,1507.2 2555.7,1520.4 2561.3,1529.8 2567,1537.4 2572.7,1543.1 2578.3,1550.6 2584,1561.9 2587.8,1569.5 2593.4,1580.8 2599.1,1594 2604.7,1607.2 2610.4,1624.2 2616.1,1641.2 2621.7,1650.6 2627.4,1660.1 2633.1,1671.4 2638.7,1686.5 2644.4,1701.6 2648.2,1709.9 2653.8,1716.7 2659.5,1724.3 2664,1728.8 2668.9,1727.3 2674.6,1723.1 2682.1,1721.2 2687.8,1718.6 2693.5,1714.8 2699.1,1708.4 2704.8,1703.5 2710.4,1697.8 2716.1,1695.9 2723.7,1697.8 2729.3,1691 2735,1688.4 2740.6,1682.7 2746.3,1678.2 2750.8,1677.1 2755.7,1679 2761.4,1686.5 2767.1,1695.9 2772.7,1709.2 2778.4,1719.7 2784.1,1726.1 2789.7,1722.4 2795.4,1717.5 2801,1714.8 2806.7,1713.7 2812.4,1705.4 2818,1699 2822.6,1698.6 2827.5,1707.3 2833.1,1720.5 2838.8,1731.8 2843.7,1739.4 2848.2,1741.2 2852,1746.9 2856.5,1747.7 2861.5,1748.8 2866.4,1756.4 2870.9,1763.9 2875.4,1769.6 2880.3,1769.6 2886,1766.5 2891.7,1760.1 2897.3,1758.2 2903,1755.6 2908.6,1748.8 2914.3,1741.2 2920,1741.2 2925.6,1739.4 2931.3,1736.7 2937,1734.8 2942.6,1726.1 2948.3,1721.6 2953.9,1719.4 2957.7,1718.6 2962.2,1724.3 2967.2,1728.8 2971.7,1728.8 2976.6,1723.5 2982.3,1718.6 2987.9,1709.9 2993.6,1701.6 2999.2,1697.1 3004.9,1694.1 3009.8,1688.4 3014.3,1677.1 3020,1656.3 3024.9,1629.9 3029.4,1611 3035.1,1595.9 3040.8,1580.8 3044.5,1571.4 3050.2,1565.7 3055.9,1560 3061.5,1556.3 3067.2,1553.6 3072.9,1546.8 3076.6,1539.3 3080.4,1533.6 3084.2,1538.5 3089.8,1540 3095.5,1541.2 3100.4,1538.5 3104.9,1544.9 3110.6,1550.6 3115.5,1550.6 3120.1,1561.9 3125.7,1575.1 3131.4,1586.5 3137,1597.8 3142.7,1607.2 3146.5,1610.3 3152.1,1605.3 3157.8,1603.5 3163.5,1601.6 3169.1,1597.8 3174.8,1596.7 3180.5,1592.1 3186.1,1586.5 3191.8,1582.7 3197.4,1586.5 3201.2,1585.7 3206.9,1577 3210.7,1563.8 3213.3,1561.2 3217.4,1565.7 3222,1577 3227.6,1586.5 3233.3,1590.2 3239,1599.7 3244.6,1609.1 3250.3,1618.6 3256,1622.3 3261.6,1631.8 3267.3,1646.9 3272.9,1658.2 3278.6,1665.7 3284.3,1670.7 3286.9,1672.5 3291.8,1666.9 3297.5,1658.2 3303.1,1643.1 3308.8,1633.7 3314.5,1622.3 3320.1,1611 3325.8,1599.7 3330.3,1592.1 3335.2,1601.6 3340.9,1611 3346.6,1618.6 3352.2,1622.3 3357.9,1624.2 3363.5,1631.8 3369.2,1637.4 3374.9,1643.1 3379.4,1646.9 3384.3,1643.1 3390,1639.3 3395.6,1643.1 3401.3,1638.2 3406.2,1633.7 3410.7,1635.5 3416.4,1636.3 3422.1,1638.6 3427.7,1645 3433.4,1646.9 3439.1,1649.9 3444,1660.1 3446.6,1671.4 3448.2,1676 3456,1681.2 3464.3,1690.3" fill="none" stroke="#ff9800" stroke-width="2.1" stroke-linejoin="round"/>
<path d="M1292 1471.1L1553.2 1607.1" stroke="#e8384f" stroke-width="6" stroke-dasharray="6 12.03" fill="none"/>
<path d="M3212.9 1479.6L3443.1 1598.2" stroke="#e8384f" stroke-width="6" stroke-dasharray="6 12.06" fill="none"/>
</g>
<text class="lg" x="36.5" y="1509" textLength="337" lengthAdjust="spacing" xml:space="preserve">RSI (14, close)  <tspan fill="#7e57c2">37.36</tspan>  <tspan fill="#ff9800">43.26</tspan></text>
<path d="M20 1927.6H3521.2M20 2151.6H3521.2" stroke="#cfd0d9" stroke-width="2" fill="none"/>
<path d="M20 2039.6H3521.2" stroke="#cfd2dc" stroke-width="2" fill="none"/>
<path d="M20 2039.6H3521.2" stroke="#96989e" stroke-width="1.8" stroke-dasharray="11.5 10.5" fill="none"/>
<g clip-path="url(#cd)">
<path shape-rendering="crispEdges" d="M23.3 2039.6V2038.6M26.3 2039.6V2037.8M29.2 2039.6V2037.2M32.2 2039.6V2036.1M35.1 2039.6V2034.6M38.1 2039.6V2033.3M41 2039.6V2032.4M55.8 2039.6V2033.8M58.7 2039.6V2033M61.7 2039.6V2032.2M167.9 2039.6V2037.7M170.9 2039.6V2036.4M173.8 2039.6V2035.4M176.8 2039.6V2035.3M185.6 2039.6V2036.3M191.5 2039.6V2035.4M194.5 2039.6V2034.3M197.4 2039.6V2032.4M200.4 2039.6V2030.9M247.6 2039.6V2038.9M250.5 2039.6V2038.6M253.5 2039.6V2038.2M259.4 2039.6V2038.3M262.3 2039.6V2038M265.3 2039.6V2037.4M268.2 2039.6V2037M271.2 2039.6V2036.6M274.1 2039.6V2036.2M277.1 2039.6V2036.2M280 2039.6V2036M283 2039.6V2035.8M285.9 2039.6V2035.6M288.9 2039.6V2035.4M291.8 2039.6V2035.3M309.5 2039.6V2036.4M324.3 2039.6V2037M386.2 2039.6V2038.8M389.2 2039.6V2038.6M392.1 2039.6V2038.5M415.7 2039.6V2038.8M418.7 2039.6V2038.4M424.6 2039.6V2038.4M427.5 2039.6V2038.2M521.9 2039.6V2038.9M524.9 2039.6V2038.7M527.8 2039.6V2038.3M530.8 2039.6V2038.2M533.7 2039.6V2037.7M536.7 2039.6V2037.4M539.6 2039.6V2037.3M542.6 2039.6V2037.1M545.5 2039.6V2036.7M619.3 2039.6V2038.7M622.3 2039.6V2038.7M628.2 2039.6V2038.9M631.1 2039.6V2038.6M634.1 2039.6V2038M637 2039.6V2037.7M640 2039.6V2037.4M725.5 2039.6V2038.9M728.5 2039.6V2038.7M731.4 2039.6V2038.5M755 2039.6V2039M775.7 2039.6V2038.8M778.6 2039.6V2038.5M793.4 2039.6V2038.8M796.3 2039.6V2038.8M805.2 2039.6V2039M808.1 2039.6V2038.6M811.1 2039.6V2038.1M814 2039.6V2037.9M817 2039.6V2037.5M825.8 2039.6V2037.5M840.6 2039.6V2037.9M849.4 2039.6V2038.3M932 2039.6V2038.8M935 2039.6V2038.2M937.9 2039.6V2037.6M940.9 2039.6V2037.3M943.8 2039.6V2037M946.8 2039.6V2036.6M949.7 2039.6V2036.1M952.7 2039.6V2035.9M955.6 2039.6V2035.3M958.6 2039.6V2034.9M961.5 2039.6V2034.7M970.4 2039.6V2035M973.3 2039.6V2034.7M976.3 2039.6V2034.4M979.2 2039.6V2033.8M982.2 2039.6V2033.7M1085.5 2039.6V2038.6M1088.4 2039.6V2036.9M1091.4 2039.6V2035.6M1094.3 2039.6V2034.4M1097.3 2039.6V2033.3M1100.2 2039.6V2032.6M1103.2 2039.6V2032.4M1106.1 2039.6V2032.3M1176.9 2039.6V2036.8M1179.9 2039.6V2034.5M1182.8 2039.6V2033.1M1200.5 2039.6V2035.3M1203.5 2039.6V2035.3M1247.7 2039.6V2038.5M1250.7 2039.6V2036.5M1253.6 2039.6V2035.2M1256.6 2039.6V2034.1M1265.4 2039.6V2034.6M1268.4 2039.6V2034.3M1271.3 2039.6V2034.2M1274.3 2039.6V2034.1M1277.2 2039.6V2033.6M1280.2 2039.6V2033.4M1283.1 2039.6V2033.4M1345.1 2039.6V2038.9M1348 2039.6V2038.4M1392.3 2039.6V2038.5M1395.2 2039.6V2036.8M1398.2 2039.6V2035.6M1401.1 2039.6V2034.7M1404.1 2039.6V2033.7M1407 2039.6V2033.1M1486.7 2039.6V2036.7M1489.6 2039.6V2034.3M1525 2039.6V2036.9M1528 2039.6V2034.7M1530.9 2039.6V2032.9M1533.9 2039.6V2030.8M1660.8 2039.6V2038.6M1663.7 2039.6V2037.8M1666.7 2039.6V2036.3M1669.6 2039.6V2034.5M1672.6 2039.6V2032.6M1675.5 2039.6V2030.6M1678.5 2039.6V2028.9M1681.4 2039.6V2027.4M1684.4 2039.6V2026.7M1687.3 2039.6V2026.5M1690.3 2039.6V2026M1693.2 2039.6V2025.2M1696.2 2039.6V2024.3M1699.1 2039.6V2023.6M1702.1 2039.6V2023M1719.8 2039.6V2025.1M1722.7 2039.6V2024.8M1861.4 2039.6V2039M1864.3 2039.6V2038.6M1867.3 2039.6V2037.9M1870.2 2039.6V2037.5M1873.2 2039.6V2036.6M1876.1 2039.6V2036.2M1879.1 2039.6V2035.5M1882 2039.6V2035M1885 2039.6V2034.9M1887.9 2039.6V2034.6M1890.9 2039.6V2034.5M1893.8 2039.6V2034.2M1896.8 2039.6V2034.2M1914.5 2039.6V2036.7M1955.8 2039.6V2038.9M1958.7 2039.6V2038.3M1961.7 2039.6V2038.2M1964.6 2039.6V2037.4M1967.6 2039.6V2037.2M1970.5 2039.6V2037.1M1979.4 2039.6V2037.5M1982.3 2039.6V2037.3M2008.9 2039.6V2038.8M2011.8 2039.6V2038.1M2017.7 2039.6V2037.7M2020.7 2039.6V2037.3M2023.6 2039.6V2036.8M2026.6 2039.6V2036.8M2041.4 2039.6V2038.6M2059.1 2039.6V2039M2062 2039.6V2038.9M2065 2039.6V2038.2M2067.9 2039.6V2038.1M2070.9 2039.6V2037.9M2150.5 2039.6V2037.9M2153.5 2039.6V2037.6M2159.4 2039.6V2037.4M2162.3 2039.6V2036.7M2165.3 2039.6V2036.7M2168.2 2039.6V2036M2171.2 2039.6V2034.9M2174.1 2039.6V2033.7M2177.1 2039.6V2032.7M2183 2039.6V2032.8M2212.5 2039.6V2037.9M2215.4 2039.6V2036.6M2242 2039.6V2037.5M2244.9 2039.6V2036.6M2250.8 2039.6V2037M2253.8 2039.6V2036.7M2256.7 2039.6V2036.6M2268.5 2039.6V2038.3M2271.5 2039.6V2037.8M2274.4 2039.6V2037.2M2283.3 2039.6V2037.8M2303.9 2039.6V2038.1M2306.9 2039.6V2038.1M2309.8 2039.6V2037.8M2380.6 2039.6V2038.9M2383.6 2039.6V2037.7M2386.5 2039.6V2036.2M2389.5 2039.6V2035.7M2392.4 2039.6V2035.2M2395.4 2039.6V2034.5M2398.3 2039.6V2033.9M2401.3 2039.6V2033.3M2404.2 2039.6V2033.2M2424.9 2039.6V2034.7M2436.7 2039.6V2036M2439.6 2039.6V2034.4M2442.6 2039.6V2032.6M2445.5 2039.6V2031M2448.5 2039.6V2027.7M2451.4 2039.6V2027.5M2454.4 2039.6V2027.1M2457.3 2039.6V2026.6M2460.3 2039.6V2024.6M2463.2 2039.6V2020.5M2466.2 2039.6V2020.1M2475 2039.6V2022.3M2478 2039.6V2020.6M2480.9 2039.6V2019.4M2483.9 2039.6V2018.2M2513.4 2039.6V2038.3M2516.3 2039.6V2034.8M2519.3 2039.6V2032.4M2522.2 2039.6V2031.4M2525.2 2039.6V2029.6M2528.1 2039.6V2026.5M2531.1 2039.6V2021.6M2672.7 2039.6V2035.7M2675.7 2039.6V2029.7M2678.6 2039.6V2027M2681.6 2039.6V2026.6M2684.5 2039.6V2025.4M2687.5 2039.6V2025.2M2693.4 2039.6V2023.7M2696.3 2039.6V2021.2M2699.3 2039.6V2021M2705.2 2039.6V2020.8M2725.8 2039.6V2029.5M2728.8 2039.6V2028.8M2731.7 2039.6V2028.8M2743.5 2039.6V2031M2746.5 2039.6V2030.8M2749.4 2039.6V2030.1M2793.7 2039.6V2038.6M2796.6 2039.6V2036.6M2799.6 2039.6V2034.4M2808.4 2039.6V2035M2811.4 2039.6V2033.5M2814.3 2039.6V2031.4M2817.3 2039.6V2031.3M2891 2039.6V2036M2894 2039.6V2033.9M2896.9 2039.6V2032.7M2899.9 2039.6V2032.3M2902.8 2039.6V2032.1M2905.8 2039.6V2031.4M2908.7 2039.6V2031M2911.7 2039.6V2030.3M2914.6 2039.6V2029.8M2938.2 2039.6V2034.3M2941.2 2039.6V2033.2M2944.1 2039.6V2032.1M2973.6 2039.6V2038.4M2976.6 2039.6V2037.6M2979.5 2039.6V2036.7M2982.5 2039.6V2035.6M2985.4 2039.6V2034.7M2988.4 2039.6V2034.1M2991.3 2039.6V2033.9M2997.2 2039.6V2033.8M3009 2039.6V2035.3M3012 2039.6V2034.9M3014.9 2039.6V2034.3M3017.9 2039.6V2033.4M3020.8 2039.6V2031.3M3023.8 2039.6V2029.7M3026.8 2039.6V2027.6M3029.7 2039.6V2026.3M3041.5 2039.6V2028.9M3044.5 2039.6V2028M3074 2039.6V2036.5M3076.9 2039.6V2035.5M3079.9 2039.6V2035M3100.5 2039.6V2038.1M3153.6 2039.6V2038.5M3156.6 2039.6V2037.6M3159.5 2039.6V2037.5M3165.4 2039.6V2038M3168.4 2039.6V2037.7M3180.2 2039.6V2038.5M3183.1 2039.6V2037.4M3186.1 2039.6V2036.7M3203.8 2039.6V2038.2M3206.7 2039.6V2035.6M3209.7 2039.6V2032.6M3212.6 2039.6V2030.9M3292.3 2039.6V2037.5M3295.2 2039.6V2035.4M3298.2 2039.6V2032M3301.1 2039.6V2028.2M3304.1 2039.6V2025.8M3310 2039.6V2024.9M3312.9 2039.6V2024.7M3315.9 2039.6V2024.6M3389.6 2039.6V2038.4M3401.4 2039.6V2037.4M3404.4 2039.6V2034.7M3407.3 2039.6V2034.7M3416.2 2039.6V2038.4" stroke="#26a69a" stroke-width="1" fill="none"/>
<path shape-rendering="crispEdges" d="M44 2039.6V2032.6M46.9 2039.6V2033.2M49.9 2039.6V2034.1M52.8 2039.6V2034.1M64.6 2039.6V2034.9M179.7 2039.6V2035.9M182.7 2039.6V2036.7M188.6 2039.6V2036.6M203.3 2039.6V2031.2M206.3 2039.6V2032.3M209.2 2039.6V2033M212.2 2039.6V2033.6M215.1 2039.6V2034.5M218.1 2039.6V2035.4M221 2039.6V2036.3M224 2039.6V2037.1M226.9 2039.6V2038.2M229.9 2039.6V2038.6M256.4 2039.6V2038.4M294.8 2039.6V2035.5M297.7 2039.6V2035.6M300.7 2039.6V2035.9M303.6 2039.6V2036.4M306.6 2039.6V2036.5M312.5 2039.6V2036.5M315.4 2039.6V2036.5M318.4 2039.6V2036.8M321.3 2039.6V2037.1M327.2 2039.6V2037.4M330.2 2039.6V2038.2M395.1 2039.6V2038.7M421.6 2039.6V2038.5M430.5 2039.6V2038.4M433.4 2039.6V2038.5M436.4 2039.6V2038.8M548.5 2039.6V2036.9M551.4 2039.6V2036.9M554.4 2039.6V2037.2M557.3 2039.6V2037.6M560.3 2039.6V2038.1M563.2 2039.6V2038.5M566.2 2039.6V2038.5M569.2 2039.6V2038.7M625.2 2039.6V2038.9M642.9 2039.6V2037.5M645.9 2039.6V2037.7M648.8 2039.6V2037.9M651.8 2039.6V2038.2M654.7 2039.6V2038.4M657.7 2039.6V2038.8M734.4 2039.6V2038.9M781.6 2039.6V2038.6M784.5 2039.6V2038.9M819.9 2039.6V2037.5M822.9 2039.6V2037.6M828.8 2039.6V2037.8M831.7 2039.6V2038M834.7 2039.6V2038M837.6 2039.6V2038.1M843.5 2039.6V2038.2M846.5 2039.6V2038.4M852.4 2039.6V2038.5M855.3 2039.6V2038.8M964.5 2039.6V2034.9M967.4 2039.6V2035.1M985.1 2039.6V2034M988.1 2039.6V2034.6M991 2039.6V2035.5M994 2039.6V2036.5M996.9 2039.6V2037M999.9 2039.6V2037M1002.8 2039.6V2037.2M1005.8 2039.6V2038.1M1008.7 2039.6V2038.9M1109.1 2039.6V2032.3M1112 2039.6V2032.8M1115 2039.6V2033.1M1117.9 2039.6V2033.5M1120.9 2039.6V2034.4M1123.8 2039.6V2036M1126.8 2039.6V2037.3M1129.7 2039.6V2038.3M1185.8 2039.6V2033.4M1188.7 2039.6V2034.1M1191.7 2039.6V2034.7M1194.6 2039.6V2035.4M1197.6 2039.6V2035.6M1206.4 2039.6V2035.7M1209.4 2039.6V2036.8M1212.3 2039.6V2037.7M1259.5 2039.6V2034.3M1262.5 2039.6V2034.6M1286.1 2039.6V2033.5M1289 2039.6V2033.7M1292 2039.6V2034M1294.9 2039.6V2034.3M1297.9 2039.6V2034.6M1300.8 2039.6V2035.2M1303.8 2039.6V2035.5M1306.7 2039.6V2036.4M1309.7 2039.6V2037.3M1312.6 2039.6V2037.5M1315.6 2039.6V2037.6M1318.5 2039.6V2038M1321.5 2039.6V2038.7M1351 2039.6V2038.7M1410 2039.6V2033.6M1412.9 2039.6V2034.6M1415.9 2039.6V2035.5M1418.8 2039.6V2035.9M1492.6 2039.6V2035.2M1495.5 2039.6V2035.8M1498.5 2039.6V2036M1536.8 2039.6V2031.2M1539.8 2039.6V2033M1542.7 2039.6V2035.3M1545.7 2039.6V2038.1M1705 2039.6V2023.3M1708 2039.6V2023.6M1710.9 2039.6V2024.7M1713.9 2039.6V2025M1716.8 2039.6V2025.2M1725.7 2039.6V2025.6M1728.6 2039.6V2027.6M1731.6 2039.6V2030.4M1734.5 2039.6V2032.7M1737.5 2039.6V2035.9M1740.4 2039.6V2038.1M1899.7 2039.6V2034.3M1902.7 2039.6V2035.2M1905.6 2039.6V2036M1908.6 2039.6V2036.4M1911.5 2039.6V2036.7M1917.4 2039.6V2036.8M1920.4 2039.6V2036.9M1923.3 2039.6V2037M1926.3 2039.6V2037.1M1929.2 2039.6V2037.1M1932.2 2039.6V2037.6M1935.1 2039.6V2038M1938.1 2039.6V2038.9M1973.5 2039.6V2037.6M1976.4 2039.6V2037.6M1985.3 2039.6V2037.5M1988.2 2039.6V2038.1M1991.2 2039.6V2038.8M2014.8 2039.6V2038.1M2029.5 2039.6V2037.2M2032.5 2039.6V2038.1M2035.4 2039.6V2038.3M2038.4 2039.6V2038.6M2073.8 2039.6V2038.4M2156.4 2039.6V2038M2180 2039.6V2033.1M2185.9 2039.6V2033.5M2188.9 2039.6V2034.6M2191.8 2039.6V2035.8M2194.8 2039.6V2037.4M2218.4 2039.6V2038.8M2247.9 2039.6V2037.2M2259.7 2039.6V2037.6M2262.6 2039.6V2038.2M2265.6 2039.6V2038.8M2277.4 2039.6V2037.4M2280.3 2039.6V2037.8M2286.2 2039.6V2038.1M2289.2 2039.6V2038.6M2407.2 2039.6V2033.4M2410.1 2039.6V2033.5M2413.1 2039.6V2033.7M2416 2039.6V2033.9M2419 2039.6V2034.6M2421.9 2039.6V2035M2427.8 2039.6V2036.1M2430.8 2039.6V2037.1M2433.7 2039.6V2037.1M2469.1 2039.6V2022M2472.1 2039.6V2023.2M2486.8 2039.6V2018.5M2489.8 2039.6V2020.9M2492.7 2039.6V2023.3M2495.7 2039.6V2025.1M2498.6 2039.6V2027.8M2501.6 2039.6V2034.6M2534.1 2039.6V2022.4M2537 2039.6V2024.2M2690.4 2039.6V2025.2M2702.2 2039.6V2021.6M2708.1 2039.6V2021M2711.1 2039.6V2022.8M2714 2039.6V2025.4M2717 2039.6V2027.6M2719.9 2039.6V2029.7M2722.9 2039.6V2030M2734.7 2039.6V2030.1M2737.6 2039.6V2031.8M2740.6 2039.6V2032M2752.4 2039.6V2031.5M2755.3 2039.6V2034.7M2758.3 2039.6V2037.7M2802.5 2039.6V2035.6M2805.5 2039.6V2035.8M2820.2 2039.6V2033M2823.2 2039.6V2035.7M2826.1 2039.6V2037.9M2917.6 2039.6V2030.7M2920.5 2039.6V2032.4M2923.5 2039.6V2033.6M2926.4 2039.6V2033.6M2929.4 2039.6V2034.2M2932.3 2039.6V2034.6M2935.3 2039.6V2034.6M2947.1 2039.6V2032.4M2950 2039.6V2033.2M2953 2039.6V2033.7M2955.9 2039.6V2034.4M2958.9 2039.6V2035.8M2961.8 2039.6V2038.4M2994.3 2039.6V2033.9M3000.2 2039.6V2034M3003.1 2039.6V2034.7M3006.1 2039.6V2035.3M3032.7 2039.6V2027.5M3035.6 2039.6V2028.9M3038.6 2039.6V2029.2M3047.4 2039.6V2028.3M3050.4 2039.6V2030.1M3053.3 2039.6V2032.4M3056.3 2039.6V2034M3059.2 2039.6V2034.8M3062.2 2039.6V2035.6M3065.1 2039.6V2036.4M3068.1 2039.6V2036.9M3071 2039.6V2037.3M3082.8 2039.6V2036.4M3085.8 2039.6V2037.1M3088.7 2039.6V2037.4M3091.7 2039.6V2038M3094.6 2039.6V2038.7M3162.5 2039.6V2038.1M3171.3 2039.6V2037.9M3174.3 2039.6V2038.7M3189 2039.6V2036.9M3192 2039.6V2037.7M3215.6 2039.6V2033.5M3218.5 2039.6V2036.1M3307 2039.6V2026.9M3318.8 2039.6V2024.9M3321.8 2039.6V2025.6M3324.7 2039.6V2026.5M3327.7 2039.6V2027.3M3330.6 2039.6V2030M3333.6 2039.6V2035.4M3410.3 2039.6V2037.1M3413.2 2039.6V2038.6" stroke="#b2dfdb" stroke-width="1" fill="none"/>
<path shape-rendering="crispEdges" d="M67.6 2039.6V2041M70.5 2039.6V2045.1M73.5 2039.6V2047.1M76.5 2039.6V2047.2M88.3 2039.6V2046.3M91.2 2039.6V2047.8M94.2 2039.6V2048.5M97.1 2039.6V2049.7M100.1 2039.6V2050.9M103 2039.6V2052.3M106 2039.6V2053M108.9 2039.6V2053.1M132.5 2039.6V2047.7M135.5 2039.6V2047.9M156.1 2039.6V2044.4M159.1 2039.6V2044.6M339 2039.6V2040.6M342 2039.6V2040.6M344.9 2039.6V2041.5M347.9 2039.6V2042.9M350.8 2039.6V2044.2M353.8 2039.6V2045.1M359.7 2039.6V2044.9M362.6 2039.6V2045.1M442.3 2039.6V2040.2M445.2 2039.6V2040.5M448.2 2039.6V2040.6M471.8 2039.6V2040.4M474.7 2039.6V2040.5M498.3 2039.6V2040.3M504.2 2039.6V2040.3M507.2 2039.6V2040.6M663.6 2039.6V2040.9M666.5 2039.6V2042.2M669.5 2039.6V2042.9M672.4 2039.6V2043.6M687.2 2039.6V2042.3M710.8 2039.6V2040.3M713.7 2039.6V2040.6M716.7 2039.6V2040.6M893.7 2039.6V2040.4M896.6 2039.6V2040.8M899.6 2039.6V2041.5M902.5 2039.6V2041.6M905.5 2039.6V2041.9M908.4 2039.6V2042.1M914.3 2039.6V2042.1M1017.6 2039.6V2040.7M1020.5 2039.6V2041.9M1023.5 2039.6V2043M1026.4 2039.6V2043.7M1029.4 2039.6V2044.4M1032.3 2039.6V2045.3M1035.3 2039.6V2045.5M1050 2039.6V2043.1M1053 2039.6V2044.6M1055.9 2039.6V2046.5M1058.9 2039.6V2047.3M1138.6 2039.6V2040.8M1141.5 2039.6V2042.4M1144.5 2039.6V2043.4M1147.4 2039.6V2044M1156.3 2039.6V2043.5M1159.2 2039.6V2044.6M1162.2 2039.6V2045.6M1218.2 2039.6V2044.6M1221.2 2039.6V2049.7M1224.1 2039.6V2052.2M1233 2039.6V2052.2M1327.4 2039.6V2040.4M1330.3 2039.6V2042.5M1333.3 2039.6V2043M1356.9 2039.6V2040.6M1359.8 2039.6V2042.8M1362.8 2039.6V2045.2M1365.7 2039.6V2047.3M1368.7 2039.6V2049.5M1371.6 2039.6V2052.7M1374.6 2039.6V2053.4M1424.7 2039.6V2041.8M1427.7 2039.6V2042.5M1430.6 2039.6V2045.1M1433.6 2039.6V2046.1M1454.2 2039.6V2042M1457.2 2039.6V2044.6M1460.1 2039.6V2046.1M1463.1 2039.6V2046.5M1471.9 2039.6V2046.2M1501.4 2039.6V2040.4M1504.4 2039.6V2044.3M1507.3 2039.6V2047.1M1510.3 2039.6V2047.5M1551.6 2039.6V2041.5M1554.6 2039.6V2043.8M1557.5 2039.6V2044.3M1563.4 2039.6V2044.8M1566.4 2039.6V2044.9M1572.3 2039.6V2045.7M1575.2 2039.6V2049.1M1578.2 2039.6V2053.7M1581.1 2039.6V2056.6M1598.8 2039.6V2045.4M1601.8 2039.6V2050.5M1604.7 2039.6V2053.1M1607.7 2039.6V2055.3M1610.6 2039.6V2058.1M1613.6 2039.6V2059.3M1631.3 2039.6V2044.6M1634.2 2039.6V2045.8M1637.2 2039.6V2047.8M1746.3 2039.6V2041.5M1749.3 2039.6V2041.9M1752.2 2039.6V2042.4M1755.2 2039.6V2042.7M1764 2039.6V2043.3M1767 2039.6V2043.6M1769.9 2039.6V2044.1M1778.8 2039.6V2044.1M1799.4 2039.6V2040.5M1802.4 2039.6V2041M1808.3 2039.6V2040.5M1811.2 2039.6V2040.9M1817.1 2039.6V2041.1M1823 2039.6V2041M1828.9 2039.6V2041.1M1834.8 2039.6V2041.4M1837.8 2039.6V2041.6M1840.7 2039.6V2042.1M1843.7 2039.6V2043M2079.7 2039.6V2041.7M2082.7 2039.6V2042.8M2085.6 2039.6V2043.1M2100.4 2039.6V2040.9M2106.3 2039.6V2041.4M2118.1 2039.6V2041M2121 2039.6V2043.5M2124 2039.6V2045.6M2200.7 2039.6V2040.8M2203.6 2039.6V2041.5M2221.3 2039.6V2042.3M2224.3 2039.6V2045.5M2315.7 2039.6V2040.9M2318.7 2039.6V2042.8M2321.6 2039.6V2044.2M2324.6 2039.6V2044.5M2339.3 2039.6V2042.5M2342.3 2039.6V2043M2345.2 2039.6V2043.7M2348.2 2039.6V2044.4M2351.1 2039.6V2044.5M2504.5 2039.6V2041.6M2507.5 2039.6V2042.8M2540 2039.6V2040.8M2542.9 2039.6V2047.4M2551.8 2039.6V2047.1M2554.7 2039.6V2053.4M2566.5 2039.6V2048.4M2575.4 2039.6V2046.7M2581.3 2039.6V2051.6M2584.2 2039.6V2057.2M2587.2 2039.6V2057.9M2590.1 2039.6V2064.7M2593.1 2039.6V2070.5M2601.9 2039.6V2070.2M2607.8 2039.6V2074.3M2610.8 2039.6V2082.9M2613.7 2039.6V2083.7M2631.4 2039.6V2065.6M2634.4 2039.6V2066.3M2637.3 2039.6V2067.5M2640.3 2039.6V2067.8M2643.2 2039.6V2070.8M2646.2 2039.6V2073.8M2658 2039.6V2062.7M2761.2 2039.6V2040.9M2764.2 2039.6V2044.7M2767.1 2039.6V2047.6M2770.1 2039.6V2050M2773 2039.6V2052.9M2776 2039.6V2054.7M2832 2039.6V2043.9M2835 2039.6V2049.2M2837.9 2039.6V2053.1M2840.9 2039.6V2054.4M2861.5 2039.6V2041.8M2864.5 2039.6V2045.3M2867.4 2039.6V2047.4M2870.4 2039.6V2049.7M2873.3 2039.6V2051.5M2876.3 2039.6V2051.6M3106.4 2039.6V2042M3109.4 2039.6V2042.3M3118.2 2039.6V2042.3M3121.2 2039.6V2046.9M3124.1 2039.6V2047.9M3127.1 2039.6V2049.7M3133 2039.6V2049.9M3197.9 2039.6V2040.7M3221.5 2039.6V2041.8M3224.4 2039.6V2044.4M3227.4 2039.6V2044.9M3236.2 2039.6V2043.6M3239.2 2039.6V2044.3M3242.1 2039.6V2045.5M3245.1 2039.6V2048M3248 2039.6V2048.6M3259.8 2039.6V2044.2M3262.8 2039.6V2046.9M3265.7 2039.6V2051.6M3268.7 2039.6V2052M3277.5 2039.6V2050.4M3339.5 2039.6V2042.1M3342.4 2039.6V2044.5M3345.4 2039.6V2048.3M3357.2 2039.6V2047.8M3363.1 2039.6V2047.8M3366 2039.6V2048.5M3371.9 2039.6V2049.1M3425 2039.6V2041.9M3428 2039.6V2043.4M3436.8 2039.6V2042M3439.8 2039.6V2043.7M3442.7 2039.6V2048.7M3445.7 2039.6V2052.7M3448.6 2039.6V2053M3460.4 2039.6V2047.8" stroke="#ff5252" stroke-width="1" fill="none"/>
<path shape-rendering="crispEdges" d="M79.4 2039.6V2047.1M82.4 2039.6V2045.9M85.3 2039.6V2045.5M111.9 2039.6V2052.4M114.8 2039.6V2050.7M117.8 2039.6V2050.3M120.7 2039.6V2049.4M123.7 2039.6V2048.8M126.6 2039.6V2047.8M129.6 2039.6V2047.3M138.4 2039.6V2047.3M141.4 2039.6V2047.2M144.3 2039.6V2046.5M147.3 2039.6V2045.3M150.2 2039.6V2044.4M153.2 2039.6V2044M162 2039.6V2042.9M356.7 2039.6V2044.7M365.6 2039.6V2045M368.5 2039.6V2044.4M371.5 2039.6V2043.9M374.4 2039.6V2042.5M377.4 2039.6V2041.1M380.3 2039.6V2040.3M451.1 2039.6V2040.5M454.1 2039.6V2040.2M477.7 2039.6V2040.5M510.1 2039.6V2040.4M513.1 2039.6V2040.3M675.4 2039.6V2043.3M678.3 2039.6V2042.9M681.3 2039.6V2042.3M684.2 2039.6V2042.1M690.1 2039.6V2042M693.1 2039.6V2041.6M696 2039.6V2041.3M699 2039.6V2040.8M701.9 2039.6V2040.4M704.9 2039.6V2040.4M707.8 2039.6V2040.2M911.4 2039.6V2042M917.3 2039.6V2042M920.2 2039.6V2041.4M923.2 2039.6V2040.8M926.1 2039.6V2040.2M1038.2 2039.6V2045.2M1041.2 2039.6V2044.6M1044.1 2039.6V2043.8M1047.1 2039.6V2043M1061.9 2039.6V2047.1M1064.8 2039.6V2046.8M1067.8 2039.6V2046.2M1070.7 2039.6V2045.2M1073.7 2039.6V2044.2M1076.6 2039.6V2042.9M1079.6 2039.6V2041.5M1150.4 2039.6V2044M1153.3 2039.6V2043.3M1165.1 2039.6V2045.5M1168.1 2039.6V2044.3M1171 2039.6V2042.2M1227.1 2039.6V2052.1M1230 2039.6V2051.3M1235.9 2039.6V2049.6M1238.9 2039.6V2045.9M1241.8 2039.6V2042.9M1244.8 2039.6V2040.7M1336.2 2039.6V2043M1339.2 2039.6V2041.6M1342.1 2039.6V2041M1377.5 2039.6V2052.5M1380.5 2039.6V2050.8M1383.4 2039.6V2048.1M1386.4 2039.6V2044.7M1389.3 2039.6V2041.5M1436.5 2039.6V2045.6M1439.5 2039.6V2045.5M1442.4 2039.6V2045M1445.4 2039.6V2043.4M1448.3 2039.6V2040.8M1466 2039.6V2045.7M1469 2039.6V2044.8M1474.9 2039.6V2046.2M1477.8 2039.6V2045.1M1480.8 2039.6V2043.5M1513.2 2039.6V2045.8M1516.2 2039.6V2044.1M1519.1 2039.6V2042.4M1560.5 2039.6V2044.3M1569.3 2039.6V2044.7M1584.1 2039.6V2056M1587 2039.6V2053.2M1590 2039.6V2048.7M1592.9 2039.6V2044.1M1595.9 2039.6V2043.7M1616.5 2039.6V2056.8M1619.5 2039.6V2053.3M1622.4 2039.6V2048.5M1625.4 2039.6V2044M1628.3 2039.6V2043.7M1640.1 2039.6V2047.4M1643.1 2039.6V2046.6M1646 2039.6V2043.9M1649 2039.6V2041.8M1651.9 2039.6V2040.8M1758.1 2039.6V2042.7M1761.1 2039.6V2042.7M1772.9 2039.6V2043.9M1775.8 2039.6V2043.8M1781.7 2039.6V2043.4M1784.7 2039.6V2042.8M1787.6 2039.6V2041.8M1790.6 2039.6V2041.2M1793.5 2039.6V2040.6M1796.5 2039.6V2040.2M1805.3 2039.6V2040.2M1814.2 2039.6V2040.7M1820.1 2039.6V2040.9M1826 2039.6V2040.8M1831.9 2039.6V2040.8M1846.6 2039.6V2042.9M1849.6 2039.6V2042M1852.5 2039.6V2041.3M1855.5 2039.6V2040.5M2088.6 2039.6V2043M2091.5 2039.6V2042.6M2094.5 2039.6V2041M2097.4 2039.6V2040.8M2103.3 2039.6V2040.9M2109.2 2039.6V2041M2112.2 2039.6V2040.6M2126.9 2039.6V2045.5M2129.9 2039.6V2044.7M2132.8 2039.6V2043.3M2135.8 2039.6V2042.3M2138.7 2039.6V2041.8M2141.7 2039.6V2041.4M2206.6 2039.6V2040.2M2227.2 2039.6V2045.3M2230.2 2039.6V2044.6M2233.1 2039.6V2043.5M2236.1 2039.6V2041.5M2327.5 2039.6V2043.9M2330.5 2039.6V2042.7M2333.4 2039.6V2042.1M2336.4 2039.6V2041.8M2354.1 2039.6V2044.4M2357 2039.6V2043.9M2360 2039.6V2043.1M2362.9 2039.6V2042.5M2365.9 2039.6V2042M2368.8 2039.6V2041.9M2371.8 2039.6V2041.4M2374.7 2039.6V2040.5M2510.4 2039.6V2041.6M2545.9 2039.6V2047M2548.8 2039.6V2045.5M2557.7 2039.6V2049.2M2560.6 2039.6V2045.9M2563.6 2039.6V2045.1M2569.5 2039.6V2048.1M2572.4 2039.6V2046.1M2578.3 2039.6V2046.4M2596 2039.6V2070M2599 2039.6V2069.5M2604.9 2039.6V2069.6M2616.7 2039.6V2078.9M2619.6 2039.6V2073.4M2622.6 2039.6V2068.6M2625.5 2039.6V2067.3M2628.5 2039.6V2065.1M2649.1 2039.6V2070.4M2652.1 2039.6V2062.8M2655 2039.6V2062.4M2660.9 2039.6V2061.4M2663.9 2039.6V2056.7M2666.8 2039.6V2048.1M2669.8 2039.6V2041.5M2778.9 2039.6V2054.2M2781.9 2039.6V2051.4M2784.8 2039.6V2048.5M2787.8 2039.6V2043.8M2843.8 2039.6V2052.1M2846.8 2039.6V2049.3M2849.7 2039.6V2047.3M2852.7 2039.6V2047M2855.6 2039.6V2044.3M2858.6 2039.6V2040.9M2879.2 2039.6V2049M2882.2 2039.6V2045.7M2885.1 2039.6V2042.4M3112.3 2039.6V2040.5M3130 2039.6V2049.6M3135.9 2039.6V2049.5M3138.9 2039.6V2048.6M3141.8 2039.6V2047.5M3144.8 2039.6V2046.3M3147.7 2039.6V2042.8M3230.3 2039.6V2044.6M3233.3 2039.6V2043.4M3251 2039.6V2048.4M3253.9 2039.6V2046M3256.9 2039.6V2044.1M3271.6 2039.6V2051.7M3274.6 2039.6V2050.2M3280.5 2039.6V2048.4M3283.4 2039.6V2046M3286.4 2039.6V2043.6M3348.3 2039.6V2048.3M3351.3 2039.6V2047.5M3354.2 2039.6V2046.2M3360.1 2039.6V2045.8M3369 2039.6V2048.1M3374.9 2039.6V2048.9M3377.8 2039.6V2047.3M3380.8 2039.6V2043.9M3383.7 2039.6V2041.4M3430.9 2039.6V2042.4M3433.9 2039.6V2041.2M3451.6 2039.6V2051.2M3454.5 2039.6V2048.8M3457.5 2039.6V2047.6M3463.4 2039.6V2047.6" stroke="#ffcdd2" stroke-width="1" fill="none"/>
<rect x="1371.7" y="2008" width="205" height="68.3" fill="#f23645" fill-opacity="0.11" stroke="#e8384f" stroke-width="2.2"/>
<rect x="3280.6" y="1999.4" width="209.9" height="76.8" fill="#f23645" fill-opacity="0.11" stroke="#e8384f" stroke-width="2.2"/>
<polyline points="20.4,2029.4 23.3,2028.2 26.3,2026.9 29.2,2025.7 32.2,2023.7 35.1,2021 38.1,2018.1 41,2015.4 44,2013.9 46.9,2012.8 49.9,2012.4 52.8,2011 55.8,2009.2 58.7,2006.8 61.7,2004.1 64.6,2005.7 67.6,2012.1 70.5,2017.6 73.5,2021.5 76.5,2023.4 79.4,2025.2 82.4,2025.6 85.3,2026.7 88.3,2029.2 91.2,2032.7 94.2,2035.7 97.1,2039.4 100.1,2043.4 103,2047.9 106,2052 108.9,2055.5 111.9,2058 114.8,2059 117.8,2061.3 120.7,2062.8 123.7,2064.5 126.6,2065.6 129.6,2067.1 132.5,2069.4 135.5,2071.7 138.4,2073 141.4,2074.8 144.3,2075.8 147.3,2076 150.2,2076.3 153.2,2077 156.1,2078.6 159.1,2080 162,2079.2 165,2076.7 167.9,2073.7 170.9,2071.6 173.8,2069.6 176.8,2068.4 179.7,2068 182.7,2068.1 185.6,2066.9 188.6,2066.5 191.5,2064.2 194.5,2061.8 197.4,2058.1 200.4,2054.4 203.3,2052.6 206.3,2051.9 209.2,2050.9 212.2,2050.1 215.1,2049.7 218.1,2049.6 221,2049.7 224,2049.7 226.9,2050.5 229.9,2050.7 232.8,2051 235.8,2051.2 238.7,2051.2 241.7,2050.8 244.6,2050.6 247.6,2050.3 250.5,2049.7 253.5,2049 256.4,2048.9 259.4,2048.5 262.3,2047.8 265.3,2046.7 268.2,2045.6 271.2,2044.4 274.1,2043.2 277.1,2042.3 280,2041.3 283,2040 285.9,2038.8 288.9,2037.6 291.8,2036.4 294.8,2035.6 297.7,2034.7 300.7,2034 303.6,2033.7 306.6,2033.1 309.5,2032.2 312.5,2031.5 315.4,2030.7 318.4,2030.3 321.3,2029.9 324.3,2029.2 327.2,2029.1 330.2,2029.5 333.1,2030.5 336.1,2031.4 339,2032.2 342,2032.5 344.9,2033.8 347.9,2036.1 350.8,2038.5 353.8,2040.8 356.7,2041.7 359.7,2043.1 362.6,2044.8 365.6,2046 368.5,2046.6 371.5,2047.2 374.4,2046.5 377.4,2045.4 380.3,2044.8 383.3,2044 386.2,2043 389.2,2042.6 392.1,2042.3 395.1,2042.2 398,2042.5 401,2042.9 403.9,2043 406.9,2043 409.8,2042.8 412.8,2042.6 415.7,2041.9 418.7,2041.2 421.6,2040.9 424.6,2040.5 427.5,2040 430.5,2040 433.4,2039.7 436.4,2039.9 439.3,2040.1 442.3,2041.3 445.2,2041.8 448.2,2042.2 451.1,2042.3 454.1,2042.2 457,2042.3 460,2042.2 462.9,2042.3 465.9,2042.3 468.8,2042.6 471.8,2043 474.7,2043.5 477.7,2043.7 480.6,2043.2 483.6,2043 486.5,2043 489.5,2043.2 492.4,2043.1 495.4,2043.4 498.3,2043.9 501.3,2043.8 504.2,2044.2 507.2,2044.7 510.1,2044.8 513.1,2044.8 516,2044.4 519,2043.9 521.9,2043.3 524.9,2042.8 527.8,2042.1 530.8,2041.6 533.7,2040.7 536.7,2039.9 539.6,2039.1 542.6,2038.3 545.5,2037.3 548.5,2036.7 551.4,2036.1 554.4,2035.7 557.3,2035.6 560.3,2035.8 563.2,2035.9 566.2,2035.7 569.2,2035.6 572.1,2035.8 575.1,2035.8 578,2035.9 581,2035.9 583.9,2035.7 586.9,2035.8 589.8,2035.6 592.8,2035.3 595.7,2035.6 598.7,2035.3 601.6,2035.4 604.6,2035.6 607.5,2035.6 610.5,2035.2 613.4,2035.2 616.4,2034.7 619.3,2034.2 622.3,2034 625.2,2034 628.2,2033.8 631.1,2033.2 634.1,2032.3 637,2031.5 640,2030.7 642.9,2030.2 645.9,2030 648.8,2029.7 651.8,2029.7 654.7,2029.6 657.7,2029.8 660.6,2030.5 663.6,2032.2 666.5,2034.2 669.5,2035.7 672.4,2037.3 675.4,2038 678.3,2038.4 681.3,2038.4 684.2,2038.9 687.2,2039.8 690.1,2040.1 693.1,2040.2 696,2040.3 699,2040.1 701.9,2039.9 704.9,2040 707.8,2040.1 710.8,2040.3 713.7,2040.8 716.7,2041.1 719.6,2040.7 722.6,2039.9 725.5,2039.4 728.5,2038.9 731.4,2038.4 734.4,2038.7 737.3,2038.7 740.3,2038.9 743.2,2038.7 746.2,2038.6 749.1,2038.2 752.1,2038.1 755,2037.9 758,2038.1 760.9,2038.1 763.9,2038.1 766.8,2038 769.8,2037.7 772.7,2037.5 775.7,2037 778.6,2036.4 781.6,2036.2 784.5,2036.4 787.5,2036.7 790.4,2036.6 793.4,2035.9 796.3,2035.7 799.3,2035.9 802.2,2035.9 805.2,2035.5 808.1,2034.9 811.1,2034.1 814,2033.4 817,2032.5 819.9,2032 822.9,2031.5 825.8,2031 828.8,2030.8 831.7,2030.6 834.7,2030.2 837.6,2029.9 840.6,2029.3 843.5,2029.3 846.5,2029.1 849.4,2028.7 852.4,2028.6 855.3,2028.8 858.3,2029 861.2,2029.1 864.2,2029.2 867.1,2029 870.1,2028.7 873,2029.1 876,2029.4 878.9,2029.7 881.9,2030 884.8,2029.8 887.8,2029.7 890.7,2030 893.7,2030.6 896.6,2031.4 899.6,2032.5 902.5,2033.2 905.5,2034.1 908.4,2034.8 911.4,2035.4 914.3,2036.1 917.3,2036.5 920.2,2036.5 923.2,2036.2 926.1,2035.7 929.1,2035 932,2034.1 935,2033.1 937.9,2032 940.9,2031.2 943.8,2030.2 946.8,2029 949.7,2027.7 952.7,2026.5 955.6,2024.9 958.6,2023.3 961.5,2021.9 964.5,2020.9 967.4,2019.9 970.4,2018.7 973.3,2017.3 976.3,2015.6 979.2,2013.6 982.2,2011.9 985.1,2010.9 988.1,2010.3 991,2010.1 994,2010.3 996.9,2010.1 999.9,2009.6 1002.8,2009.1 1005.8,2009.7 1008.7,2010.4 1011.7,2010.7 1014.6,2011 1017.6,2012.4 1020.5,2014.1 1023.5,2016.1 1026.4,2017.8 1029.4,2019.7 1032.3,2022 1035.3,2023.8 1038.2,2024.8 1041.2,2025.5 1044.1,2025.7 1047.1,2025.8 1050,2026.7 1053,2029.5 1055.9,2033.1 1058.9,2035.9 1061.9,2037.6 1064.8,2039.1 1067.8,2040.1 1070.7,2040.5 1073.7,2040.6 1076.6,2040.2 1079.6,2039.3 1082.5,2038 1085.5,2036.2 1088.4,2033.9 1091.4,2031.6 1094.3,2029 1097.3,2026.4 1100.2,2023.9 1103.2,2021.9 1106.1,2020 1109.1,2018.2 1112,2017 1115,2015.7 1117.9,2014.6 1120.9,2014.2 1123.8,2014.8 1126.8,2015.6 1129.7,2016.2 1132.7,2017.3 1135.6,2017.5 1138.6,2019 1141.5,2021.3 1144.5,2023.2 1147.4,2025 1150.4,2026 1153.3,2026.3 1156.3,2027.5 1159.2,2029.7 1162.2,2032.3 1165.1,2033.7 1168.1,2033.7 1171,2032.3 1174,2029.8 1176.9,2026.2 1179.9,2022.6 1182.8,2019.6 1185.8,2018.4 1188.7,2017.6 1191.7,2017.1 1194.6,2016.7 1197.6,2015.8 1200.5,2014.5 1203.5,2013.4 1206.4,2012.8 1209.4,2013.3 1212.3,2013.7 1215.3,2015.2 1218.2,2021.8 1221.2,2029.4 1224.1,2035.1 1227.1,2038 1230,2040.1 1233,2044.3 1235.9,2044.1 1238.9,2042 1241.8,2039.9 1244.8,2038 1247.7,2035.4 1250.7,2032.6 1253.6,2030.3 1256.6,2027.8 1259.5,2026.7 1262.5,2025.7 1265.4,2024.4 1268.4,2022.9 1271.3,2021.4 1274.3,2020 1277.2,2018 1280.2,2016.2 1283.1,2014.6 1286.1,2013.2 1289,2011.9 1292,2010.9 1294.9,2009.8 1297.9,2008.9 1300.8,2008.4 1303.8,2007.7 1306.7,2007.7 1309.7,2008.1 1312.6,2007.8 1315.6,2007.4 1318.5,2007.4 1321.5,2007.8 1324.4,2008.2 1327.4,2009.6 1330.3,2012.4 1333.3,2013.8 1336.2,2014.6 1339.2,2013.8 1342.1,2013.5 1345.1,2011.2 1348,2010.5 1351,2010.5 1353.9,2011.7 1356.9,2012.8 1359.8,2015.8 1362.8,2019.5 1365.7,2023.6 1368.7,2028.3 1371.6,2034.7 1374.6,2038.8 1377.5,2041.2 1380.5,2042.3 1383.4,2041.6 1386.4,2039.5 1389.3,2036.9 1392.3,2033.6 1395.2,2031.1 1398.2,2029 1401.1,2026.8 1404.1,2024.4 1407,2022.1 1410,2021.1 1412.9,2020.9 1415.9,2020.7 1418.8,2020.2 1421.8,2023.3 1424.7,2026.6 1427.7,2028 1430.6,2032 1433.6,2034.6 1436.5,2035.6 1439.5,2036.9 1442.4,2037.8 1445.4,2037.1 1448.3,2034.9 1451.3,2034.2 1454.2,2036.8 1457.2,2040.6 1460.1,2043.8 1463.1,2045.9 1466,2046.6 1469,2046.9 1471.9,2050.1 1474.9,2051.7 1477.8,2052 1480.8,2051.3 1483.7,2048.1 1486.7,2043.9 1489.6,2040.2 1492.6,2040 1495.5,2039.6 1498.5,2038.9 1501.4,2043.5 1504.4,2048.6 1507.3,2053.3 1510.3,2055.6 1513.2,2055.6 1516.2,2055 1519.1,2053.9 1522.1,2051.2 1525,2047.8 1528,2044.3 1530.9,2040.8 1533.9,2036.6 1536.8,2034.9 1539.8,2035.1 1542.7,2036.3 1545.7,2038.7 1548.6,2039.5 1551.6,2042.5 1554.6,2045.8 1557.5,2047.5 1560.5,2048.7 1563.4,2050.4 1566.4,2051.9 1569.3,2053 1572.3,2055.5 1575.2,2061.3 1578.2,2069.4 1581.1,2076.5 1584.1,2080.1 1587,2080.7 1590,2078.4 1592.9,2075 1595.9,2075.6 1598.8,2078.8 1601.8,2086.6 1604.7,2092.6 1607.7,2098.6 1610.6,2106.1 1613.6,2112.3 1616.5,2114.1 1619.5,2114 1622.4,2111.4 1625.4,2108 1628.3,2108.8 1631.3,2110.9 1634.2,2113.6 1637.2,2117.7 1640.1,2119.2 1643.1,2120.2 1646,2118.6 1649,2117.1 1651.9,2116.4 1654.9,2115.6 1657.8,2114.8 1660.8,2114 1663.7,2112.6 1666.7,2110.3 1669.6,2107.2 1672.6,2103.6 1675.5,2099.3 1678.5,2095 1681.4,2090.4 1684.4,2086.5 1687.3,2083 1690.3,2079.2 1693.2,2074.7 1696.2,2070.1 1699.1,2065.3 1702.1,2060.6 1705,2056.8 1708,2053.1 1710.9,2050.5 1713.9,2047.1 1716.8,2043.7 1719.8,2039.9 1722.7,2035.9 1725.7,2033.3 1728.6,2032.3 1731.6,2032.8 1734.5,2033.3 1737.5,2035.6 1740.4,2037.5 1743.4,2039.6 1746.3,2041.5 1749.3,2042.4 1752.2,2043.6 1755.2,2044.7 1758.1,2045.5 1761.1,2046.3 1764,2047.8 1767,2049 1769.9,2050.7 1772.9,2051.6 1775.8,2052.6 1778.8,2053.9 1781.7,2054.2 1784.7,2054.4 1787.6,2054 1790.6,2053.8 1793.5,2053.4 1796.5,2053.2 1799.4,2053.7 1802.4,2054.6 1805.3,2053.9 1808.3,2054.5 1811.2,2055.2 1814.2,2055.3 1817.1,2056 1820.1,2056.1 1823,2056.6 1826,2056.7 1828.9,2057.4 1831.9,2057.3 1834.8,2058.4 1837.8,2059 1840.7,2060.2 1843.7,2062 1846.6,2062.7 1849.6,2062.4 1852.5,2062.1 1855.5,2061.5 1858.4,2060.4 1861.4,2059.8 1864.3,2059.2 1867.3,2058.1 1870.2,2057.1 1873.2,2055.5 1876.1,2054.2 1879.1,2052.5 1882,2050.9 1885,2049.6 1887.9,2048.1 1890.9,2046.7 1893.8,2045 1896.8,2043.6 1899.7,2042.5 1902.7,2042.3 1905.6,2042.2 1908.6,2041.7 1911.5,2041.4 1914.5,2040.6 1917.4,2040 1920.4,2039.4 1923.3,2038.9 1926.3,2038.3 1929.2,2037.8 1932.2,2037.7 1935.1,2037.8 1938.1,2038.4 1941,2038.9 1944,2038.6 1946.9,2038.6 1949.9,2039.1 1952.8,2038.7 1955.8,2038.1 1958.7,2037.1 1961.7,2036.7 1964.6,2035.3 1967.6,2034.5 1970.5,2033.9 1973.5,2033.8 1976.4,2033.4 1979.4,2032.7 1982.3,2031.9 1985.3,2031.7 1988.2,2031.8 1991.2,2032.3 1994.1,2032.5 1997.1,2032.7 2000,2033 2003,2032.9 2005.9,2032.4 2008.9,2031.9 2011.8,2030.8 2014.8,2030.4 2017.7,2029.6 2020.7,2028.6 2023.6,2027.4 2026.6,2026.6 2029.5,2026.5 2032.5,2026.9 2035.4,2026.9 2038.4,2026.9 2041.4,2026.6 2044.3,2027.2 2047.3,2027.8 2050.2,2028.3 2053.2,2028 2056.1,2027.5 2059.1,2026.9 2062,2026.7 2065,2025.7 2067.9,2025.2 2070.9,2024.6 2073.8,2024.8 2076.8,2026.2 2079.7,2028.7 2082.7,2030.6 2085.6,2031.7 2088.6,2032.5 2091.5,2032.9 2094.5,2031.6 2097.4,2031.7 2100.4,2032.2 2103.3,2032.4 2106.3,2033.4 2109.2,2033.3 2112.2,2033.3 2115.1,2032.7 2118.1,2034.1 2121,2037.6 2124,2041.2 2126.9,2042.5 2129.9,2043 2132.8,2042.6 2135.8,2042.2 2138.7,2042.2 2141.7,2042.3 2144.6,2041.2 2147.6,2040.2 2150.5,2038.5 2153.5,2037.7 2156.4,2037.7 2159.4,2036.5 2162.3,2035.1 2165.3,2034.3 2168.2,2032.8 2171.2,2030.4 2174.1,2027.8 2177.1,2025 2180,2023.8 2183,2021.8 2185.9,2021 2188.9,2020.8 2191.8,2021.1 2194.8,2022.1 2197.7,2023.9 2200.7,2025.8 2203.6,2026.9 2206.6,2025.8 2209.5,2025.8 2212.5,2023.2 2215.4,2021.2 2218.4,2023.1 2221.3,2027.3 2224.3,2032 2227.2,2033.3 2230.2,2033.7 2233.1,2033.7 2236.1,2032.1 2239,2030 2242,2027.5 2244.9,2025.9 2247.9,2025.9 2250.8,2025.1 2253.8,2024 2256.7,2023.1 2259.7,2023.6 2262.6,2023.9 2265.6,2024.4 2268.5,2023.4 2271.5,2022.5 2274.4,2021.4 2277.4,2020.9 2280.3,2020.9 2283.3,2020.4 2286.2,2020.4 2289.2,2020.6 2292.1,2021.1 2295.1,2021.3 2298,2021.1 2301,2020.7 2303.9,2019.3 2306.9,2018.9 2309.8,2018.2 2312.8,2019.5 2315.7,2021.6 2318.7,2024.2 2321.6,2026.9 2324.6,2028.4 2327.5,2028.8 2330.5,2028.4 2333.4,2028.4 2336.4,2028.6 2339.3,2030.1 2342.3,2031.4 2345.2,2033.2 2348.2,2035 2351.1,2036.3 2354.1,2037.5 2357,2038 2360,2038.2 2362.9,2038.2 2365.9,2038.3 2368.8,2038.8 2371.8,2038.7 2374.7,2038.1 2377.7,2037.6 2380.6,2036.5 2383.6,2034.8 2386.5,2032.4 2389.5,2031 2392.4,2029.3 2395.4,2027.4 2398.3,2025.3 2401.3,2023.1 2404.2,2021.4 2407.2,2020.1 2410.1,2018.7 2413.1,2017.4 2416,2016.1 2419,2015.6 2421.9,2014.8 2424.9,2013.3 2427.8,2013.8 2430.8,2014.2 2433.7,2013.5 2436.7,2011.6 2439.6,2008.6 2442.6,2005.1 2445.5,2001.3 2448.5,1995.1 2451.4,1991.9 2454.4,1988.4 2457.3,1984.6 2460.3,1978.9 2463.2,1970 2466.2,1964.8 2469.1,1962.2 2472.1,1959.4 2475,1954.1 2478,1947.7 2480.9,1941.4 2483.9,1934.9 2486.8,1929.9 2489.8,1927.7 2492.7,1926 2495.7,1924.1 2498.6,1923.9 2501.6,1929.4 2504.5,1936.9 2507.5,1938.9 2510.4,1938.2 2513.4,1934.5 2516.3,1929.9 2519.3,1925.7 2522.2,1922.6 2525.2,1918.4 2528.1,1912 2531.1,1902.6 2534.1,1899.1 2537,1897 2540,1913.9 2542.9,1922.4 2545.9,1923.9 2548.8,1923.9 2551.8,1927.4 2554.7,1937.1 2557.7,1935.3 2560.6,1933.6 2563.6,1934.2 2566.5,1939.6 2569.5,1941.5 2572.4,1941.1 2575.4,1943.5 2578.3,1944.9 2581.3,1953.1 2584.2,1963.1 2587.2,1968.4 2590.1,1981.4 2593.1,1994.9 2596,2002 2599,2009 2601.9,2017.3 2604.9,2024.3 2607.8,2037.7 2610.8,2057.1 2613.7,2068.9 2616.7,2073.9 2619.6,2076.8 2622.6,2079.4 2625.5,2084.9 2628.5,2089.1 2631.4,2096.1 2634.4,2103.4 2637.3,2111.6 2640.3,2119 2643.2,2129.8 2646.2,2141.3 2649.1,2145.6 2652.1,2143.8 2655,2149.2 2658,2155.2 2660.9,2159.3 2663.9,2158.9 2666.8,2152.5 2669.8,2146.3 2672.7,2139.6 2675.7,2131.1 2678.6,2125.2 2681.6,2121.5 2684.5,2116.8 2687.5,2113 2690.4,2109.4 2693.4,2104 2696.3,2096.9 2699.3,2092 2702.2,2088.1 2705.2,2082.6 2708.1,2078.2 2711.1,2075.8 2714,2074.9 2717,2074 2719.9,2073.6 2722.9,2071.5 2725.8,2068.5 2728.8,2065.1 2731.7,2062.4 2734.7,2061.4 2737.6,2061.1 2740.6,2059.4 2743.5,2056.2 2746.5,2053.8 2749.4,2050.7 2752.4,2050.2 2755.3,2052.2 2758.3,2054.7 2761.2,2058.2 2764.2,2063.3 2767.1,2068.2 2770.1,2073.1 2773,2079.3 2776,2084.9 2778.9,2088 2781.9,2088.2 2784.8,2087.6 2787.8,2083.9 2790.7,2079.6 2793.7,2078.4 2796.6,2075.7 2799.6,2072.2 2802.5,2072.4 2805.5,2071.6 2808.4,2069.8 2811.4,2066.7 2814.3,2062.5 2817.3,2060.3 2820.2,2060.4 2823.2,2062.1 2826.1,2063.9 2829.1,2066.1 2832,2071 2835,2078.7 2837.9,2086.1 2840.9,2091.1 2843.8,2091.9 2846.8,2091.5 2849.7,2091.4 2852.7,2093 2855.6,2091.5 2858.6,2088.4 2861.5,2089.9 2864.5,2094.8 2867.4,2098.8 2870.4,2103.7 2873.3,2108.4 2876.3,2111.5 2879.2,2111.2 2882.2,2109.5 2885.1,2106.9 2888.1,2103.6 2891,2099.4 2894,2095.9 2896.9,2093 2899.9,2090.8 2902.8,2088.7 2905.8,2086 2908.7,2083.4 2911.7,2080.4 2914.6,2077.4 2917.6,2076.1 2920.5,2076 2923.5,2075.7 2926.4,2074.3 2929.4,2073.5 2932.3,2072.7 2935.3,2071.4 2938.2,2069.8 2941.2,2067.1 2944.1,2064.2 2947.1,2062.6 2950,2061.8 2953,2060.8 2955.9,2060.3 2958.9,2060.7 2961.8,2063 2964.8,2064.3 2967.7,2064.4 2970.7,2064.3 2973.6,2062.7 2976.6,2061.4 2979.5,2059.8 2982.5,2057.6 2985.4,2055.6 2988.4,2053.6 2991.3,2052 2994.3,2050.6 2997.2,2049 3000.2,2047.9 3003.1,2047.3 3006.1,2046.8 3009,2045.7 3012,2044.2 3014.9,2042.2 3017.9,2039.8 3020.8,2035.6 3023.8,2031.5 3026.8,2026.4 3029.7,2021.7 3032.7,2019.9 3035.6,2018.7 3038.6,2016.4 3041.5,2013.4 3044.5,2009.7 3047.4,2007.1 3050.4,2006.5 3053.3,2007 3056.3,2007.2 3059.2,2006.8 3062.2,2006.6 3065.1,2006.5 3068.1,2006.4 3071,2006.2 3074,2004.7 3076.9,2002.7 3079.9,2001 3082.8,2001.6 3085.8,2001.7 3088.7,2001.4 3091.7,2001.6 3094.6,2002.1 3097.6,2002.9 3100.5,2001.1 3103.5,2002.6 3106.4,2005.6 3109.4,2006.6 3112.3,2005 3115.3,2004.6 3118.2,2007.5 3121.2,2014 3124.1,2017.1 3127.1,2021.4 3130,2023.8 3133,2026.7 3135.9,2028.8 3138.9,2030.1 3141.8,2031 3144.8,2031.4 3147.7,2028.7 3150.7,2025.6 3153.6,2024.2 3156.6,2022.7 3159.5,2022.2 3162.5,2022.4 3165.4,2021.9 3168.4,2021.1 3171.3,2020.9 3174.3,2021.5 3177.2,2021.7 3180.2,2020.9 3183.1,2019.2 3186.1,2017.8 3189,2017.4 3192,2017.6 3194.9,2019.2 3197.9,2020.8 3200.8,2020 3203.8,2018 3206.7,2014.5 3209.7,2009.7 3212.6,2005.8 3215.6,2006.9 3218.5,2008.6 3221.5,2014.9 3224.4,2018.7 3227.4,2020.6 3230.3,2021.5 3233.3,2021.3 3236.2,2022.4 3239.2,2024.4 3242.1,2027 3245.1,2031.6 3248,2034.5 3251,2036.4 3253.9,2035.7 3256.9,2034.9 3259.8,2036.1 3262.8,2040.7 3265.7,2048.4 3268.7,2051.9 3271.6,2054.5 3274.6,2055.7 3277.5,2058.6 3280.5,2058.9 3283.4,2058 3286.4,2056.7 3289.3,2053.3 3292.3,2050.2 3295.2,2047.1 3298.2,2041.7 3301.1,2035 3304.1,2029.3 3307,2027.2 3310,2021.5 3312.9,2017.6 3315.9,2013.7 3318.8,2010.4 3321.8,2007.5 3324.7,2005.2 3327.7,2002.9 3330.6,2003.2 3333.6,2007.6 3336.5,2011.7 3339.5,2014.9 3342.4,2018.5 3345.4,2024.4 3348.3,2026.6 3351.3,2027.9 3354.2,2028.1 3357.2,2031.8 3360.1,2031.4 3363.1,2035.4 3366,2038.4 3369,2040.1 3371.9,2043.4 3374.9,2045.6 3377.8,2045.8 3380.8,2043.5 3383.7,2041.5 3386.7,2039.2 3389.6,2038.1 3392.6,2039.7 3395.5,2040.1 3398.5,2039.3 3401.4,2036.8 3404.4,2032.9 3407.3,2031.6 3410.3,2033.4 3413.2,2034.7 3416.2,2034.2 3419.1,2034.8 3422.1,2036 3425,2038.2 3428,2040.6 3430.9,2040.4 3433.9,2039.6 3436.8,2040.9 3439.8,2043.7 3442.7,2051 3445.7,2058.3 3448.6,2061.9 3451.6,2063 3454.5,2062.9 3457.5,2063.7 3460.4,2066 3463.4,2067.8" fill="none" stroke="#2962ff" stroke-width="2" stroke-linejoin="round"/>
<polyline points="20.4,2029.4 23.3,2029.1 26.3,2028.7 29.2,2028.1 32.2,2027.2 35.1,2026 38.1,2024.4 41,2022.6 44,2020.9 46.9,2019.3 49.9,2017.9 52.8,2016.5 55.8,2015 58.7,2013.4 61.7,2011.5 64.6,2010.4 67.6,2010.7 70.5,2012.1 73.5,2014 76.5,2015.9 79.4,2017.7 82.4,2019.3 85.3,2020.8 88.3,2022.5 91.2,2024.5 94.2,2026.7 97.1,2029.3 100.1,2032.1 103,2035.3 106,2038.6 108.9,2042 111.9,2045.2 114.8,2048 117.8,2050.6 120.7,2053.1 123.7,2055.4 126.6,2057.4 129.6,2059.3 132.5,2061.4 135.5,2063.4 138.4,2065.3 141.4,2067.2 144.3,2069 147.3,2070.4 150.2,2071.6 153.2,2072.6 156.1,2073.8 159.1,2075.1 162,2075.9 165,2076.1 167.9,2075.6 170.9,2074.8 173.8,2073.8 176.8,2072.7 179.7,2071.8 182.7,2071 185.6,2070.2 188.6,2069.5 191.5,2068.4 194.5,2067.1 197.4,2065.3 200.4,2063.1 203.3,2061 206.3,2059.2 209.2,2057.5 212.2,2056 215.1,2054.8 218.1,2053.7 221,2052.9 224,2052.3 226.9,2051.9 229.9,2051.7 232.8,2051.5 235.8,2051.5 238.7,2051.4 241.7,2051.3 244.6,2051.2 247.6,2051 250.5,2050.7 253.5,2050.4 256.4,2050.1 259.4,2049.8 262.3,2049.4 265.3,2048.8 268.2,2048.2 271.2,2047.4 274.1,2046.6 277.1,2045.7 280,2044.8 283,2043.9 285.9,2042.9 288.9,2041.8 291.8,2040.7 294.8,2039.7 297.7,2038.7 300.7,2037.8 303.6,2037 306.6,2036.2 309.5,2035.4 312.5,2034.6 315.4,2033.8 318.4,2033.1 321.3,2032.5 324.3,2031.8 327.2,2031.3 330.2,2030.9 333.1,2030.8 336.1,2030.9 339,2031.2 342,2031.5 344.9,2031.9 347.9,2032.8 350.8,2033.9 353.8,2035.3 356.7,2036.6 359.7,2037.9 362.6,2039.3 365.6,2040.6 368.5,2041.8 371.5,2042.9 374.4,2043.6 377.4,2044 380.3,2044.1 383.3,2044.1 386.2,2043.9 389.2,2043.6 392.1,2043.4 395.1,2043.1 398,2043 401,2043 403.9,2043 406.9,2043 409.8,2043 412.8,2042.9 415.7,2042.7 418.7,2042.4 421.6,2042.1 424.6,2041.8 427.5,2041.4 430.5,2041.1 433.4,2040.9 436.4,2040.7 439.3,2040.6 442.3,2040.7 445.2,2040.9 448.2,2041.2 451.1,2041.4 454.1,2041.6 457,2041.7 460,2041.8 462.9,2041.9 465.9,2042 468.8,2042.1 471.8,2042.3 474.7,2042.5 477.7,2042.7 480.6,2042.8 483.6,2042.9 486.5,2042.9 489.5,2042.9 492.4,2043 495.4,2043.1 498.3,2043.2 501.3,2043.3 504.2,2043.5 507.2,2043.8 510.1,2044 513.1,2044.1 516,2044.2 519,2044.1 521.9,2043.9 524.9,2043.7 527.8,2043.4 530.8,2043 533.7,2042.6 536.7,2042 539.6,2041.5 542.6,2040.8 545.5,2040.1 548.5,2039.4 551.4,2038.8 554.4,2038.2 557.3,2037.6 560.3,2037.3 563.2,2037 566.2,2036.7 569.2,2036.5 572.1,2036.4 575.1,2036.2 578,2036.2 581,2036.1 583.9,2036 586.9,2036 589.8,2035.9 592.8,2035.8 595.7,2035.7 598.7,2035.6 601.6,2035.6 604.6,2035.6 607.5,2035.6 610.5,2035.5 613.4,2035.5 616.4,2035.3 619.3,2035.1 622.3,2034.9 625.2,2034.7 628.2,2034.5 631.1,2034.3 634.1,2033.9 637,2033.4 640,2032.9 642.9,2032.3 645.9,2031.9 648.8,2031.4 651.8,2031.1 654.7,2030.8 657.7,2030.6 660.6,2030.6 663.6,2030.9 666.5,2031.6 669.5,2032.4 672.4,2033.4 675.4,2034.3 678.3,2035.1 681.3,2035.8 684.2,2036.4 687.2,2037.1 690.1,2037.7 693.1,2038.2 696,2038.6 699,2038.9 701.9,2039.1 704.9,2039.3 707.8,2039.4 710.8,2039.6 713.7,2039.9 716.7,2040.1 719.6,2040.2 722.6,2040.2 725.5,2040 728.5,2039.8 731.4,2039.5 734.4,2039.3 737.3,2039.2 740.3,2039.2 743.2,2039.1 746.2,2039 749.1,2038.8 752.1,2038.7 755,2038.5 758,2038.4 760.9,2038.4 763.9,2038.3 766.8,2038.2 769.8,2038.1 772.7,2038 775.7,2037.8 778.6,2037.5 781.6,2037.3 784.5,2037.1 787.5,2037 790.4,2036.9 793.4,2036.7 796.3,2036.5 799.3,2036.4 802.2,2036.3 805.2,2036.1 808.1,2035.9 811.1,2035.5 814,2035.1 817,2034.6 819.9,2034.1 822.9,2033.6 825.8,2033 828.8,2032.6 831.7,2032.2 834.7,2031.8 837.6,2031.4 840.6,2031 843.5,2030.6 846.5,2030.3 849.4,2030 852.4,2029.7 855.3,2029.5 858.3,2029.4 861.2,2029.4 864.2,2029.3 867.1,2029.3 870.1,2029.2 873,2029.1 876,2029.2 878.9,2029.3 881.9,2029.4 884.8,2029.5 887.8,2029.5 890.7,2029.6 893.7,2029.8 896.6,2030.1 899.6,2030.6 902.5,2031.1 905.5,2031.7 908.4,2032.3 911.4,2032.9 914.3,2033.6 917.3,2034.2 920.2,2034.6 923.2,2034.9 926.1,2035.1 929.1,2035.1 932,2034.9 935,2034.5 937.9,2034 940.9,2033.5 943.8,2032.8 946.8,2032.1 949.7,2031.2 952.7,2030.2 955.6,2029.2 958.6,2028 961.5,2026.8 964.5,2025.6 967.4,2024.5 970.4,2023.3 973.3,2022.1 976.3,2020.8 979.2,2019.4 982.2,2017.9 985.1,2016.5 988.1,2015.2 991,2014.2 994,2013.4 996.9,2012.8 999.9,2012.1 1002.8,2011.5 1005.8,2011.2 1008.7,2011 1011.7,2010.9 1014.6,2011 1017.6,2011.2 1020.5,2011.8 1023.5,2012.7 1026.4,2013.7 1029.4,2014.9 1032.3,2016.3 1035.3,2017.8 1038.2,2019.2 1041.2,2020.5 1044.1,2021.5 1047.1,2022.4 1050,2023.3 1053,2024.5 1055.9,2026.2 1058.9,2028.2 1061.9,2030 1064.8,2031.9 1067.8,2033.5 1070.7,2034.9 1073.7,2036 1076.6,2036.9 1079.6,2037.4 1082.5,2037.5 1085.5,2037.2 1088.4,2036.6 1091.4,2035.6 1094.3,2034.3 1097.3,2032.7 1100.2,2030.9 1103.2,2029.1 1106.1,2027.3 1109.1,2025.5 1112,2023.8 1115,2022.2 1117.9,2020.7 1120.9,2019.4 1123.8,2018.5 1126.8,2017.9 1129.7,2017.6 1132.7,2017.5 1135.6,2017.5 1138.6,2017.8 1141.5,2018.5 1144.5,2019.4 1147.4,2020.5 1150.4,2021.6 1153.3,2022.6 1156.3,2023.6 1159.2,2024.8 1162.2,2026.3 1165.1,2027.8 1168.1,2029 1171,2029.6 1174,2029.7 1176.9,2029 1179.9,2027.7 1182.8,2026.1 1185.8,2024.5 1188.7,2023.2 1191.7,2021.9 1194.6,2020.9 1197.6,2019.9 1200.5,2018.8 1203.5,2017.7 1206.4,2016.8 1209.4,2016.1 1212.3,2015.6 1215.3,2015.5 1218.2,2016.8 1221.2,2019.3 1224.1,2022.5 1227.1,2025.6 1230,2028.5 1233,2031.6 1235.9,2034.1 1238.9,2035.7 1241.8,2036.5 1244.8,2036.8 1247.7,2036.5 1250.7,2035.8 1253.6,2034.7 1256.6,2033.3 1259.5,2032 1262.5,2030.7 1265.4,2029.5 1268.4,2028.1 1271.3,2026.8 1274.3,2025.4 1277.2,2023.9 1280.2,2022.4 1283.1,2020.8 1286.1,2019.3 1289,2017.8 1292,2016.4 1294.9,2015.1 1297.9,2013.9 1300.8,2012.8 1303.8,2011.8 1306.7,2011 1309.7,2010.4 1312.6,2009.9 1315.6,2009.4 1318.5,2009 1321.5,2008.7 1324.4,2008.6 1327.4,2008.8 1330.3,2009.5 1333.3,2010.4 1336.2,2011.2 1339.2,2011.7 1342.1,2012.1 1345.1,2011.9 1348,2011.6 1351,2011.4 1353.9,2011.5 1356.9,2011.7 1359.8,2012.5 1362.8,2013.9 1365.7,2015.9 1368.7,2018.3 1371.6,2021.6 1374.6,2025.1 1377.5,2028.3 1380.5,2031.1 1383.4,2033.2 1386.4,2034.5 1389.3,2034.9 1392.3,2034.7 1395.2,2034 1398.2,2033 1401.1,2031.7 1404.1,2030.3 1407,2028.6 1410,2027.1 1412.9,2025.9 1415.9,2024.8 1418.8,2023.9 1421.8,2023.8 1424.7,2024.3 1427.7,2025.1 1430.6,2026.4 1433.6,2028.1 1436.5,2029.6 1439.5,2031 1442.4,2032.4 1445.4,2033.3 1448.3,2033.6 1451.3,2033.8 1454.2,2034.4 1457.2,2035.6 1460.1,2037.2 1463.1,2039 1466,2040.5 1469,2041.8 1471.9,2043.4 1474.9,2045.1 1477.8,2046.5 1480.8,2047.4 1483.7,2047.6 1486.7,2046.8 1489.6,2045.5 1492.6,2044.4 1495.5,2043.5 1498.5,2042.6 1501.4,2042.7 1504.4,2043.9 1507.3,2045.8 1510.3,2047.8 1513.2,2049.3 1516.2,2050.5 1519.1,2051.2 1522.1,2051.2 1525,2050.5 1528,2049.3 1530.9,2047.6 1533.9,2045.4 1536.8,2043.3 1539.8,2041.6 1542.7,2040.6 1545.7,2040.2 1548.6,2040.1 1551.6,2040.5 1554.6,2041.6 1557.5,2042.8 1560.5,2044 1563.4,2045.3 1566.4,2046.6 1569.3,2047.9 1572.3,2049.4 1575.2,2051.8 1578.2,2055.3 1581.1,2059.6 1584.1,2063.7 1587,2067.1 1590,2069.3 1592.9,2070.5 1595.9,2071.5 1598.8,2073 1601.8,2075.7 1604.7,2079.1 1607.7,2083 1610.6,2087.6 1613.6,2092.5 1616.5,2096.9 1619.5,2100.3 1622.4,2102.5 1625.4,2103.6 1628.3,2104.6 1631.3,2105.9 1634.2,2107.4 1637.2,2109.5 1640.1,2111.4 1643.1,2113.2 1646,2114.3 1649,2114.8 1651.9,2115.2 1654.9,2115.2 1657.8,2115.2 1660.8,2114.9 1663.7,2114.5 1666.7,2113.6 1669.6,2112.4 1672.6,2110.6 1675.5,2108.3 1678.5,2105.7 1681.4,2102.6 1684.4,2099.4 1687.3,2096.1 1690.3,2092.7 1693.2,2089.1 1696.2,2085.3 1699.1,2081.3 1702.1,2077.2 1705,2073.1 1708,2069.1 1710.9,2065.4 1713.9,2061.7 1716.8,2058.1 1719.8,2054.5 1722.7,2050.7 1725.7,2047.3 1728.6,2044.3 1731.6,2042 1734.5,2040.2 1737.5,2039.3 1740.4,2038.9 1743.4,2039.1 1746.3,2039.6 1749.3,2040.1 1752.2,2040.8 1755.2,2041.6 1758.1,2042.4 1761.1,2043.2 1764,2044.1 1767,2045.1 1769.9,2046.2 1772.9,2047.3 1775.8,2048.3 1778.8,2049.4 1781.7,2050.4 1784.7,2051.2 1787.6,2051.8 1790.6,2052.2 1793.5,2052.4 1796.5,2052.6 1799.4,2052.8 1802.4,2053.1 1805.3,2053.3 1808.3,2053.5 1811.2,2053.9 1814.2,2054.2 1817.1,2054.5 1820.1,2054.8 1823,2055.2 1826,2055.5 1828.9,2055.9 1831.9,2056.1 1834.8,2056.6 1837.8,2057.1 1840.7,2057.7 1843.7,2058.6 1846.6,2059.4 1849.6,2060 1852.5,2060.4 1855.5,2060.6 1858.4,2060.6 1861.4,2060.4 1864.3,2060.2 1867.3,2059.8 1870.2,2059.2 1873.2,2058.5 1876.1,2057.6 1879.1,2056.6 1882,2055.5 1885,2054.3 1887.9,2053 1890.9,2051.8 1893.8,2050.4 1896.8,2049.1 1899.7,2047.7 1902.7,2046.7 1905.6,2045.8 1908.6,2045 1911.5,2044.2 1914.5,2043.5 1917.4,2042.8 1920.4,2042.1 1923.3,2041.5 1926.3,2040.8 1929.2,2040.2 1932.2,2039.7 1935.1,2039.3 1938.1,2039.1 1941,2039.1 1944,2039 1946.9,2038.9 1949.9,2039 1952.8,2038.9 1955.8,2038.8 1958.7,2038.4 1961.7,2038.1 1964.6,2037.5 1967.6,2036.9 1970.5,2036.3 1973.5,2035.8 1976.4,2035.3 1979.4,2034.8 1982.3,2034.2 1985.3,2033.7 1988.2,2033.3 1991.2,2033.1 1994.1,2033 1997.1,2032.9 2000,2033 2003,2032.9 2005.9,2032.8 2008.9,2032.6 2011.8,2032.3 2014.8,2031.9 2017.7,2031.4 2020.7,2030.9 2023.6,2030.2 2026.6,2029.5 2029.5,2028.9 2032.5,2028.5 2035.4,2028.2 2038.4,2027.9 2041.4,2027.7 2044.3,2027.6 2047.3,2027.6 2050.2,2027.7 2053.2,2027.8 2056.1,2027.7 2059.1,2027.6 2062,2027.4 2065,2027.1 2067.9,2026.7 2070.9,2026.3 2073.8,2026 2076.8,2026 2079.7,2026.5 2082.7,2027.4 2085.6,2028.2 2088.6,2029.1 2091.5,2029.8 2094.5,2030.2 2097.4,2030.5 2100.4,2030.8 2103.3,2031.2 2106.3,2031.6 2109.2,2032 2112.2,2032.2 2115.1,2032.3 2118.1,2032.7 2121,2033.6 2124,2035.2 2126.9,2036.6 2129.9,2037.9 2132.8,2038.8 2135.8,2039.5 2138.7,2040 2141.7,2040.5 2144.6,2040.6 2147.6,2040.6 2150.5,2040.1 2153.5,2039.7 2156.4,2039.3 2159.4,2038.7 2162.3,2038 2165.3,2037.3 2168.2,2036.4 2171.2,2035.2 2174.1,2033.7 2177.1,2032 2180,2030.3 2183,2028.6 2185.9,2027.1 2188.9,2025.9 2191.8,2024.9 2194.8,2024.4 2197.7,2024.3 2200.7,2024.6 2203.6,2025 2206.6,2025.2 2209.5,2025.3 2212.5,2024.9 2215.4,2024.2 2218.4,2023.9 2221.3,2024.6 2224.3,2026.1 2227.2,2027.5 2230.2,2028.8 2233.1,2029.8 2236.1,2030.2 2239,2030.2 2242,2029.7 2244.9,2028.9 2247.9,2028.3 2250.8,2027.6 2253.8,2026.9 2256.7,2026.2 2259.7,2025.6 2262.6,2025.3 2265.6,2025.1 2268.5,2024.8 2271.5,2024.3 2274.4,2023.7 2277.4,2023.2 2280.3,2022.7 2283.3,2022.3 2286.2,2021.9 2289.2,2021.6 2292.1,2021.5 2295.1,2021.5 2298,2021.4 2301,2021.3 2303.9,2020.9 2306.9,2020.5 2309.8,2020 2312.8,2019.9 2315.7,2020.3 2318.7,2021.1 2321.6,2022.2 2324.6,2023.4 2327.5,2024.5 2330.5,2025.3 2333.4,2025.9 2336.4,2026.5 2339.3,2027.2 2342.3,2028 2345.2,2029.1 2348.2,2030.3 2351.1,2031.5 2354.1,2032.7 2357,2033.7 2360,2034.6 2362.9,2035.3 2365.9,2035.9 2368.8,2036.5 2371.8,2037 2374.7,2037.2 2377.7,2037.3 2380.6,2037.1 2383.6,2036.6 2386.5,2035.8 2389.5,2034.8 2392.4,2033.7 2395.4,2032.4 2398.3,2031 2401.3,2029.4 2404.2,2027.8 2407.2,2026.3 2410.1,2024.8 2413.1,2023.3 2416,2021.9 2419,2020.6 2421.9,2019.4 2424.9,2018.2 2427.8,2017.3 2430.8,2016.7 2433.7,2016.1 2436.7,2015.2 2439.6,2013.9 2442.6,2012.1 2445.5,2010 2448.5,2007 2451.4,2004 2454.4,2000.9 2457.3,1997.6 2460.3,1993.9 2463.2,1989.1 2466.2,1984.2 2469.1,1979.8 2472.1,1975.8 2475,1971.4 2478,1966.7 2480.9,1961.6 2483.9,1956.3 2486.8,1951 2489.8,1946.3 2492.7,1942.3 2495.7,1938.6 2498.6,1935.7 2501.6,1934.4 2504.5,1934.9 2507.5,1935.7 2510.4,1936.2 2513.4,1935.9 2516.3,1934.7 2519.3,1932.9 2522.2,1930.8 2525.2,1928.3 2528.1,1925.1 2531.1,1920.6 2534.1,1916.3 2537,1912.4 2540,1912.7 2542.9,1914.6 2545.9,1916.5 2548.8,1918 2551.8,1919.9 2554.7,1923.3 2557.7,1925.7 2560.6,1927.3 2563.6,1928.7 2566.5,1930.9 2569.5,1933 2572.4,1934.6 2575.4,1936.4 2578.3,1938.1 2581.3,1941.1 2584.2,1945.5 2587.2,1950.1 2590.1,1956.3 2593.1,1964 2596,1971.6 2599,1979.1 2601.9,1986.8 2604.9,1994.3 2607.8,2002.9 2610.8,2013.8 2613.7,2024.8 2616.7,2034.6 2619.6,2043.1 2622.6,2050.3 2625.5,2057.2 2628.5,2063.6 2631.4,2070.1 2634.4,2076.8 2637.3,2083.8 2640.3,2090.8 2643.2,2098.6 2646.2,2107.1 2649.1,2114.8 2652.1,2120.6 2655,2126.3 2658,2132.1 2660.9,2137.6 2663.9,2141.8 2666.8,2144 2669.8,2144.4 2672.7,2143.5 2675.7,2141 2678.6,2137.8 2681.6,2134.6 2684.5,2131 2687.5,2127.4 2690.4,2123.8 2693.4,2119.8 2696.3,2115.3 2699.3,2110.6 2702.2,2106.1 2705.2,2101.4 2708.1,2096.8 2711.1,2092.6 2714,2089 2717,2086 2719.9,2083.5 2722.9,2081.1 2725.8,2078.6 2728.8,2075.9 2731.7,2073.2 2734.7,2070.8 2737.6,2068.9 2740.6,2067 2743.5,2064.8 2746.5,2062.6 2749.4,2060.3 2752.4,2058.2 2755.3,2057 2758.3,2056.6 2761.2,2056.9 2764.2,2058.2 2767.1,2060.2 2770.1,2062.8 2773,2066.1 2776,2069.8 2778.9,2073.5 2781.9,2076.4 2784.8,2078.7 2787.8,2079.7 2790.7,2079.7 2793.7,2079.4 2796.6,2078.7 2799.6,2077.4 2802.5,2076.4 2805.5,2075.4 2808.4,2074.3 2811.4,2072.8 2814.3,2070.7 2817.3,2068.6 2820.2,2067 2823.2,2066 2826.1,2065.6 2829.1,2065.7 2832,2066.7 2835,2069.1 2837.9,2072.5 2840.9,2076.2 2843.8,2079.4 2846.8,2081.8 2849.7,2083.7 2852.7,2085.6 2855.6,2086.8 2858.6,2087.1 2861.5,2087.6 2864.5,2089.1 2867.4,2091 2870.4,2093.6 2873.3,2096.5 2876.3,2099.5 2879.2,2101.9 2882.2,2103.4 2885.1,2104.1 2888.1,2104 2891,2103.1 2894,2101.6 2896.9,2099.9 2899.9,2098.1 2902.8,2096.2 2905.8,2094.2 2908.7,2092 2911.7,2089.7 2914.6,2087.2 2917.6,2085 2920.5,2083.2 2923.5,2081.7 2926.4,2080.2 2929.4,2078.9 2932.3,2077.6 2935.3,2076.4 2938.2,2075.1 2941.2,2073.5 2944.1,2071.6 2947.1,2069.8 2950,2068.2 2953,2066.7 2955.9,2065.4 2958.9,2064.5 2961.8,2064.2 2964.8,2064.2 2967.7,2064.2 2970.7,2064.3 2973.6,2063.9 2976.6,2063.4 2979.5,2062.7 2982.5,2061.7 2985.4,2060.5 2988.4,2059.1 2991.3,2057.7 2994.3,2056.3 2997.2,2054.8 3000.2,2053.4 3003.1,2052.2 3006.1,2051.1 3009,2050 3012,2048.9 3014.9,2047.5 3017.9,2046 3020.8,2043.9 3023.8,2041.4 3026.8,2038.4 3029.7,2035.1 3032.7,2032 3035.6,2029.4 3038.6,2026.8 3041.5,2024.1 3044.5,2021.2 3047.4,2018.4 3050.4,2016 3053.3,2014.2 3056.3,2012.8 3059.2,2011.6 3062.2,2010.6 3065.1,2009.8 3068.1,2009.1 3071,2008.5 3074,2007.8 3076.9,2006.7 3079.9,2005.6 3082.8,2004.8 3085.8,2004.2 3088.7,2003.6 3091.7,2003.2 3094.6,2003 3097.6,2003 3100.5,2002.6 3103.5,2002.6 3106.4,2003.2 3109.4,2003.9 3112.3,2004.1 3115.3,2004.2 3118.2,2004.9 3121.2,2006.7 3124.1,2008.8 3127.1,2011.3 3130,2013.8 3133,2016.4 3135.9,2018.9 3138.9,2021.1 3141.8,2023.1 3144.8,2024.7 3147.7,2025.5 3150.7,2025.6 3153.6,2025.3 3156.6,2024.8 3159.5,2024.3 3162.5,2023.9 3165.4,2023.5 3168.4,2023 3171.3,2022.6 3174.3,2022.4 3177.2,2022.3 3180.2,2022 3183.1,2021.4 3186.1,2020.7 3189,2020 3192,2019.6 3194.9,2019.5 3197.9,2019.8 3200.8,2019.8 3203.8,2019.5 3206.7,2018.5 3209.7,2016.7 3212.6,2014.5 3215.6,2013 3218.5,2012.1 3221.5,2012.7 3224.4,2013.9 3227.4,2015.2 3230.3,2016.5 3233.3,2017.4 3236.2,2018.4 3239.2,2019.6 3242.1,2021.1 3245.1,2023.2 3248,2025.5 3251,2027.6 3253.9,2029.2 3256.9,2030.4 3259.8,2031.5 3262.8,2033.4 3265.7,2036.4 3268.7,2039.5 3271.6,2042.5 3274.6,2045.1 3277.5,2047.8 3280.5,2050 3283.4,2051.6 3286.4,2052.6 3289.3,2052.8 3292.3,2052.3 3295.2,2051.2 3298.2,2049.3 3301.1,2046.5 3304.1,2043 3307,2039.8 3310,2036.2 3312.9,2032.5 3315.9,2028.7 3318.8,2025 3321.8,2021.5 3324.7,2018.3 3327.7,2015.2 3330.6,2012.8 3333.6,2011.8 3336.5,2011.7 3339.5,2012.4 3342.4,2013.6 3345.4,2015.8 3348.3,2017.9 3351.3,2019.9 3354.2,2021.6 3357.2,2023.6 3360.1,2025.2 3363.1,2027.2 3366,2029.4 3369,2031.6 3371.9,2033.9 3374.9,2036.3 3377.8,2038.2 3380.8,2039.3 3383.7,2039.7 3386.7,2039.6 3389.6,2039.3 3392.6,2039.4 3395.5,2039.5 3398.5,2039.5 3401.4,2038.9 3404.4,2037.7 3407.3,2036.5 3410.3,2035.9 3413.2,2035.6 3416.2,2035.3 3419.1,2035.2 3422.1,2035.4 3425,2035.9 3428,2036.9 3430.9,2037.6 3433.9,2038 3436.8,2038.6 3439.8,2039.6 3442.7,2041.9 3445.7,2045.2 3448.6,2048.5 3451.6,2051.4 3454.5,2053.7 3457.5,2055.7 3460.4,2057.8 3463.4,2059.8" fill="none" stroke="#ff6d00" stroke-width="2" stroke-linejoin="round"/>
</g>
<path d="M1554.5 1990.2H1574.0V2011H1582.8L1564.3 2033.7L1545.8 2011H1554.5Z" fill="#ee3248"/>
<path d="M3435.9 1990H3455.7V2010H3464.8L3445.8 2033.2L3426.8 2010H3435.9Z" fill="#ee3248"/>
<text class="lg" x="36.5" y="1903.4" textLength="499.5" lengthAdjust="spacing" xml:space="preserve">MACD (12, 26, close)  <tspan fill="#ffcdd2">−0.03</tspan>  <tspan fill="#2962ff">−0.13</tspan>  <tspan fill="#ff6d00">−0.09</tspan></text>
<path d="M20 2186.6H3636" stroke="#3c3c3c" stroke-width="2" fill="none"/>
<text class="tm" x="74.5" y="2221.8">1930</text>
<text class="tm" x="180.7" y="2221.8">1933</text>
<text class="tm" x="286.9" y="2221.8">1936</text>
<text class="tm" x="393.1" y="2221.8">1939</text>
<text class="tm" x="499.3" y="2221.8">1942</text>
<text class="tm" x="605.6" y="2221.8">1945</text>
<text class="tm" x="711.8" y="2221.8">1948</text>
<text class="tm" x="818.0" y="2221.8">1951</text>
<text class="tm" x="924.2" y="2221.8">1954</text>
<text class="tm" x="1030.4" y="2221.8">1957</text>
<text class="tm" x="1136.6" y="2221.8">1960</text>
<text class="tm" x="1242.8" y="2221.8">1963</text>
<text class="tm" x="1349.0" y="2221.8">1966</text>
<text class="tm" x="1455.2" y="2221.8">1969</text>
<text class="tm" x="1561.5" y="2221.8">1972</text>
<text class="tm" x="1667.7" y="2221.8">1975</text>
<text class="tm" x="1773.9" y="2221.8">1978</text>
<text class="tm" x="1880.1" y="2221.8">1981</text>
<text class="tm" x="1986.3" y="2221.8">1984</text>
<text class="tm" x="2092.5" y="2221.8">1987</text>
<text class="tm" x="2198.7" y="2221.8">1990</text>
<text class="tm" x="2304.9" y="2221.8">1993</text>
<text class="tm" x="2411.1" y="2221.8">1996</text>
<text class="tm" x="2517.3" y="2221.8">1999</text>
<text class="tm" x="2623.6" y="2221.8">2002</text>
<text class="tm" x="2729.8" y="2221.8">2005</text>
<text class="tm" x="2836.0" y="2221.8">2008</text>
<text class="tm" x="2942.2" y="2221.8">2011</text>
<text class="tm" x="3048.4" y="2221.8">2014</text>
<text class="tm" x="3154.6" y="2221.8">2017</text>
<text class="tm" x="3260.8" y="2221.8">2020</text>
<text class="tm" x="3367.0" y="2221.8">2023</text>
<text class="tm" x="3473.2" y="2221.8">2026</text>
<text class="ax" x="3537.5" y="1388.8">0.00</text>
<text class="ax" x="3537.5" y="1282.8">0.50</text>
<text class="ax" x="3537.5" y="1176.7">1.00</text>
<text class="ax" x="3537.5" y="1070.7">1.50</text>
<text class="ax" x="3537.5" y="964.7">2.00</text>
<text class="ax" x="3537.5" y="858.6">2.50</text>
<text class="ax" x="3537.5" y="752.6">3.00</text>
<text class="ax" x="3537.5" y="646.6">3.50</text>
<text class="ax" x="3537.5" y="540.5">4.00</text>
<text class="ax" x="3537.5" y="434.5">4.50</text>
<text class="ax" x="3537.5" y="328.5">5.00</text>
<text class="ax" x="3537.5" y="222.4">5.50</text>
<text class="ax" x="3537.5" y="116.4">6.00</text>
<text class="ax" x="3537.5" y="1840.9">20.00</text>
<text class="ax" x="3537.5" y="1779.6">30.00</text>
<text class="ax" x="3537.5" y="1718.3">40.00</text>
<text class="ax" x="3537.5" y="1657.0">50.00</text>
<text class="ax" x="3537.5" y="1595.7">60.00</text>
<text class="ax" x="3537.5" y="1534.4">70.00</text>
<text class="ax" x="3537.5" y="1935.4">0.50</text>
<text class="ax" x="3537.5" y="2159.4">−0.50</text>
<rect x="3453.4" y="179.5" width="143.4" height="32.2" rx="5" fill="#e3ebfa"/>
<text x="3461.4" y="203.2" font-size="21.5" fill="#131722" letter-spacing="1.1">High</text>
<text x="3537.5" y="203.2" font-size="21.5" fill="#131722" letter-spacing="1.1">5.59</text>
<rect x="3460" y="1338.4" width="135" height="31.7" rx="5" fill="#e3ebfa"/>
<text x="3468" y="1361.8" font-size="21.5" fill="#131722" letter-spacing="1.1">Low</text>
<text x="3537.5" y="1361.8" font-size="21.5" fill="#131722" letter-spacing="1.1">0.13</text>
<path d="M3521.2 54V2242" stroke="#474747" stroke-width="1.9" fill="none"/>
<rect x="20" y="1468.5" width="3616" height="2.5" fill="#e2e7e4"/>
<rect x="20" y="1862.0" width="3616" height="2.5" fill="#e2e7e4"/>
<path d="M3521.2 941.6H3591a4 4 0 0 1 4 4V970a4 4 0 0 1 -4 4H3521.2Z" fill="#ff9800"/>
<text x="3537.5" y="965.6" font-size="22" fill="#000" letter-spacing="1.3">1.99</text>
<path d="M3521.2 996H3623a4 4 0 0 1 4 4V1049.8a4 4 0 0 1 -4 4H3521.2Z" fill="#6aa384"/>
<text x="3537.5" y="1019.5" font-size="22" fill="#fff" letter-spacing="1.1">1.74</text>
<text x="3537.5" y="1046.5" font-size="22" fill="#d6ecd9" textLength="75" lengthAdjust="spacing">28d 8h</text>
<path d="M3521.2 1431.2H3609a4 4 0 0 1 4 4V1458.9a4 4 0 0 1 -4 4H3521.2Z" fill="#26a69a"/>
<text x="3537.5" y="1454.9" font-size="22" fill="#fff" textLength="63" lengthAdjust="spacing">9.41 B</text>
<path d="M3521.2 1674.7H3609a4 4 0 0 1 4 4V1701.8a4 4 0 0 1 -4 4H3521.2Z" fill="#ff9800"/>
<text x="3537.5" y="1698.0" font-size="22" fill="#000" letter-spacing="1.3">43.26</text>
<path d="M3521.2 1710.5H3604.7a4 4 0 0 1 4 4V1737.4a4 4 0 0 1 -4 4H3521.2Z" fill="#7e57c2"/>
<text x="3537.5" y="1733.8" font-size="22" fill="#fff" letter-spacing="1.3">37.36</text>
<path d="M3521.2 2033H3608.7a4 4 0 0 1 4 4V2059a4 4 0 0 1 -4 4H3521.2Z" fill="#ffcdd2"/>
<text x="3537.5" y="2055.8" font-size="22" fill="#000" letter-spacing="1.3">−0.03</text>
<path d="M3521.2 2063.6H3608.7a4 4 0 0 1 4 4V2090.6a4 4 0 0 1 -4 4H3521.2Z" fill="#ff6d00"/>
<text x="3537.5" y="2086.9" font-size="22" fill="#fff" letter-spacing="1.3">−0.09</text>
<path d="M3521.2 2095.2H3604.8a4 4 0 0 1 4 4V2121a4 4 0 0 1 -4 4H3521.2Z" fill="#2962ff"/>
<text x="3537.5" y="2117.9" font-size="22" fill="#fff" letter-spacing="1.3">−0.13</text>
<circle cx="3464.2" cy="1444.0" r="21.3" fill="#fff"/>
<circle cx="3464.2" cy="1444.0" r="18.9" fill="#fff" stroke="#9c27b0" stroke-width="2.7"/>
<path d="M3470.6 1433.3L3455.5 1444.9L3465.1 1445.2L3457.4 1454.7L3472.7 1443.1L3462.9 1442.8Z" fill="#9c27b0"/>
<path d="M24 2286.3H48V2315.7H35.9V2297.8H24Z" fill="#131722"/>
<circle cx="58.2" cy="2291.9" r="6.2" fill="#131722"/>
<path d="M68.3 2286.3H83.9L73 2315.7H57.9Z" fill="#131722"/>
<text x="97.5" y="2315.7" font-size="40" font-weight="bold" fill="#131722" textLength="243" lengthAdjust="spacingAndGlyphs">TradingView</text>
</svg></body></html>
